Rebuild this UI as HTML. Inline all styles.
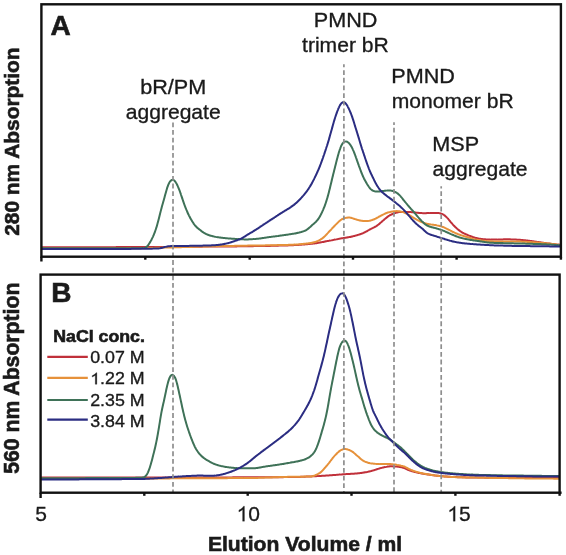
<!DOCTYPE html>
<html><head><meta charset="utf-8"><style>
html,body{margin:0;padding:0;background:#fff;}
body{width:566px;height:555px;overflow:hidden;}
svg{display:block;will-change:transform;}
text{font-family:"Liberation Sans",sans-serif;fill:#1a1a1a;}
.b{font-weight:bold;stroke:#1a1a1a;stroke-width:0.6;}
.r{stroke:#1a1a1a;stroke-width:0.32;}
</style></head><body>
<svg width="566" height="555" viewBox="0 0 566 555">
<rect width="566" height="555" fill="#fff"/>
<g fill="none" stroke-width="2.0" stroke-linejoin="round" stroke-linecap="round">
<path d="M42.0,247.3 C42.2,247.3 42.7,247.3 43.0,247.3 C43.3,247.3 43.7,247.3 44.0,247.3 C44.3,247.3 44.7,247.3 45.0,247.3 C45.3,247.3 45.7,247.3 46.0,247.3 C46.3,247.3 46.7,247.3 47.0,247.3 C47.3,247.3 47.7,247.3 48.0,247.3 C48.3,247.3 48.7,247.3 49.0,247.3 C49.3,247.3 49.7,247.3 50.0,247.3 C50.3,247.3 50.7,247.3 51.0,247.3 C51.3,247.3 51.7,247.3 52.0,247.3 C52.3,247.3 52.7,247.3 53.0,247.3 C53.3,247.3 53.7,247.3 54.0,247.3 C54.3,247.3 54.7,247.3 55.0,247.3 C55.3,247.3 55.7,247.3 56.0,247.3 C56.3,247.3 56.7,247.3 57.0,247.3 C57.3,247.3 57.7,247.3 58.0,247.3 C58.3,247.3 58.7,247.3 59.0,247.3 C59.3,247.3 59.7,247.3 60.0,247.3 C60.3,247.3 60.7,247.3 61.0,247.3 C61.3,247.3 61.7,247.3 62.0,247.3 C62.3,247.3 62.7,247.3 63.0,247.3 C63.3,247.3 63.7,247.3 64.0,247.3 C64.3,247.3 64.7,247.3 65.0,247.3 C65.3,247.3 65.7,247.3 66.0,247.3 C66.3,247.3 66.7,247.3 67.0,247.3 C67.3,247.3 67.7,247.3 68.0,247.3 C68.3,247.3 68.7,247.3 69.0,247.3 C69.3,247.3 69.7,247.3 70.0,247.3 C70.3,247.3 70.7,247.3 71.0,247.3 C71.3,247.3 71.7,247.3 72.0,247.3 C72.3,247.3 72.7,247.3 73.0,247.3 C73.3,247.3 73.7,247.3 74.0,247.3 C74.3,247.3 74.7,247.3 75.0,247.3 C75.3,247.3 75.7,247.3 76.0,247.3 C76.3,247.3 76.7,247.3 77.0,247.3 C77.3,247.3 77.7,247.3 78.0,247.3 C78.3,247.3 78.7,247.3 79.0,247.2 C79.3,247.2 79.7,247.2 80.0,247.2 C80.3,247.2 80.7,247.2 81.0,247.2 C81.3,247.2 81.7,247.2 82.0,247.2 C82.3,247.2 82.7,247.2 83.0,247.2 C83.3,247.2 83.7,247.2 84.0,247.2 C84.3,247.2 84.7,247.2 85.0,247.2 C85.3,247.2 85.7,247.2 86.0,247.2 C86.3,247.2 86.7,247.2 87.0,247.2 C87.3,247.2 87.7,247.2 88.0,247.2 C88.3,247.2 88.7,247.2 89.0,247.2 C89.3,247.2 89.7,247.2 90.0,247.2 C90.3,247.2 90.7,247.2 91.0,247.2 C91.3,247.2 91.7,247.2 92.0,247.2 C92.3,247.2 92.7,247.2 93.0,247.2 C93.3,247.2 93.7,247.2 94.0,247.2 C94.3,247.2 94.7,247.2 95.0,247.2 C95.3,247.2 95.7,247.2 96.0,247.2 C96.3,247.2 96.7,247.2 97.0,247.2 C97.3,247.2 97.7,247.2 98.0,247.2 C98.3,247.2 98.7,247.2 99.0,247.2 C99.3,247.2 99.7,247.2 100.0,247.2 C100.3,247.2 100.7,247.2 101.0,247.2 C101.3,247.2 101.7,247.2 102.0,247.2 C102.3,247.2 102.7,247.2 103.0,247.2 C103.3,247.2 103.7,247.2 104.0,247.2 C104.3,247.2 104.7,247.2 105.0,247.2 C105.3,247.2 105.7,247.2 106.0,247.2 C106.3,247.2 106.7,247.2 107.0,247.2 C107.3,247.2 107.7,247.2 108.0,247.2 C108.3,247.2 108.7,247.2 109.0,247.2 C109.3,247.2 109.7,247.2 110.0,247.2 C110.3,247.2 110.7,247.2 111.0,247.2 C111.3,247.2 111.7,247.2 112.0,247.2 C112.3,247.2 112.7,247.2 113.0,247.2 C113.3,247.2 113.7,247.2 114.0,247.2 C114.3,247.2 114.7,247.2 115.0,247.2 C115.3,247.2 115.7,247.2 116.0,247.1 C116.3,247.1 116.7,247.1 117.0,247.1 C117.3,247.1 117.7,247.1 118.0,247.1 C118.3,247.1 118.7,247.1 119.0,247.1 C119.3,247.1 119.7,247.1 120.0,247.1 C120.3,247.1 120.7,247.1 121.0,247.1 C121.3,247.1 121.7,247.1 122.0,247.1 C122.3,247.1 122.7,247.1 123.0,247.1 C123.3,247.1 123.7,247.1 124.0,247.1 C124.3,247.1 124.7,247.1 125.0,247.1 C125.3,247.1 125.7,247.1 126.0,247.1 C126.3,247.1 126.7,247.1 127.0,247.1 C127.3,247.1 127.7,247.1 128.0,247.1 C128.3,247.1 128.7,247.1 129.0,247.1 C129.3,247.1 129.7,247.1 130.0,247.1 C130.3,247.1 130.7,247.1 131.0,247.1 C131.3,247.1 131.7,247.1 132.0,247.1 C132.3,247.1 132.7,247.1 133.0,247.1 C133.3,247.1 133.7,247.1 134.0,247.1 C134.3,247.1 134.7,247.1 135.0,247.1 C135.3,247.1 135.7,247.1 136.0,247.1 C136.3,247.1 136.7,247.1 137.0,247.1 C137.3,247.1 137.7,247.1 138.0,247.0 C138.3,247.0 138.7,247.0 139.0,247.0 C139.3,247.0 139.7,247.0 140.0,247.0 C140.3,247.0 140.7,247.0 141.0,247.0 C141.3,247.0 141.7,247.0 142.0,247.0 C142.3,247.0 142.7,247.0 143.0,247.0 C143.3,247.0 143.7,247.0 144.0,247.0 C144.3,247.0 144.7,247.0 145.0,247.0 C145.3,247.0 145.7,247.0 146.0,247.0 C146.3,247.0 146.7,247.0 147.0,247.0 C147.3,247.0 147.7,247.0 148.0,247.0 C148.3,247.0 148.7,247.0 149.0,247.0 C149.3,247.0 149.7,247.0 150.0,247.0 C150.3,247.0 150.7,247.0 151.0,247.0 C151.3,247.0 151.7,247.0 152.0,247.0 C152.3,247.0 152.7,247.0 153.0,247.0 C153.3,247.0 153.7,247.0 154.0,247.0 C154.3,247.0 154.7,247.0 155.0,247.0 C155.3,247.0 155.7,247.0 156.0,246.9 C156.3,246.9 156.7,246.9 157.0,246.9 C157.3,246.9 157.7,246.9 158.0,246.9 C158.3,246.9 158.7,246.9 159.0,246.9 C159.3,246.9 159.7,246.9 160.0,246.9 C160.3,246.9 160.7,246.9 161.0,246.9 C161.3,246.9 161.7,246.9 162.0,246.9 C162.3,246.9 162.7,246.9 163.0,246.9 C163.3,246.9 163.7,246.9 164.0,246.9 C164.3,246.9 164.7,246.9 165.0,246.9 C165.3,246.9 165.7,246.9 166.0,246.9 C166.3,246.9 166.7,246.9 167.0,246.9 C167.3,246.9 167.7,246.9 168.0,246.9 C168.3,246.9 168.7,246.9 169.0,246.9 C169.3,246.9 169.7,246.9 170.0,246.9 C170.3,246.9 170.7,246.9 171.0,246.9 C171.3,246.9 171.7,246.9 172.0,246.9 C172.3,246.8 172.7,246.8 173.0,246.8 C173.3,246.8 173.7,246.8 174.0,246.8 C174.3,246.8 174.7,246.8 175.0,246.8 C175.3,246.8 175.7,246.8 176.0,246.8 C176.3,246.8 176.7,246.8 177.0,246.8 C177.3,246.8 177.7,246.8 178.0,246.8 C178.3,246.8 178.7,246.8 179.0,246.8 C179.3,246.8 179.7,246.8 180.0,246.8 C180.3,246.8 180.7,246.8 181.0,246.8 C181.3,246.8 181.7,246.8 182.0,246.8 C182.3,246.8 182.7,246.8 183.0,246.8 C183.3,246.8 183.7,246.8 184.0,246.8 C184.3,246.8 184.7,246.8 185.0,246.8 C185.3,246.8 185.7,246.8 186.0,246.8 C186.3,246.8 186.7,246.8 187.0,246.8 C187.3,246.8 187.7,246.8 188.0,246.7 C188.3,246.7 188.7,246.7 189.0,246.7 C189.3,246.7 189.7,246.7 190.0,246.7 C190.3,246.7 190.7,246.7 191.0,246.7 C191.3,246.7 191.7,246.7 192.0,246.7 C192.3,246.7 192.7,246.7 193.0,246.7 C193.3,246.7 193.7,246.7 194.0,246.7 C194.3,246.7 194.7,246.7 195.0,246.7 C195.3,246.7 195.7,246.7 196.0,246.7 C196.3,246.7 196.7,246.7 197.0,246.7 C197.3,246.7 197.7,246.7 198.0,246.7 C198.3,246.7 198.7,246.7 199.0,246.7 C199.3,246.7 199.7,246.7 200.0,246.7 C200.3,246.7 200.7,246.7 201.0,246.7 C201.3,246.7 201.7,246.7 202.0,246.7 C202.3,246.7 202.7,246.7 203.0,246.6 C203.3,246.6 203.7,246.6 204.0,246.6 C204.3,246.6 204.7,246.6 205.0,246.6 C205.3,246.6 205.7,246.6 206.0,246.6 C206.3,246.6 206.7,246.6 207.0,246.6 C207.3,246.6 207.7,246.6 208.0,246.6 C208.3,246.6 208.7,246.6 209.0,246.6 C209.3,246.6 209.7,246.6 210.0,246.6 C210.3,246.6 210.7,246.6 211.0,246.6 C211.3,246.6 211.7,246.6 212.0,246.6 C212.3,246.6 212.7,246.6 213.0,246.6 C213.3,246.6 213.7,246.6 214.0,246.6 C214.3,246.6 214.7,246.6 215.0,246.6 C215.3,246.6 215.7,246.6 216.0,246.5 C216.3,246.5 216.7,246.5 217.0,246.5 C217.3,246.5 217.7,246.5 218.0,246.5 C218.3,246.5 218.7,246.5 219.0,246.5 C219.3,246.5 219.7,246.5 220.0,246.5 C220.3,246.5 220.7,246.5 221.0,246.5 C221.3,246.5 221.7,246.5 222.0,246.5 C222.3,246.5 222.7,246.5 223.0,246.5 C223.3,246.5 223.7,246.5 224.0,246.5 C224.3,246.5 224.7,246.5 225.0,246.5 C225.3,246.5 225.7,246.5 226.0,246.5 C226.3,246.5 226.7,246.5 227.0,246.5 C227.3,246.5 227.7,246.4 228.0,246.4 C228.3,246.4 228.7,246.4 229.0,246.4 C229.3,246.4 229.7,246.4 230.0,246.4 C230.3,246.4 230.7,246.4 231.0,246.4 C231.3,246.4 231.7,246.4 232.0,246.4 C232.3,246.4 232.7,246.4 233.0,246.4 C233.3,246.4 233.7,246.4 234.0,246.4 C234.3,246.4 234.7,246.4 235.0,246.4 C235.3,246.4 235.7,246.4 236.0,246.4 C236.3,246.4 236.7,246.4 237.0,246.4 C237.3,246.3 237.7,246.3 238.0,246.3 C238.3,246.3 238.7,246.3 239.0,246.3 C239.3,246.3 239.7,246.3 240.0,246.3 C240.3,246.3 240.7,246.3 241.0,246.3 C241.3,246.3 241.7,246.3 242.0,246.3 C242.3,246.3 242.7,246.3 243.0,246.3 C243.3,246.3 243.7,246.3 244.0,246.3 C244.3,246.3 244.7,246.3 245.0,246.3 C245.3,246.3 245.7,246.3 246.0,246.3 C246.3,246.2 246.7,246.2 247.0,246.2 C247.3,246.2 247.7,246.2 248.0,246.2 C248.3,246.2 248.7,246.2 249.0,246.2 C249.3,246.2 249.7,246.2 250.0,246.2 C250.3,246.2 250.7,246.2 251.0,246.2 C251.3,246.2 251.7,246.2 252.0,246.2 C252.3,246.2 252.7,246.2 253.0,246.2 C253.3,246.2 253.7,246.2 254.0,246.1 C254.3,246.1 254.7,246.1 255.0,246.1 C255.3,246.1 255.7,246.1 256.0,246.1 C256.3,246.1 256.7,246.1 257.0,246.1 C257.3,246.1 257.7,246.1 258.0,246.1 C258.3,246.1 258.7,246.1 259.0,246.1 C259.3,246.1 259.7,246.1 260.0,246.1 C260.3,246.0 260.7,246.0 261.0,246.0 C261.3,246.0 261.7,246.0 262.0,246.0 C262.3,246.0 262.7,246.0 263.0,246.0 C263.3,246.0 263.7,246.0 264.0,246.0 C264.3,246.0 264.7,246.0 265.0,246.0 C265.3,246.0 265.7,246.0 266.0,245.9 C266.3,245.9 266.7,245.9 267.0,245.9 C267.3,245.9 267.7,245.9 268.0,245.9 C268.3,245.9 268.7,245.9 269.0,245.9 C269.3,245.9 269.7,245.9 270.0,245.9 C270.3,245.9 270.7,245.9 271.0,245.8 C271.3,245.8 271.7,245.8 272.0,245.8 C272.3,245.8 272.7,245.8 273.0,245.8 C273.3,245.8 273.7,245.8 274.0,245.8 C274.3,245.8 274.7,245.8 275.0,245.8 C275.3,245.7 275.7,245.7 276.0,245.7 C276.3,245.7 276.7,245.7 277.0,245.7 C277.3,245.7 277.7,245.7 278.0,245.7 C278.3,245.7 278.7,245.7 279.0,245.6 C279.3,245.6 279.7,245.6 280.0,245.6 C280.3,245.6 280.7,245.6 281.0,245.6 C281.3,245.6 281.7,245.6 282.0,245.6 C282.3,245.6 282.7,245.5 283.0,245.5 C283.3,245.5 283.7,245.5 284.0,245.5 C284.3,245.5 284.7,245.5 285.0,245.5 C285.3,245.5 285.7,245.4 286.0,245.4 C286.3,245.4 286.7,245.4 287.0,245.4 C287.3,245.4 287.7,245.4 288.0,245.4 C288.3,245.4 288.7,245.3 289.0,245.3 C289.3,245.3 289.7,245.3 290.0,245.3 C290.3,245.3 290.7,245.3 291.0,245.3 C291.3,245.2 291.7,245.2 292.0,245.2 C292.3,245.2 292.7,245.2 293.0,245.2 C293.3,245.2 293.7,245.1 294.0,245.1 C294.3,245.1 294.7,245.1 295.0,245.1 C295.3,245.1 295.7,245.0 296.0,245.0 C296.3,245.0 296.7,245.0 297.0,245.0 C297.3,244.9 297.7,244.9 298.0,244.9 C298.3,244.9 298.7,244.9 299.0,244.8 C299.3,244.8 299.7,244.8 300.0,244.8 C300.3,244.7 300.7,244.7 301.0,244.7 C301.3,244.7 301.7,244.6 302.0,244.6 C302.3,244.6 302.7,244.6 303.0,244.5 C303.3,244.5 303.7,244.5 304.0,244.5 C304.3,244.4 304.7,244.4 305.0,244.4 C305.3,244.3 305.7,244.3 306.0,244.3 C306.3,244.3 306.7,244.2 307.0,244.2 C307.3,244.2 307.7,244.1 308.0,244.1 C308.3,244.1 308.7,244.0 309.0,244.0 C309.3,244.0 309.7,243.9 310.0,243.9 C310.3,243.9 310.7,243.8 311.0,243.8 C311.3,243.8 311.7,243.7 312.0,243.7 C312.3,243.7 312.7,243.6 313.0,243.6 C313.3,243.6 313.7,243.5 314.0,243.5 C314.3,243.4 314.7,243.4 315.0,243.3 C315.3,243.3 315.7,243.3 316.0,243.2 C316.3,243.2 316.7,243.1 317.0,243.0 C317.3,243.0 317.7,242.9 318.0,242.9 C318.3,242.8 318.7,242.8 319.0,242.7 C319.3,242.6 319.7,242.6 320.0,242.5 C320.3,242.5 320.7,242.4 321.0,242.3 C321.3,242.3 321.7,242.2 322.0,242.1 C322.3,242.1 322.7,242.0 323.0,241.9 C323.3,241.9 323.7,241.8 324.0,241.7 C324.3,241.7 324.7,241.6 325.0,241.5 C325.3,241.5 325.7,241.4 326.0,241.3 C326.3,241.3 326.7,241.2 327.0,241.1 C327.3,241.1 327.7,241.0 328.0,241.0 C328.3,240.9 328.7,240.8 329.0,240.8 C329.3,240.7 329.7,240.6 330.0,240.6 C330.3,240.5 330.7,240.4 331.0,240.4 C331.3,240.3 331.7,240.2 332.0,240.2 C332.3,240.1 332.7,240.0 333.0,240.0 C333.3,239.9 333.7,239.8 334.0,239.8 C334.3,239.7 334.7,239.6 335.0,239.6 C335.3,239.5 335.7,239.4 336.0,239.4 C336.3,239.3 336.7,239.2 337.0,239.2 C337.3,239.1 337.7,239.0 338.0,239.0 C338.3,238.9 338.7,238.8 339.0,238.8 C339.3,238.7 339.7,238.7 340.0,238.6 C340.3,238.6 340.7,238.5 341.0,238.4 C341.3,238.4 341.7,238.3 342.0,238.3 C342.3,238.2 342.7,238.2 343.0,238.1 C343.3,238.1 343.7,238.0 344.0,238.0 C344.3,237.9 344.7,237.9 345.0,237.8 C345.3,237.8 345.7,237.7 346.0,237.7 C346.3,237.6 346.7,237.6 347.0,237.5 C347.3,237.5 347.7,237.4 348.0,237.3 C348.3,237.3 348.7,237.2 349.0,237.1 C349.3,237.1 349.7,237.0 350.0,236.9 C350.3,236.9 350.7,236.8 351.0,236.7 C351.3,236.7 351.7,236.6 352.0,236.5 C352.3,236.4 352.7,236.4 353.0,236.3 C353.3,236.2 353.7,236.1 354.0,236.0 C354.3,235.9 354.7,235.9 355.0,235.8 C355.3,235.7 355.7,235.6 356.0,235.5 C356.3,235.4 356.7,235.3 357.0,235.2 C357.3,235.1 357.7,235.0 358.0,234.9 C358.3,234.8 358.7,234.7 359.0,234.6 C359.3,234.5 359.7,234.4 360.0,234.3 C360.3,234.2 360.7,234.1 361.0,233.9 C361.3,233.8 361.7,233.7 362.0,233.6 C362.3,233.4 362.7,233.3 363.0,233.2 C363.3,233.0 363.7,232.9 364.0,232.7 C364.3,232.6 364.7,232.4 365.0,232.2 C365.3,232.1 365.7,231.9 366.0,231.7 C366.3,231.5 366.7,231.3 367.0,231.1 C367.3,230.9 367.7,230.7 368.0,230.5 C368.3,230.4 368.7,230.2 369.0,230.0 C369.3,229.8 369.7,229.6 370.0,229.4 C370.3,229.2 370.7,229.0 371.0,228.9 C371.3,228.7 371.7,228.5 372.0,228.4 C372.3,228.2 372.7,228.0 373.0,227.9 C373.3,227.7 373.7,227.5 374.0,227.4 C374.3,227.2 374.7,227.0 375.0,226.8 C375.3,226.7 375.7,226.5 376.0,226.3 C376.3,226.1 376.7,225.9 377.0,225.7 C377.3,225.4 377.7,225.2 378.0,224.9 C378.3,224.7 378.7,224.4 379.0,224.2 C379.3,223.9 379.7,223.6 380.0,223.3 C380.3,223.0 380.7,222.7 381.0,222.4 C381.3,222.1 381.7,221.8 382.0,221.5 C382.3,221.2 382.7,220.9 383.0,220.6 C383.3,220.3 383.7,220.0 384.0,219.8 C384.3,219.5 384.7,219.2 385.0,218.9 C385.3,218.6 385.7,218.3 386.0,218.1 C386.3,217.8 386.7,217.5 387.0,217.2 C387.3,217.0 387.7,216.7 388.0,216.5 C388.3,216.2 388.7,216.0 389.0,215.8 C389.3,215.6 389.7,215.4 390.0,215.2 C390.3,215.0 390.7,214.8 391.0,214.7 C391.3,214.5 391.7,214.3 392.0,214.2 C392.3,214.1 392.7,213.9 393.0,213.8 C393.3,213.7 393.7,213.6 394.0,213.4 C394.3,213.3 394.7,213.2 395.0,213.1 C395.3,213.0 395.7,212.9 396.0,212.8 C396.3,212.7 396.7,212.6 397.0,212.5 C397.3,212.4 397.7,212.4 398.0,212.3 C398.3,212.2 398.7,212.1 399.0,212.1 C399.3,212.0 399.7,212.0 400.0,212.0 C400.3,211.9 400.7,211.9 401.0,211.9 C401.3,211.9 401.7,211.9 402.0,211.9 C402.3,211.9 402.7,211.9 403.0,211.9 C403.3,211.9 403.7,211.9 404.0,211.9 C404.3,211.9 404.7,211.9 405.0,211.9 C405.3,211.9 405.7,211.9 406.0,211.9 C406.3,211.9 406.7,211.9 407.0,211.9 C407.3,211.9 407.7,211.9 408.0,211.9 C408.3,211.9 408.7,211.9 409.0,211.9 C409.3,212.0 409.7,212.0 410.0,212.0 C410.3,212.0 410.7,212.1 411.0,212.1 C411.3,212.1 411.7,212.2 412.0,212.2 C412.3,212.2 412.7,212.3 413.0,212.3 C413.3,212.3 413.7,212.4 414.0,212.4 C414.3,212.5 414.7,212.5 415.0,212.5 C415.3,212.6 415.7,212.6 416.0,212.6 C416.3,212.7 416.7,212.7 417.0,212.7 C417.3,212.8 417.7,212.8 418.0,212.8 C418.3,212.9 418.7,212.9 419.0,212.9 C419.3,213.0 419.7,213.0 420.0,213.0 C420.3,213.0 420.7,213.1 421.0,213.1 C421.3,213.1 421.7,213.1 422.0,213.1 C422.3,213.2 422.7,213.2 423.0,213.2 C423.3,213.2 423.7,213.2 424.0,213.2 C424.3,213.2 424.7,213.2 425.0,213.2 C425.3,213.2 425.7,213.2 426.0,213.2 C426.3,213.1 426.7,213.1 427.0,213.1 C427.3,213.1 427.7,213.1 428.0,213.1 C428.3,213.1 428.7,213.1 429.0,213.1 C429.3,213.0 429.7,213.0 430.0,213.0 C430.3,213.0 430.7,213.0 431.0,213.0 C431.3,213.0 431.7,213.0 432.0,213.0 C432.3,213.0 432.7,213.0 433.0,213.0 C433.3,213.0 433.7,212.9 434.0,212.9 C434.3,212.9 434.7,212.9 435.0,212.9 C435.3,212.9 435.7,212.9 436.0,212.9 C436.3,212.9 436.7,212.9 437.0,212.9 C437.3,212.9 437.7,213.0 438.0,213.0 C438.3,213.0 438.7,213.1 439.0,213.1 C439.3,213.2 439.7,213.2 440.0,213.3 C440.3,213.4 440.7,213.5 441.0,213.6 C441.3,213.7 441.7,213.8 442.0,213.9 C442.3,214.0 442.7,214.2 443.0,214.4 C443.3,214.5 443.7,214.7 444.0,215.0 C444.3,215.2 444.7,215.5 445.0,215.7 C445.3,216.0 445.7,216.3 446.0,216.6 C446.3,216.9 446.7,217.2 447.0,217.6 C447.3,217.9 447.7,218.3 448.0,218.7 C448.3,219.1 448.7,219.5 449.0,219.9 C449.3,220.3 449.7,220.7 450.0,221.2 C450.3,221.6 450.7,222.0 451.0,222.4 C451.3,222.8 451.7,223.1 452.0,223.5 C452.3,223.9 452.7,224.3 453.0,224.7 C453.3,225.0 453.7,225.4 454.0,225.8 C454.3,226.1 454.7,226.5 455.0,226.8 C455.3,227.1 455.7,227.4 456.0,227.7 C456.3,228.1 456.7,228.3 457.0,228.6 C457.3,228.9 457.7,229.2 458.0,229.5 C458.3,229.7 458.7,230.0 459.0,230.2 C459.3,230.5 459.7,230.7 460.0,231.0 C460.3,231.2 460.7,231.4 461.0,231.6 C461.3,231.9 461.7,232.1 462.0,232.3 C462.3,232.5 462.7,232.6 463.0,232.8 C463.3,233.0 463.7,233.2 464.0,233.4 C464.3,233.5 464.7,233.7 465.0,233.8 C465.3,234.0 465.7,234.2 466.0,234.3 C466.3,234.5 466.7,234.6 467.0,234.7 C467.3,234.9 467.7,235.0 468.0,235.2 C468.3,235.3 468.7,235.4 469.0,235.6 C469.3,235.7 469.7,235.8 470.0,236.0 C470.3,236.1 470.7,236.2 471.0,236.4 C471.3,236.5 471.7,236.6 472.0,236.7 C472.3,236.9 472.7,237.0 473.0,237.1 C473.3,237.2 473.7,237.3 474.0,237.4 C474.3,237.5 474.7,237.6 475.0,237.7 C475.3,237.8 475.7,237.9 476.0,238.0 C476.3,238.1 476.7,238.1 477.0,238.2 C477.3,238.3 477.7,238.3 478.0,238.4 C478.3,238.5 478.7,238.5 479.0,238.6 C479.3,238.7 479.7,238.7 480.0,238.8 C480.3,238.8 480.7,238.9 481.0,238.9 C481.3,239.0 481.7,239.0 482.0,239.1 C482.3,239.1 482.7,239.1 483.0,239.2 C483.3,239.2 483.7,239.2 484.0,239.3 C484.3,239.3 484.7,239.3 485.0,239.3 C485.3,239.3 485.7,239.4 486.0,239.4 C486.3,239.4 486.7,239.4 487.0,239.4 C487.3,239.4 487.7,239.4 488.0,239.5 C488.3,239.5 488.7,239.5 489.0,239.5 C489.3,239.5 489.7,239.5 490.0,239.5 C490.3,239.5 490.7,239.5 491.0,239.6 C491.3,239.6 491.7,239.6 492.0,239.6 C492.3,239.6 492.7,239.6 493.0,239.6 C493.3,239.6 493.7,239.6 494.0,239.6 C494.3,239.6 494.7,239.6 495.0,239.6 C495.3,239.6 495.7,239.6 496.0,239.6 C496.3,239.6 496.7,239.6 497.0,239.6 C497.3,239.5 497.7,239.5 498.0,239.5 C498.3,239.5 498.7,239.5 499.0,239.5 C499.3,239.5 499.7,239.5 500.0,239.5 C500.3,239.5 500.7,239.4 501.0,239.4 C501.3,239.4 501.7,239.4 502.0,239.4 C502.3,239.4 502.7,239.4 503.0,239.4 C503.3,239.4 503.7,239.3 504.0,239.3 C504.3,239.3 504.7,239.3 505.0,239.3 C505.3,239.3 505.7,239.3 506.0,239.3 C506.3,239.3 506.7,239.3 507.0,239.3 C507.3,239.3 507.7,239.3 508.0,239.3 C508.3,239.3 508.7,239.3 509.0,239.3 C509.3,239.3 509.7,239.3 510.0,239.3 C510.3,239.4 510.7,239.4 511.0,239.4 C511.3,239.4 511.7,239.4 512.0,239.4 C512.3,239.4 512.7,239.4 513.0,239.5 C513.3,239.5 513.7,239.5 514.0,239.5 C514.3,239.5 514.7,239.5 515.0,239.5 C515.3,239.6 515.7,239.6 516.0,239.6 C516.3,239.6 516.7,239.6 517.0,239.7 C517.3,239.7 517.7,239.7 518.0,239.7 C518.3,239.7 518.7,239.8 519.0,239.8 C519.3,239.8 519.7,239.8 520.0,239.8 C520.3,239.9 520.7,239.9 521.0,239.9 C521.3,239.9 521.7,240.0 522.0,240.0 C522.3,240.0 522.7,240.1 523.0,240.1 C523.3,240.1 523.7,240.2 524.0,240.2 C524.3,240.2 524.7,240.3 525.0,240.3 C525.3,240.3 525.7,240.4 526.0,240.4 C526.3,240.5 526.7,240.5 527.0,240.5 C527.3,240.6 527.7,240.6 528.0,240.7 C528.3,240.7 528.7,240.7 529.0,240.8 C529.3,240.8 529.7,240.9 530.0,240.9 C530.3,241.0 530.7,241.0 531.0,241.0 C531.3,241.1 531.7,241.1 532.0,241.2 C532.3,241.2 532.7,241.3 533.0,241.3 C533.3,241.3 533.7,241.4 534.0,241.4 C534.3,241.5 534.7,241.5 535.0,241.6 C535.3,241.6 535.7,241.7 536.0,241.7 C536.3,241.8 536.7,241.8 537.0,241.9 C537.3,241.9 537.7,242.0 538.0,242.0 C538.3,242.1 538.7,242.1 539.0,242.1 C539.3,242.2 539.7,242.2 540.0,242.3 C540.3,242.3 540.7,242.4 541.0,242.4 C541.3,242.5 541.7,242.5 542.0,242.6 C542.3,242.6 542.7,242.7 543.0,242.7 C543.3,242.8 543.7,242.8 544.0,242.9 C544.3,242.9 544.7,243.0 545.0,243.0 C545.3,243.0 545.7,243.1 546.0,243.1 C546.3,243.2 546.7,243.2 547.0,243.3 C547.3,243.3 547.7,243.3 548.0,243.4 C548.3,243.4 548.7,243.5 549.0,243.5 C549.3,243.6 549.7,243.6 550.0,243.6 C550.3,243.7 550.7,243.7 551.0,243.8 C551.3,243.8 551.7,243.8 552.0,243.9 C552.3,243.9 552.7,244.0 553.0,244.0 C553.3,244.0 553.7,244.1 554.0,244.1 C554.3,244.2 554.7,244.2 555.0,244.2 C555.3,244.3 555.7,244.3 556.0,244.4 C556.3,244.4 556.7,244.4 557.0,244.5 C557.3,244.5 557.7,244.5 558.0,244.6 C558.3,244.6 558.7,244.6 559.0,244.7 C559.3,244.7 559.8,244.7 560.0,244.7" stroke="#c0303a"/>
<path d="M42.0,248.6 C42.2,248.6 42.7,248.6 43.0,248.6 C43.3,248.6 43.7,248.6 44.0,248.6 C44.3,248.6 44.7,248.6 45.0,248.6 C45.3,248.6 45.7,248.6 46.0,248.6 C46.3,248.6 46.7,248.6 47.0,248.6 C47.3,248.6 47.7,248.6 48.0,248.6 C48.3,248.6 48.7,248.6 49.0,248.6 C49.3,248.6 49.7,248.6 50.0,248.6 C50.3,248.6 50.7,248.6 51.0,248.6 C51.3,248.6 51.7,248.6 52.0,248.6 C52.3,248.6 52.7,248.6 53.0,248.6 C53.3,248.6 53.7,248.6 54.0,248.6 C54.3,248.6 54.7,248.6 55.0,248.6 C55.3,248.6 55.7,248.6 56.0,248.6 C56.3,248.6 56.7,248.6 57.0,248.6 C57.3,248.6 57.7,248.6 58.0,248.6 C58.3,248.6 58.7,248.6 59.0,248.6 C59.3,248.6 59.7,248.6 60.0,248.6 C60.3,248.6 60.7,248.6 61.0,248.6 C61.3,248.6 61.7,248.6 62.0,248.6 C62.3,248.6 62.7,248.6 63.0,248.6 C63.3,248.6 63.7,248.6 64.0,248.6 C64.3,248.6 64.7,248.6 65.0,248.6 C65.3,248.6 65.7,248.6 66.0,248.6 C66.3,248.6 66.7,248.6 67.0,248.6 C67.3,248.6 67.7,248.6 68.0,248.6 C68.3,248.6 68.7,248.6 69.0,248.6 C69.3,248.6 69.7,248.6 70.0,248.6 C70.3,248.6 70.7,248.6 71.0,248.6 C71.3,248.6 71.7,248.6 72.0,248.6 C72.3,248.6 72.7,248.6 73.0,248.6 C73.3,248.6 73.7,248.6 74.0,248.6 C74.3,248.6 74.7,248.6 75.0,248.6 C75.3,248.6 75.7,248.6 76.0,248.6 C76.3,248.6 76.7,248.6 77.0,248.6 C77.3,248.6 77.7,248.6 78.0,248.6 C78.3,248.6 78.7,248.6 79.0,248.6 C79.3,248.6 79.7,248.5 80.0,248.5 C80.3,248.5 80.7,248.5 81.0,248.5 C81.3,248.5 81.7,248.5 82.0,248.5 C82.3,248.5 82.7,248.5 83.0,248.5 C83.3,248.5 83.7,248.5 84.0,248.5 C84.3,248.5 84.7,248.5 85.0,248.5 C85.3,248.5 85.7,248.5 86.0,248.5 C86.3,248.5 86.7,248.5 87.0,248.5 C87.3,248.5 87.7,248.5 88.0,248.5 C88.3,248.5 88.7,248.5 89.0,248.5 C89.3,248.5 89.7,248.5 90.0,248.5 C90.3,248.5 90.7,248.5 91.0,248.5 C91.3,248.5 91.7,248.5 92.0,248.5 C92.3,248.5 92.7,248.5 93.0,248.5 C93.3,248.5 93.7,248.5 94.0,248.5 C94.3,248.5 94.7,248.5 95.0,248.5 C95.3,248.5 95.7,248.5 96.0,248.5 C96.3,248.5 96.7,248.5 97.0,248.5 C97.3,248.5 97.7,248.5 98.0,248.5 C98.3,248.5 98.7,248.5 99.0,248.5 C99.3,248.5 99.7,248.5 100.0,248.5 C100.3,248.5 100.7,248.5 101.0,248.5 C101.3,248.5 101.7,248.5 102.0,248.5 C102.3,248.5 102.7,248.5 103.0,248.5 C103.3,248.5 103.7,248.5 104.0,248.5 C104.3,248.5 104.7,248.5 105.0,248.5 C105.3,248.5 105.7,248.5 106.0,248.5 C106.3,248.5 106.7,248.5 107.0,248.5 C107.3,248.5 107.7,248.5 108.0,248.5 C108.3,248.5 108.7,248.5 109.0,248.4 C109.3,248.4 109.7,248.4 110.0,248.4 C110.3,248.4 110.7,248.4 111.0,248.4 C111.3,248.4 111.7,248.4 112.0,248.4 C112.3,248.4 112.7,248.4 113.0,248.4 C113.3,248.4 113.7,248.4 114.0,248.4 C114.3,248.4 114.7,248.4 115.0,248.4 C115.3,248.4 115.7,248.4 116.0,248.4 C116.3,248.4 116.7,248.4 117.0,248.4 C117.3,248.4 117.7,248.4 118.0,248.4 C118.3,248.4 118.7,248.4 119.0,248.4 C119.3,248.4 119.7,248.4 120.0,248.4 C120.3,248.4 120.7,248.4 121.0,248.4 C121.3,248.4 121.7,248.4 122.0,248.4 C122.3,248.4 122.7,248.4 123.0,248.4 C123.3,248.4 123.7,248.4 124.0,248.4 C124.3,248.4 124.7,248.4 125.0,248.4 C125.3,248.4 125.7,248.4 126.0,248.4 C126.3,248.4 126.7,248.3 127.0,248.3 C127.3,248.3 127.7,248.3 128.0,248.3 C128.3,248.3 128.7,248.3 129.0,248.3 C129.3,248.3 129.7,248.3 130.0,248.3 C130.3,248.3 130.7,248.3 131.0,248.3 C131.3,248.3 131.7,248.3 132.0,248.3 C132.3,248.3 132.7,248.3 133.0,248.3 C133.3,248.3 133.7,248.3 134.0,248.3 C134.3,248.3 134.7,248.2 135.0,248.2 C135.3,248.2 135.7,248.2 136.0,248.2 C136.3,248.2 136.7,248.2 137.0,248.2 C137.3,248.2 137.7,248.2 138.0,248.2 C138.3,248.2 138.7,248.2 139.0,248.2 C139.3,248.2 139.7,248.2 140.0,248.2 C140.3,248.1 140.7,248.1 141.0,248.1 C141.3,248.1 141.7,248.1 142.0,248.1 C142.3,248.1 142.7,248.1 143.0,248.1 C143.3,248.1 143.7,248.1 144.0,248.1 C144.3,248.1 144.7,248.1 145.0,248.1 C145.3,248.0 145.7,248.0 146.0,248.0 C146.3,248.0 146.7,248.0 147.0,248.0 C147.3,248.0 147.7,248.0 148.0,248.0 C148.3,248.0 148.7,248.0 149.0,248.0 C149.3,248.0 149.7,248.0 150.0,247.9 C150.3,247.9 150.7,247.9 151.0,247.9 C151.3,247.9 151.7,247.9 152.0,247.9 C152.3,247.9 152.7,247.9 153.0,247.9 C153.3,247.9 153.7,247.9 154.0,247.9 C154.3,247.8 154.7,247.8 155.0,247.8 C155.3,247.8 155.7,247.8 156.0,247.8 C156.3,247.8 156.7,247.8 157.0,247.8 C157.3,247.8 157.7,247.8 158.0,247.8 C158.3,247.7 158.7,247.7 159.0,247.7 C159.3,247.7 159.7,247.7 160.0,247.7 C160.3,247.7 160.7,247.7 161.0,247.7 C161.3,247.7 161.7,247.7 162.0,247.7 C162.3,247.6 162.7,247.6 163.0,247.6 C163.3,247.6 163.7,247.6 164.0,247.6 C164.3,247.6 164.7,247.6 165.0,247.6 C165.3,247.6 165.7,247.6 166.0,247.6 C166.3,247.5 166.7,247.5 167.0,247.5 C167.3,247.5 167.7,247.5 168.0,247.5 C168.3,247.5 168.7,247.5 169.0,247.5 C169.3,247.5 169.7,247.5 170.0,247.4 C170.3,247.4 170.7,247.4 171.0,247.4 C171.3,247.4 171.7,247.4 172.0,247.4 C172.3,247.4 172.7,247.4 173.0,247.4 C173.3,247.4 173.7,247.4 174.0,247.3 C174.3,247.3 174.7,247.3 175.0,247.3 C175.3,247.3 175.7,247.3 176.0,247.3 C176.3,247.3 176.7,247.3 177.0,247.3 C177.3,247.3 177.7,247.3 178.0,247.2 C178.3,247.2 178.7,247.2 179.0,247.2 C179.3,247.2 179.7,247.2 180.0,247.2 C180.3,247.2 180.7,247.2 181.0,247.2 C181.3,247.2 181.7,247.2 182.0,247.1 C182.3,247.1 182.7,247.1 183.0,247.1 C183.3,247.1 183.7,247.1 184.0,247.1 C184.3,247.1 184.7,247.1 185.0,247.1 C185.3,247.1 185.7,247.1 186.0,247.0 C186.3,247.0 186.7,247.0 187.0,247.0 C187.3,247.0 187.7,247.0 188.0,247.0 C188.3,247.0 188.7,247.0 189.0,247.0 C189.3,246.9 189.7,246.9 190.0,246.9 C190.3,246.9 190.7,246.9 191.0,246.9 C191.3,246.9 191.7,246.9 192.0,246.9 C192.3,246.9 192.7,246.8 193.0,246.8 C193.3,246.8 193.7,246.8 194.0,246.8 C194.3,246.8 194.7,246.8 195.0,246.8 C195.3,246.8 195.7,246.7 196.0,246.7 C196.3,246.7 196.7,246.7 197.0,246.7 C197.3,246.7 197.7,246.7 198.0,246.7 C198.3,246.7 198.7,246.7 199.0,246.6 C199.3,246.6 199.7,246.6 200.0,246.6 C200.3,246.6 200.7,246.6 201.0,246.6 C201.3,246.6 201.7,246.6 202.0,246.5 C202.3,246.5 202.7,246.5 203.0,246.5 C203.3,246.5 203.7,246.5 204.0,246.5 C204.3,246.5 204.7,246.5 205.0,246.5 C205.3,246.4 205.7,246.4 206.0,246.4 C206.3,246.4 206.7,246.4 207.0,246.4 C207.3,246.4 207.7,246.4 208.0,246.4 C208.3,246.4 208.7,246.4 209.0,246.3 C209.3,246.3 209.7,246.3 210.0,246.3 C210.3,246.3 210.7,246.3 211.0,246.3 C211.3,246.3 211.7,246.3 212.0,246.3 C212.3,246.3 212.7,246.3 213.0,246.2 C213.3,246.2 213.7,246.2 214.0,246.2 C214.3,246.2 214.7,246.2 215.0,246.2 C215.3,246.2 215.7,246.2 216.0,246.2 C216.3,246.2 216.7,246.2 217.0,246.2 C217.3,246.2 217.7,246.1 218.0,246.1 C218.3,246.1 218.7,246.1 219.0,246.1 C219.3,246.1 219.7,246.1 220.0,246.1 C220.3,246.1 220.7,246.1 221.0,246.1 C221.3,246.1 221.7,246.1 222.0,246.1 C222.3,246.1 222.7,246.1 223.0,246.0 C223.3,246.0 223.7,246.0 224.0,246.0 C224.3,246.0 224.7,246.0 225.0,246.0 C225.3,246.0 225.7,246.0 226.0,246.0 C226.3,246.0 226.7,246.0 227.0,246.0 C227.3,246.0 227.7,246.0 228.0,246.0 C228.3,246.0 228.7,245.9 229.0,245.9 C229.3,245.9 229.7,245.9 230.0,245.9 C230.3,245.9 230.7,245.9 231.0,245.9 C231.3,245.9 231.7,245.9 232.0,245.9 C232.3,245.9 232.7,245.9 233.0,245.9 C233.3,245.9 233.7,245.9 234.0,245.9 C234.3,245.9 234.7,245.9 235.0,245.8 C235.3,245.8 235.7,245.8 236.0,245.8 C236.3,245.8 236.7,245.8 237.0,245.8 C237.3,245.8 237.7,245.8 238.0,245.8 C238.3,245.8 238.7,245.8 239.0,245.8 C239.3,245.8 239.7,245.8 240.0,245.8 C240.3,245.8 240.7,245.8 241.0,245.8 C241.3,245.7 241.7,245.7 242.0,245.7 C242.3,245.7 242.7,245.7 243.0,245.7 C243.3,245.7 243.7,245.7 244.0,245.7 C244.3,245.7 244.7,245.7 245.0,245.7 C245.3,245.7 245.7,245.7 246.0,245.7 C246.3,245.7 246.7,245.7 247.0,245.7 C247.3,245.6 247.7,245.6 248.0,245.6 C248.3,245.6 248.7,245.6 249.0,245.6 C249.3,245.6 249.7,245.6 250.0,245.6 C250.3,245.6 250.7,245.6 251.0,245.6 C251.3,245.6 251.7,245.6 252.0,245.6 C252.3,245.6 252.7,245.6 253.0,245.5 C253.3,245.5 253.7,245.5 254.0,245.5 C254.3,245.5 254.7,245.5 255.0,245.5 C255.3,245.5 255.7,245.5 256.0,245.5 C256.3,245.5 256.7,245.5 257.0,245.5 C257.3,245.5 257.7,245.5 258.0,245.5 C258.3,245.5 258.7,245.5 259.0,245.5 C259.3,245.4 259.7,245.4 260.0,245.4 C260.3,245.4 260.7,245.4 261.0,245.4 C261.3,245.4 261.7,245.4 262.0,245.4 C262.3,245.4 262.7,245.4 263.0,245.4 C263.3,245.4 263.7,245.4 264.0,245.4 C264.3,245.4 264.7,245.4 265.0,245.4 C265.3,245.4 265.7,245.3 266.0,245.3 C266.3,245.3 266.7,245.3 267.0,245.3 C267.3,245.3 267.7,245.3 268.0,245.3 C268.3,245.3 268.7,245.3 269.0,245.3 C269.3,245.3 269.7,245.3 270.0,245.3 C270.3,245.3 270.7,245.3 271.0,245.3 C271.3,245.3 271.7,245.2 272.0,245.2 C272.3,245.2 272.7,245.2 273.0,245.2 C273.3,245.2 273.7,245.2 274.0,245.2 C274.3,245.2 274.7,245.2 275.0,245.2 C275.3,245.2 275.7,245.2 276.0,245.2 C276.3,245.2 276.7,245.2 277.0,245.1 C277.3,245.1 277.7,245.1 278.0,245.1 C278.3,245.1 278.7,245.1 279.0,245.1 C279.3,245.1 279.7,245.1 280.0,245.1 C280.3,245.1 280.7,245.1 281.0,245.1 C281.3,245.1 281.7,245.0 282.0,245.0 C282.3,245.0 282.7,245.0 283.0,245.0 C283.3,245.0 283.7,245.0 284.0,245.0 C284.3,245.0 284.7,245.0 285.0,245.0 C285.3,244.9 285.7,244.9 286.0,244.9 C286.3,244.9 286.7,244.9 287.0,244.9 C287.3,244.9 287.7,244.9 288.0,244.9 C288.3,244.9 288.7,244.8 289.0,244.8 C289.3,244.8 289.7,244.8 290.0,244.8 C290.3,244.8 290.7,244.8 291.0,244.8 C291.3,244.7 291.7,244.7 292.0,244.7 C292.3,244.7 292.7,244.7 293.0,244.7 C293.3,244.7 293.7,244.6 294.0,244.6 C294.3,244.6 294.7,244.6 295.0,244.6 C295.3,244.5 295.7,244.5 296.0,244.5 C296.3,244.5 296.7,244.4 297.0,244.4 C297.3,244.4 297.7,244.4 298.0,244.4 C298.3,244.3 298.7,244.3 299.0,244.3 C299.3,244.2 299.7,244.2 300.0,244.2 C300.3,244.2 300.7,244.1 301.0,244.1 C301.3,244.1 301.7,244.0 302.0,244.0 C302.3,244.0 302.7,244.0 303.0,243.9 C303.3,243.9 303.7,243.9 304.0,243.8 C304.3,243.8 304.7,243.8 305.0,243.7 C305.3,243.7 305.7,243.7 306.0,243.6 C306.3,243.6 306.7,243.5 307.0,243.5 C307.3,243.5 307.7,243.4 308.0,243.4 C308.3,243.3 308.7,243.3 309.0,243.2 C309.3,243.2 309.7,243.1 310.0,243.1 C310.3,243.0 310.7,243.0 311.0,242.9 C311.3,242.9 311.7,242.8 312.0,242.7 C312.3,242.7 312.7,242.6 313.0,242.5 C313.3,242.5 313.7,242.4 314.0,242.3 C314.3,242.2 314.7,242.1 315.0,242.0 C315.3,241.9 315.7,241.8 316.0,241.7 C316.3,241.6 316.7,241.5 317.0,241.3 C317.3,241.2 317.7,241.0 318.0,240.9 C318.3,240.7 318.7,240.5 319.0,240.4 C319.3,240.2 319.7,240.0 320.0,239.8 C320.3,239.6 320.7,239.4 321.0,239.2 C321.3,239.0 321.7,238.8 322.0,238.6 C322.3,238.3 322.7,238.1 323.0,237.8 C323.3,237.6 323.7,237.3 324.0,237.0 C324.3,236.7 324.7,236.4 325.0,236.1 C325.3,235.7 325.7,235.4 326.0,235.0 C326.3,234.7 326.7,234.3 327.0,234.0 C327.3,233.6 327.7,233.2 328.0,232.9 C328.3,232.5 328.7,232.1 329.0,231.8 C329.3,231.4 329.7,231.1 330.0,230.7 C330.3,230.4 330.7,230.0 331.0,229.7 C331.3,229.3 331.7,228.9 332.0,228.6 C332.3,228.2 332.7,227.9 333.0,227.5 C333.3,227.2 333.7,226.8 334.0,226.5 C334.3,226.1 334.7,225.8 335.0,225.4 C335.3,225.1 335.7,224.7 336.0,224.4 C336.3,224.0 336.7,223.7 337.0,223.4 C337.3,223.0 337.7,222.7 338.0,222.4 C338.3,222.0 338.7,221.7 339.0,221.4 C339.3,221.1 339.7,220.8 340.0,220.6 C340.3,220.3 340.7,220.1 341.0,219.8 C341.3,219.6 341.7,219.4 342.0,219.2 C342.3,219.0 342.7,218.8 343.0,218.7 C343.3,218.5 343.7,218.4 344.0,218.3 C344.3,218.2 344.7,218.1 345.0,218.0 C345.3,217.9 345.7,217.8 346.0,217.8 C346.3,217.7 346.7,217.7 347.0,217.7 C347.3,217.6 347.7,217.6 348.0,217.6 C348.3,217.6 348.7,217.6 349.0,217.6 C349.3,217.6 349.7,217.6 350.0,217.6 C350.3,217.7 350.7,217.8 351.0,217.8 C351.3,217.9 351.7,218.0 352.0,218.1 C352.3,218.2 352.7,218.3 353.0,218.4 C353.3,218.5 353.7,218.7 354.0,218.8 C354.3,218.9 354.7,219.0 355.0,219.1 C355.3,219.2 355.7,219.3 356.0,219.4 C356.3,219.5 356.7,219.6 357.0,219.7 C357.3,219.8 357.7,219.9 358.0,220.0 C358.3,220.1 358.7,220.2 359.0,220.3 C359.3,220.4 359.7,220.5 360.0,220.5 C360.3,220.6 360.7,220.6 361.0,220.7 C361.3,220.7 361.7,220.8 362.0,220.8 C362.3,220.9 362.7,220.9 363.0,220.9 C363.3,220.9 363.7,221.0 364.0,221.0 C364.3,221.0 364.7,221.0 365.0,221.0 C365.3,221.0 365.7,221.1 366.0,221.1 C366.3,221.1 366.7,221.1 367.0,221.1 C367.3,221.1 367.7,221.0 368.0,221.0 C368.3,221.0 368.7,221.0 369.0,220.9 C369.3,220.8 369.7,220.8 370.0,220.7 C370.3,220.6 370.7,220.5 371.0,220.4 C371.3,220.3 371.7,220.2 372.0,220.1 C372.3,220.0 372.7,219.9 373.0,219.7 C373.3,219.6 373.7,219.5 374.0,219.3 C374.3,219.2 374.7,219.1 375.0,218.9 C375.3,218.7 375.7,218.6 376.0,218.4 C376.3,218.2 376.7,218.0 377.0,217.8 C377.3,217.7 377.7,217.5 378.0,217.3 C378.3,217.1 378.7,216.9 379.0,216.7 C379.3,216.5 379.7,216.3 380.0,216.2 C380.3,216.0 380.7,215.8 381.0,215.6 C381.3,215.4 381.7,215.3 382.0,215.1 C382.3,214.9 382.7,214.7 383.0,214.6 C383.3,214.4 383.7,214.2 384.0,214.1 C384.3,213.9 384.7,213.8 385.0,213.6 C385.3,213.5 385.7,213.4 386.0,213.2 C386.3,213.1 386.7,213.0 387.0,212.9 C387.3,212.7 387.7,212.6 388.0,212.5 C388.3,212.4 388.7,212.3 389.0,212.2 C389.3,212.1 389.7,212.0 390.0,212.0 C390.3,211.9 390.7,211.8 391.0,211.7 C391.3,211.7 391.7,211.6 392.0,211.6 C392.3,211.5 392.7,211.5 393.0,211.4 C393.3,211.4 393.7,211.4 394.0,211.3 C394.3,211.3 394.7,211.3 395.0,211.2 C395.3,211.2 395.7,211.2 396.0,211.2 C396.3,211.1 396.7,211.1 397.0,211.1 C397.3,211.1 397.7,211.2 398.0,211.2 C398.3,211.2 398.7,211.2 399.0,211.3 C399.3,211.3 399.7,211.4 400.0,211.4 C400.3,211.5 400.7,211.5 401.0,211.6 C401.3,211.7 401.7,211.8 402.0,211.9 C402.3,211.9 402.7,212.0 403.0,212.1 C403.3,212.2 403.7,212.3 404.0,212.4 C404.3,212.6 404.7,212.7 405.0,212.8 C405.3,213.0 405.7,213.1 406.0,213.3 C406.3,213.5 406.7,213.6 407.0,213.8 C407.3,214.0 407.7,214.2 408.0,214.4 C408.3,214.5 408.7,214.7 409.0,214.9 C409.3,215.1 409.7,215.3 410.0,215.5 C410.3,215.7 410.7,215.9 411.0,216.1 C411.3,216.3 411.7,216.5 412.0,216.8 C412.3,217.0 412.7,217.2 413.0,217.4 C413.3,217.6 413.7,217.8 414.0,218.1 C414.3,218.3 414.7,218.5 415.0,218.7 C415.3,218.9 415.7,219.1 416.0,219.2 C416.3,219.4 416.7,219.6 417.0,219.8 C417.3,220.0 417.7,220.2 418.0,220.3 C418.3,220.5 418.7,220.7 419.0,220.8 C419.3,221.0 419.7,221.2 420.0,221.3 C420.3,221.5 420.7,221.6 421.0,221.8 C421.3,221.9 421.7,222.0 422.0,222.2 C422.3,222.3 422.7,222.4 423.0,222.5 C423.3,222.7 423.7,222.8 424.0,222.9 C424.3,223.0 424.7,223.1 425.0,223.2 C425.3,223.3 425.7,223.4 426.0,223.5 C426.3,223.6 426.7,223.7 427.0,223.8 C427.3,223.9 427.7,223.9 428.0,224.0 C428.3,224.1 428.7,224.1 429.0,224.2 C429.3,224.2 429.7,224.3 430.0,224.3 C430.3,224.4 430.7,224.4 431.0,224.5 C431.3,224.5 431.7,224.5 432.0,224.6 C432.3,224.6 432.7,224.7 433.0,224.7 C433.3,224.8 433.7,224.8 434.0,224.9 C434.3,224.9 434.7,225.0 435.0,225.0 C435.3,225.1 435.7,225.1 436.0,225.2 C436.3,225.3 436.7,225.3 437.0,225.4 C437.3,225.4 437.7,225.5 438.0,225.6 C438.3,225.7 438.7,225.7 439.0,225.8 C439.3,225.9 439.7,226.0 440.0,226.1 C440.3,226.1 440.7,226.2 441.0,226.3 C441.3,226.4 441.7,226.5 442.0,226.6 C442.3,226.7 442.7,226.9 443.0,227.0 C443.3,227.1 443.7,227.3 444.0,227.4 C444.3,227.5 444.7,227.7 445.0,227.9 C445.3,228.0 445.7,228.2 446.0,228.4 C446.3,228.5 446.7,228.7 447.0,228.9 C447.3,229.0 447.7,229.2 448.0,229.4 C448.3,229.6 448.7,229.7 449.0,229.9 C449.3,230.1 449.7,230.3 450.0,230.4 C450.3,230.6 450.7,230.8 451.0,230.9 C451.3,231.1 451.7,231.3 452.0,231.5 C452.3,231.6 452.7,231.8 453.0,232.0 C453.3,232.1 453.7,232.3 454.0,232.4 C454.3,232.6 454.7,232.8 455.0,232.9 C455.3,233.0 455.7,233.2 456.0,233.3 C456.3,233.5 456.7,233.6 457.0,233.7 C457.3,233.9 457.7,234.0 458.0,234.1 C458.3,234.2 458.7,234.4 459.0,234.5 C459.3,234.6 459.7,234.7 460.0,234.8 C460.3,235.0 460.7,235.1 461.0,235.2 C461.3,235.3 461.7,235.4 462.0,235.5 C462.3,235.6 462.7,235.7 463.0,235.8 C463.3,235.9 463.7,236.0 464.0,236.1 C464.3,236.2 464.7,236.3 465.0,236.4 C465.3,236.5 465.7,236.6 466.0,236.7 C466.3,236.8 466.7,236.9 467.0,237.0 C467.3,237.1 467.7,237.2 468.0,237.3 C468.3,237.4 468.7,237.5 469.0,237.6 C469.3,237.7 469.7,237.8 470.0,237.9 C470.3,238.0 470.7,238.1 471.0,238.2 C471.3,238.3 471.7,238.5 472.0,238.6 C472.3,238.7 472.7,238.8 473.0,238.9 C473.3,238.9 473.7,239.0 474.0,239.1 C474.3,239.2 474.7,239.3 475.0,239.4 C475.3,239.4 475.7,239.5 476.0,239.6 C476.3,239.6 476.7,239.7 477.0,239.8 C477.3,239.8 477.7,239.9 478.0,239.9 C478.3,240.0 478.7,240.1 479.0,240.1 C479.3,240.2 479.7,240.2 480.0,240.3 C480.3,240.3 480.7,240.4 481.0,240.4 C481.3,240.5 481.7,240.5 482.0,240.6 C482.3,240.6 482.7,240.7 483.0,240.7 C483.3,240.8 483.7,240.8 484.0,240.8 C484.3,240.9 484.7,240.9 485.0,241.0 C485.3,241.0 485.7,241.0 486.0,241.1 C486.3,241.1 486.7,241.1 487.0,241.1 C487.3,241.2 487.7,241.2 488.0,241.2 C488.3,241.2 488.7,241.2 489.0,241.3 C489.3,241.3 489.7,241.3 490.0,241.3 C490.3,241.3 490.7,241.3 491.0,241.3 C491.3,241.3 491.7,241.3 492.0,241.3 C492.3,241.3 492.7,241.3 493.0,241.4 C493.3,241.4 493.7,241.4 494.0,241.4 C494.3,241.4 494.7,241.4 495.0,241.4 C495.3,241.4 495.7,241.4 496.0,241.4 C496.3,241.4 496.7,241.4 497.0,241.4 C497.3,241.4 497.7,241.4 498.0,241.4 C498.3,241.4 498.7,241.4 499.0,241.4 C499.3,241.4 499.7,241.4 500.0,241.4 C500.3,241.4 500.7,241.4 501.0,241.4 C501.3,241.4 501.7,241.4 502.0,241.4 C502.3,241.4 502.7,241.4 503.0,241.4 C503.3,241.5 503.7,241.5 504.0,241.5 C504.3,241.5 504.7,241.5 505.0,241.5 C505.3,241.5 505.7,241.5 506.0,241.5 C506.3,241.5 506.7,241.5 507.0,241.5 C507.3,241.5 507.7,241.5 508.0,241.5 C508.3,241.5 508.7,241.5 509.0,241.5 C509.3,241.5 509.7,241.5 510.0,241.5 C510.3,241.5 510.7,241.5 511.0,241.5 C511.3,241.5 511.7,241.5 512.0,241.5 C512.3,241.5 512.7,241.5 513.0,241.5 C513.3,241.5 513.7,241.5 514.0,241.5 C514.3,241.5 514.7,241.5 515.0,241.5 C515.3,241.5 515.7,241.5 516.0,241.5 C516.3,241.5 516.7,241.6 517.0,241.6 C517.3,241.6 517.7,241.6 518.0,241.6 C518.3,241.6 518.7,241.6 519.0,241.6 C519.3,241.6 519.7,241.6 520.0,241.6 C520.3,241.6 520.7,241.6 521.0,241.6 C521.3,241.6 521.7,241.6 522.0,241.7 C522.3,241.7 522.7,241.7 523.0,241.7 C523.3,241.7 523.7,241.7 524.0,241.7 C524.3,241.7 524.7,241.7 525.0,241.8 C525.3,241.8 525.7,241.8 526.0,241.8 C526.3,241.8 526.7,241.8 527.0,241.9 C527.3,241.9 527.7,241.9 528.0,241.9 C528.3,241.9 528.7,241.9 529.0,242.0 C529.3,242.0 529.7,242.0 530.0,242.0 C530.3,242.0 530.7,242.1 531.0,242.1 C531.3,242.1 531.7,242.1 532.0,242.2 C532.3,242.2 532.7,242.2 533.0,242.2 C533.3,242.2 533.7,242.3 534.0,242.3 C534.3,242.3 534.7,242.3 535.0,242.4 C535.3,242.4 535.7,242.4 536.0,242.4 C536.3,242.5 536.7,242.5 537.0,242.5 C537.3,242.6 537.7,242.6 538.0,242.6 C538.3,242.6 538.7,242.7 539.0,242.7 C539.3,242.7 539.7,242.7 540.0,242.8 C540.3,242.8 540.7,242.8 541.0,242.9 C541.3,242.9 541.7,242.9 542.0,242.9 C542.3,243.0 542.7,243.0 543.0,243.0 C543.3,243.1 543.7,243.1 544.0,243.1 C544.3,243.1 544.7,243.2 545.0,243.2 C545.3,243.2 545.7,243.3 546.0,243.3 C546.3,243.3 546.7,243.4 547.0,243.4 C547.3,243.4 547.7,243.5 548.0,243.5 C548.3,243.5 548.7,243.6 549.0,243.6 C549.3,243.6 549.7,243.7 550.0,243.7 C550.3,243.7 550.7,243.8 551.0,243.8 C551.3,243.9 551.7,243.9 552.0,243.9 C552.3,244.0 552.7,244.0 553.0,244.1 C553.3,244.1 553.7,244.1 554.0,244.2 C554.3,244.2 554.7,244.3 555.0,244.3 C555.3,244.4 555.7,244.4 556.0,244.4 C556.3,244.5 556.7,244.5 557.0,244.6 C557.3,244.6 557.7,244.7 558.0,244.7 C558.3,244.8 558.7,244.8 559.0,244.8 C559.3,244.9 559.8,244.9 560.0,244.9" stroke="#e6913a"/>
<path d="M42.0,248.3 C42.2,248.3 42.7,248.3 43.0,248.3 C43.3,248.3 43.7,248.3 44.0,248.3 C44.3,248.3 44.7,248.3 45.0,248.3 C45.3,248.3 45.7,248.3 46.0,248.3 C46.3,248.3 46.7,248.3 47.0,248.3 C47.3,248.3 47.7,248.3 48.0,248.3 C48.3,248.3 48.7,248.3 49.0,248.3 C49.3,248.3 49.7,248.3 50.0,248.3 C50.3,248.3 50.7,248.3 51.0,248.3 C51.3,248.3 51.7,248.3 52.0,248.3 C52.3,248.3 52.7,248.3 53.0,248.3 C53.3,248.3 53.7,248.3 54.0,248.3 C54.3,248.3 54.7,248.3 55.0,248.3 C55.3,248.3 55.7,248.3 56.0,248.3 C56.3,248.3 56.7,248.3 57.0,248.3 C57.3,248.3 57.7,248.3 58.0,248.3 C58.3,248.3 58.7,248.3 59.0,248.3 C59.3,248.3 59.7,248.3 60.0,248.3 C60.3,248.3 60.7,248.3 61.0,248.3 C61.3,248.3 61.7,248.3 62.0,248.3 C62.3,248.3 62.7,248.3 63.0,248.3 C63.3,248.3 63.7,248.3 64.0,248.3 C64.3,248.3 64.7,248.3 65.0,248.3 C65.3,248.3 65.7,248.3 66.0,248.3 C66.3,248.3 66.7,248.3 67.0,248.3 C67.3,248.3 67.7,248.3 68.0,248.3 C68.3,248.3 68.7,248.3 69.0,248.3 C69.3,248.3 69.7,248.3 70.0,248.3 C70.3,248.3 70.7,248.3 71.0,248.3 C71.3,248.3 71.7,248.3 72.0,248.3 C72.3,248.3 72.7,248.3 73.0,248.3 C73.3,248.3 73.7,248.3 74.0,248.3 C74.3,248.3 74.7,248.3 75.0,248.3 C75.3,248.3 75.7,248.3 76.0,248.3 C76.3,248.3 76.7,248.3 77.0,248.3 C77.3,248.3 77.7,248.3 78.0,248.3 C78.3,248.3 78.7,248.3 79.0,248.3 C79.3,248.3 79.7,248.3 80.0,248.3 C80.3,248.3 80.7,248.3 81.0,248.3 C81.3,248.3 81.7,248.3 82.0,248.3 C82.3,248.3 82.7,248.3 83.0,248.3 C83.3,248.3 83.7,248.3 84.0,248.3 C84.3,248.3 84.7,248.3 85.0,248.3 C85.3,248.3 85.7,248.3 86.0,248.3 C86.3,248.3 86.7,248.3 87.0,248.3 C87.3,248.3 87.7,248.3 88.0,248.3 C88.3,248.3 88.7,248.3 89.0,248.3 C89.3,248.3 89.7,248.3 90.0,248.3 C90.3,248.3 90.7,248.3 91.0,248.3 C91.3,248.3 91.7,248.3 92.0,248.3 C92.3,248.3 92.7,248.3 93.0,248.3 C93.3,248.3 93.7,248.3 94.0,248.3 C94.3,248.3 94.7,248.3 95.0,248.3 C95.3,248.3 95.7,248.3 96.0,248.3 C96.3,248.3 96.7,248.3 97.0,248.3 C97.3,248.3 97.7,248.3 98.0,248.3 C98.3,248.3 98.7,248.3 99.0,248.3 C99.3,248.3 99.7,248.3 100.0,248.3 C100.3,248.3 100.7,248.3 101.0,248.3 C101.3,248.3 101.7,248.3 102.0,248.3 C102.3,248.3 102.7,248.3 103.0,248.3 C103.3,248.3 103.7,248.3 104.0,248.3 C104.3,248.3 104.7,248.3 105.0,248.3 C105.3,248.3 105.7,248.3 106.0,248.3 C106.3,248.3 106.7,248.3 107.0,248.3 C107.3,248.3 107.7,248.3 108.0,248.3 C108.3,248.3 108.7,248.3 109.0,248.3 C109.3,248.3 109.7,248.3 110.0,248.3 C110.3,248.3 110.7,248.3 111.0,248.3 C111.3,248.3 111.7,248.3 112.0,248.3 C112.3,248.3 112.7,248.3 113.0,248.3 C113.3,248.3 113.7,248.3 114.0,248.3 C114.3,248.3 114.7,248.3 115.0,248.3 C115.3,248.3 115.7,248.3 116.0,248.3 C116.3,248.3 116.7,248.3 117.0,248.3 C117.3,248.3 117.7,248.3 118.0,248.3 C118.3,248.2 118.7,248.2 119.0,248.2 C119.3,248.2 119.7,248.2 120.0,248.2 C120.3,248.2 120.7,248.2 121.0,248.2 C121.3,248.2 121.7,248.2 122.0,248.2 C122.3,248.2 122.7,248.2 123.0,248.2 C123.3,248.2 123.7,248.2 124.0,248.2 C124.3,248.2 124.7,248.2 125.0,248.2 C125.3,248.2 125.7,248.2 126.0,248.2 C126.3,248.2 126.7,248.2 127.0,248.2 C127.3,248.2 127.7,248.2 128.0,248.2 C128.3,248.2 128.7,248.2 129.0,248.2 C129.3,248.2 129.7,248.2 130.0,248.2 C130.3,248.2 130.7,248.2 131.0,248.2 C131.3,248.2 131.7,248.2 132.0,248.2 C132.3,248.2 132.7,248.2 133.0,248.2 C133.3,248.2 133.7,248.2 134.0,248.2 C134.3,248.2 134.7,248.2 135.0,248.2 C135.3,248.2 135.7,248.2 136.0,248.2 C136.3,248.2 136.7,248.2 137.0,248.2 C137.3,248.2 137.7,248.2 138.0,248.2 C138.3,248.2 138.7,248.2 139.0,248.2 C139.3,248.2 139.7,248.2 140.0,248.2 C140.3,248.2 140.7,248.2 141.0,248.2 C141.3,248.2 141.7,248.2 142.0,248.1 C142.3,248.1 142.7,248.1 143.0,248.1 C143.3,248.0 143.7,248.0 144.0,248.0 C144.3,247.9 144.7,247.8 145.0,247.7 C145.3,247.6 145.7,247.5 146.0,247.3 C146.3,247.1 146.7,246.8 147.0,246.5 C147.3,246.2 147.7,245.8 148.0,245.4 C148.3,244.9 148.7,244.5 149.0,243.9 C149.3,243.4 149.7,242.9 150.0,242.3 C150.3,241.8 150.7,241.2 151.0,240.6 C151.3,240.0 151.7,239.4 152.0,238.7 C152.3,238.0 152.7,237.3 153.0,236.6 C153.3,235.8 153.7,235.1 154.0,234.2 C154.3,233.4 154.7,232.6 155.0,231.6 C155.3,230.7 155.7,229.7 156.0,228.7 C156.3,227.7 156.7,226.6 157.0,225.4 C157.3,224.3 157.7,223.1 158.0,221.8 C158.3,220.6 158.7,219.3 159.0,218.0 C159.3,216.7 159.7,215.3 160.0,214.0 C160.3,212.7 160.7,211.4 161.0,210.1 C161.3,208.8 161.7,207.6 162.0,206.3 C162.3,205.1 162.7,204.0 163.0,202.8 C163.3,201.6 163.7,200.5 164.0,199.3 C164.3,198.1 164.7,196.8 165.0,195.6 C165.3,194.4 165.7,193.1 166.0,191.9 C166.3,190.8 166.7,189.6 167.0,188.5 C167.3,187.5 167.7,186.5 168.0,185.6 C168.3,184.7 168.7,184.0 169.0,183.3 C169.3,182.6 169.7,182.1 170.0,181.6 C170.3,181.2 170.7,180.8 171.0,180.6 C171.3,180.3 171.7,180.1 172.0,180.0 C172.3,179.9 172.7,179.9 173.0,179.9 C173.3,180.0 173.7,180.1 174.0,180.4 C174.3,180.6 174.7,180.9 175.0,181.3 C175.3,181.7 175.7,182.1 176.0,182.7 C176.3,183.2 176.7,183.8 177.0,184.5 C177.3,185.2 177.7,185.9 178.0,186.7 C178.3,187.4 178.7,188.3 179.0,189.1 C179.3,190.0 179.7,190.9 180.0,191.8 C180.3,192.7 180.7,193.7 181.0,194.7 C181.3,195.6 181.7,196.6 182.0,197.6 C182.3,198.6 182.7,199.6 183.0,200.6 C183.3,201.6 183.7,202.6 184.0,203.5 C184.3,204.5 184.7,205.4 185.0,206.3 C185.3,207.2 185.7,208.0 186.0,208.8 C186.3,209.7 186.7,210.5 187.0,211.2 C187.3,212.0 187.7,212.8 188.0,213.5 C188.3,214.2 188.7,214.9 189.0,215.6 C189.3,216.2 189.7,216.9 190.0,217.5 C190.3,218.1 190.7,218.7 191.0,219.3 C191.3,219.9 191.7,220.5 192.0,221.0 C192.3,221.6 192.7,222.1 193.0,222.6 C193.3,223.1 193.7,223.6 194.0,224.1 C194.3,224.5 194.7,225.0 195.0,225.4 C195.3,225.8 195.7,226.1 196.0,226.5 C196.3,226.8 196.7,227.2 197.0,227.5 C197.3,227.8 197.7,228.1 198.0,228.4 C198.3,228.6 198.7,228.9 199.0,229.2 C199.3,229.4 199.7,229.7 200.0,229.9 C200.3,230.2 200.7,230.5 201.0,230.7 C201.3,231.0 201.7,231.2 202.0,231.5 C202.3,231.7 202.7,232.0 203.0,232.2 C203.3,232.4 203.7,232.7 204.0,232.9 C204.3,233.1 204.7,233.3 205.0,233.4 C205.3,233.6 205.7,233.8 206.0,234.0 C206.3,234.1 206.7,234.3 207.0,234.4 C207.3,234.6 207.7,234.7 208.0,234.8 C208.3,234.9 208.7,235.0 209.0,235.1 C209.3,235.3 209.7,235.4 210.0,235.5 C210.3,235.6 210.7,235.7 211.0,235.7 C211.3,235.8 211.7,235.9 212.0,236.0 C212.3,236.1 212.7,236.2 213.0,236.2 C213.3,236.3 213.7,236.4 214.0,236.5 C214.3,236.5 214.7,236.6 215.0,236.7 C215.3,236.7 215.7,236.8 216.0,236.9 C216.3,236.9 216.7,237.0 217.0,237.1 C217.3,237.1 217.7,237.2 218.0,237.2 C218.3,237.3 218.7,237.3 219.0,237.4 C219.3,237.4 219.7,237.5 220.0,237.5 C220.3,237.6 220.7,237.6 221.0,237.7 C221.3,237.7 221.7,237.8 222.0,237.8 C222.3,237.8 222.7,237.9 223.0,237.9 C223.3,237.9 223.7,238.0 224.0,238.0 C224.3,238.0 224.7,238.1 225.0,238.1 C225.3,238.1 225.7,238.2 226.0,238.2 C226.3,238.2 226.7,238.3 227.0,238.3 C227.3,238.3 227.7,238.3 228.0,238.4 C228.3,238.4 228.7,238.4 229.0,238.5 C229.3,238.5 229.7,238.5 230.0,238.5 C230.3,238.6 230.7,238.6 231.0,238.6 C231.3,238.6 231.7,238.7 232.0,238.7 C232.3,238.7 232.7,238.7 233.0,238.8 C233.3,238.8 233.7,238.8 234.0,238.8 C234.3,238.8 234.7,238.9 235.0,238.9 C235.3,238.9 235.7,238.9 236.0,238.9 C236.3,239.0 236.7,239.0 237.0,239.0 C237.3,239.0 237.7,239.0 238.0,239.1 C238.3,239.1 238.7,239.1 239.0,239.1 C239.3,239.1 239.7,239.2 240.0,239.2 C240.3,239.2 240.7,239.2 241.0,239.2 C241.3,239.2 241.7,239.3 242.0,239.3 C242.3,239.3 242.7,239.3 243.0,239.3 C243.3,239.3 243.7,239.3 244.0,239.4 C244.3,239.4 244.7,239.4 245.0,239.4 C245.3,239.4 245.7,239.4 246.0,239.4 C246.3,239.4 246.7,239.4 247.0,239.4 C247.3,239.4 247.7,239.4 248.0,239.4 C248.3,239.4 248.7,239.4 249.0,239.3 C249.3,239.3 249.7,239.3 250.0,239.3 C250.3,239.3 250.7,239.3 251.0,239.3 C251.3,239.2 251.7,239.2 252.0,239.2 C252.3,239.2 252.7,239.2 253.0,239.1 C253.3,239.1 253.7,239.1 254.0,239.1 C254.3,239.0 254.7,239.0 255.0,239.0 C255.3,239.0 255.7,238.9 256.0,238.9 C256.3,238.9 256.7,238.8 257.0,238.8 C257.3,238.8 257.7,238.7 258.0,238.7 C258.3,238.7 258.7,238.6 259.0,238.6 C259.3,238.6 259.7,238.5 260.0,238.5 C260.3,238.4 260.7,238.4 261.0,238.3 C261.3,238.3 261.7,238.2 262.0,238.2 C262.3,238.1 262.7,238.1 263.0,238.0 C263.3,238.0 263.7,237.9 264.0,237.9 C264.3,237.8 264.7,237.8 265.0,237.7 C265.3,237.7 265.7,237.6 266.0,237.6 C266.3,237.5 266.7,237.5 267.0,237.4 C267.3,237.4 267.7,237.3 268.0,237.3 C268.3,237.2 268.7,237.2 269.0,237.1 C269.3,237.1 269.7,237.1 270.0,237.0 C270.3,237.0 270.7,236.9 271.0,236.9 C271.3,236.8 271.7,236.8 272.0,236.7 C272.3,236.7 272.7,236.7 273.0,236.6 C273.3,236.6 273.7,236.5 274.0,236.5 C274.3,236.4 274.7,236.4 275.0,236.4 C275.3,236.3 275.7,236.3 276.0,236.2 C276.3,236.2 276.7,236.1 277.0,236.1 C277.3,236.0 277.7,236.0 278.0,236.0 C278.3,235.9 278.7,235.9 279.0,235.8 C279.3,235.8 279.7,235.7 280.0,235.7 C280.3,235.6 280.7,235.6 281.0,235.5 C281.3,235.5 281.7,235.5 282.0,235.4 C282.3,235.4 282.7,235.3 283.0,235.3 C283.3,235.2 283.7,235.2 284.0,235.1 C284.3,235.1 284.7,235.0 285.0,235.0 C285.3,234.9 285.7,234.9 286.0,234.8 C286.3,234.8 286.7,234.8 287.0,234.7 C287.3,234.7 287.7,234.6 288.0,234.6 C288.3,234.5 288.7,234.5 289.0,234.4 C289.3,234.3 289.7,234.3 290.0,234.2 C290.3,234.2 290.7,234.1 291.0,234.1 C291.3,234.0 291.7,234.0 292.0,233.9 C292.3,233.9 292.7,233.8 293.0,233.8 C293.3,233.7 293.7,233.7 294.0,233.6 C294.3,233.5 294.7,233.5 295.0,233.4 C295.3,233.4 295.7,233.3 296.0,233.2 C296.3,233.2 296.7,233.1 297.0,233.0 C297.3,233.0 297.7,232.9 298.0,232.8 C298.3,232.7 298.7,232.7 299.0,232.6 C299.3,232.5 299.7,232.4 300.0,232.3 C300.3,232.3 300.7,232.2 301.0,232.1 C301.3,232.0 301.7,231.9 302.0,231.8 C302.3,231.7 302.7,231.6 303.0,231.5 C303.3,231.3 303.7,231.2 304.0,231.1 C304.3,231.0 304.7,230.8 305.0,230.7 C305.3,230.5 305.7,230.3 306.0,230.2 C306.3,230.0 306.7,229.8 307.0,229.5 C307.3,229.3 307.7,229.1 308.0,228.8 C308.3,228.6 308.7,228.3 309.0,228.0 C309.3,227.7 309.7,227.4 310.0,227.1 C310.3,226.8 310.7,226.5 311.0,226.2 C311.3,225.9 311.7,225.6 312.0,225.3 C312.3,225.0 312.7,224.7 313.0,224.4 C313.3,224.1 313.7,223.8 314.0,223.5 C314.3,223.2 314.7,223.0 315.0,222.6 C315.3,222.3 315.7,222.0 316.0,221.7 C316.3,221.3 316.7,221.0 317.0,220.6 C317.3,220.2 317.7,219.8 318.0,219.4 C318.3,218.9 318.7,218.4 319.0,217.9 C319.3,217.4 319.7,216.8 320.0,216.2 C320.3,215.6 320.7,215.0 321.0,214.3 C321.3,213.7 321.7,213.0 322.0,212.3 C322.3,211.6 322.7,210.8 323.0,210.1 C323.3,209.3 323.7,208.5 324.0,207.7 C324.3,206.9 324.7,206.0 325.0,205.1 C325.3,204.2 325.7,203.3 326.0,202.2 C326.3,201.2 326.7,200.2 327.0,199.1 C327.3,198.0 327.7,196.8 328.0,195.6 C328.3,194.4 328.7,193.1 329.0,191.8 C329.3,190.5 329.7,189.1 330.0,187.7 C330.3,186.4 330.7,184.9 331.0,183.5 C331.3,182.1 331.7,180.7 332.0,179.3 C332.3,177.9 332.7,176.6 333.0,175.2 C333.3,173.8 333.7,172.5 334.0,171.2 C334.3,169.8 334.7,168.5 335.0,167.2 C335.3,165.8 335.7,164.5 336.0,163.2 C336.3,161.9 336.7,160.6 337.0,159.3 C337.3,158.1 337.7,156.8 338.0,155.6 C338.3,154.4 338.7,153.2 339.0,152.1 C339.3,151.0 339.7,150.0 340.0,149.1 C340.3,148.1 340.7,147.3 341.0,146.5 C341.3,145.7 341.7,145.1 342.0,144.5 C342.3,143.9 342.7,143.4 343.0,143.0 C343.3,142.6 343.7,142.3 344.0,142.0 C344.3,141.8 344.7,141.7 345.0,141.6 C345.3,141.5 345.7,141.5 346.0,141.5 C346.3,141.5 346.7,141.6 347.0,141.7 C347.3,141.9 347.7,142.1 348.0,142.3 C348.3,142.5 348.7,142.8 349.0,143.2 C349.3,143.5 349.7,143.9 350.0,144.4 C350.3,144.9 350.7,145.4 351.0,145.9 C351.3,146.5 351.7,147.1 352.0,147.7 C352.3,148.3 352.7,149.0 353.0,149.8 C353.3,150.5 353.7,151.3 354.0,152.1 C354.3,152.9 354.7,153.8 355.0,154.7 C355.3,155.6 355.7,156.5 356.0,157.5 C356.3,158.4 356.7,159.4 357.0,160.4 C357.3,161.3 357.7,162.3 358.0,163.2 C358.3,164.2 358.7,165.1 359.0,166.1 C359.3,167.0 359.7,167.9 360.0,168.8 C360.3,169.7 360.7,170.6 361.0,171.5 C361.3,172.4 361.7,173.2 362.0,174.0 C362.3,174.8 362.7,175.6 363.0,176.3 C363.3,177.1 363.7,177.8 364.0,178.5 C364.3,179.1 364.7,179.8 365.0,180.4 C365.3,181.0 365.7,181.6 366.0,182.2 C366.3,182.8 366.7,183.3 367.0,183.9 C367.3,184.4 367.7,185.0 368.0,185.5 C368.3,186.0 368.7,186.5 369.0,187.0 C369.3,187.4 369.7,187.9 370.0,188.3 C370.3,188.7 370.7,189.0 371.0,189.4 C371.3,189.7 371.7,189.9 372.0,190.1 C372.3,190.3 372.7,190.5 373.0,190.7 C373.3,190.8 373.7,191.0 374.0,191.1 C374.3,191.2 374.7,191.3 375.0,191.4 C375.3,191.5 375.7,191.5 376.0,191.6 C376.3,191.6 376.7,191.6 377.0,191.6 C377.3,191.6 377.7,191.6 378.0,191.6 C378.3,191.6 378.7,191.6 379.0,191.5 C379.3,191.5 379.7,191.4 380.0,191.4 C380.3,191.4 380.7,191.3 381.0,191.3 C381.3,191.2 381.7,191.2 382.0,191.1 C382.3,191.1 382.7,191.0 383.0,191.0 C383.3,190.9 383.7,190.9 384.0,190.9 C384.3,190.8 384.7,190.8 385.0,190.7 C385.3,190.7 385.7,190.6 386.0,190.6 C386.3,190.5 386.7,190.5 387.0,190.5 C387.3,190.4 387.7,190.4 388.0,190.4 C388.3,190.4 388.7,190.4 389.0,190.4 C389.3,190.4 389.7,190.4 390.0,190.4 C390.3,190.5 390.7,190.5 391.0,190.6 C391.3,190.7 391.7,190.7 392.0,190.8 C392.3,190.9 392.7,191.0 393.0,191.1 C393.3,191.2 393.7,191.4 394.0,191.5 C394.3,191.6 394.7,191.8 395.0,191.9 C395.3,192.1 395.7,192.2 396.0,192.4 C396.3,192.6 396.7,192.8 397.0,193.0 C397.3,193.2 397.7,193.5 398.0,193.7 C398.3,194.0 398.7,194.3 399.0,194.6 C399.3,194.9 399.7,195.2 400.0,195.6 C400.3,195.9 400.7,196.3 401.0,196.8 C401.3,197.2 401.7,197.6 402.0,198.0 C402.3,198.5 402.7,198.9 403.0,199.4 C403.3,199.8 403.7,200.2 404.0,200.6 C404.3,201.0 404.7,201.4 405.0,201.8 C405.3,202.2 405.7,202.6 406.0,203.0 C406.3,203.4 406.7,203.8 407.0,204.2 C407.3,204.6 407.7,205.0 408.0,205.4 C408.3,205.8 408.7,206.2 409.0,206.6 C409.3,207.0 409.7,207.4 410.0,207.7 C410.3,208.1 410.7,208.5 411.0,208.9 C411.3,209.3 411.7,209.6 412.0,210.0 C412.3,210.4 412.7,210.7 413.0,211.1 C413.3,211.5 413.7,211.8 414.0,212.2 C414.3,212.6 414.7,213.0 415.0,213.4 C415.3,213.7 415.7,214.2 416.0,214.6 C416.3,215.0 416.7,215.4 417.0,215.8 C417.3,216.2 417.7,216.6 418.0,217.0 C418.3,217.4 418.7,217.8 419.0,218.1 C419.3,218.5 419.7,218.9 420.0,219.3 C420.3,219.6 420.7,220.0 421.0,220.3 C421.3,220.7 421.7,221.0 422.0,221.4 C422.3,221.7 422.7,222.0 423.0,222.3 C423.3,222.6 423.7,222.9 424.0,223.2 C424.3,223.5 424.7,223.8 425.0,224.1 C425.3,224.3 425.7,224.6 426.0,224.8 C426.3,225.0 426.7,225.3 427.0,225.4 C427.3,225.6 427.7,225.8 428.0,226.0 C428.3,226.1 428.7,226.2 429.0,226.4 C429.3,226.5 429.7,226.6 430.0,226.7 C430.3,226.8 430.7,226.9 431.0,227.0 C431.3,227.1 431.7,227.2 432.0,227.2 C432.3,227.3 432.7,227.4 433.0,227.5 C433.3,227.6 433.7,227.7 434.0,227.7 C434.3,227.8 434.7,227.9 435.0,228.0 C435.3,228.1 435.7,228.2 436.0,228.3 C436.3,228.4 436.7,228.5 437.0,228.6 C437.3,228.7 437.7,228.8 438.0,228.9 C438.3,229.0 438.7,229.1 439.0,229.2 C439.3,229.3 439.7,229.4 440.0,229.5 C440.3,229.6 440.7,229.7 441.0,229.9 C441.3,230.0 441.7,230.1 442.0,230.2 C442.3,230.3 442.7,230.5 443.0,230.6 C443.3,230.7 443.7,230.8 444.0,231.0 C444.3,231.1 444.7,231.3 445.0,231.4 C445.3,231.5 445.7,231.7 446.0,231.8 C446.3,232.0 446.7,232.1 447.0,232.3 C447.3,232.4 447.7,232.6 448.0,232.7 C448.3,232.9 448.7,233.0 449.0,233.2 C449.3,233.3 449.7,233.5 450.0,233.6 C450.3,233.8 450.7,233.9 451.0,234.1 C451.3,234.2 451.7,234.4 452.0,234.5 C452.3,234.7 452.7,234.8 453.0,235.0 C453.3,235.1 453.7,235.2 454.0,235.4 C454.3,235.5 454.7,235.7 455.0,235.8 C455.3,235.9 455.7,236.1 456.0,236.2 C456.3,236.3 456.7,236.4 457.0,236.6 C457.3,236.7 457.7,236.8 458.0,236.9 C458.3,237.0 458.7,237.2 459.0,237.3 C459.3,237.4 459.7,237.5 460.0,237.6 C460.3,237.7 460.7,237.8 461.0,237.9 C461.3,238.0 461.7,238.0 462.0,238.1 C462.3,238.2 462.7,238.3 463.0,238.4 C463.3,238.5 463.7,238.5 464.0,238.6 C464.3,238.7 464.7,238.8 465.0,238.8 C465.3,238.9 465.7,239.0 466.0,239.1 C466.3,239.1 466.7,239.2 467.0,239.3 C467.3,239.3 467.7,239.4 468.0,239.4 C468.3,239.5 468.7,239.6 469.0,239.6 C469.3,239.7 469.7,239.8 470.0,239.8 C470.3,239.9 470.7,239.9 471.0,240.0 C471.3,240.0 471.7,240.1 472.0,240.1 C472.3,240.2 472.7,240.3 473.0,240.3 C473.3,240.4 473.7,240.4 474.0,240.5 C474.3,240.5 474.7,240.5 475.0,240.6 C475.3,240.6 475.7,240.7 476.0,240.7 C476.3,240.8 476.7,240.8 477.0,240.9 C477.3,240.9 477.7,241.0 478.0,241.0 C478.3,241.1 478.7,241.1 479.0,241.2 C479.3,241.2 479.7,241.3 480.0,241.3 C480.3,241.4 480.7,241.4 481.0,241.5 C481.3,241.5 481.7,241.6 482.0,241.6 C482.3,241.7 482.7,241.7 483.0,241.8 C483.3,241.8 483.7,241.9 484.0,241.9 C484.3,242.0 484.7,242.1 485.0,242.1 C485.3,242.2 485.7,242.2 486.0,242.3 C486.3,242.3 486.7,242.4 487.0,242.4 C487.3,242.4 487.7,242.5 488.0,242.5 C488.3,242.6 488.7,242.6 489.0,242.6 C489.3,242.6 489.7,242.7 490.0,242.7 C490.3,242.7 490.7,242.7 491.0,242.7 C491.3,242.8 491.7,242.8 492.0,242.8 C492.3,242.8 492.7,242.8 493.0,242.8 C493.3,242.8 493.7,242.9 494.0,242.9 C494.3,242.9 494.7,242.9 495.0,242.9 C495.3,242.9 495.7,242.9 496.0,242.9 C496.3,243.0 496.7,243.0 497.0,243.0 C497.3,243.0 497.7,243.0 498.0,243.0 C498.3,243.0 498.7,243.0 499.0,243.0 C499.3,243.0 499.7,243.1 500.0,243.1 C500.3,243.1 500.7,243.1 501.0,243.1 C501.3,243.1 501.7,243.1 502.0,243.1 C502.3,243.1 502.7,243.1 503.0,243.1 C503.3,243.1 503.7,243.2 504.0,243.2 C504.3,243.2 504.7,243.2 505.0,243.2 C505.3,243.2 505.7,243.2 506.0,243.2 C506.3,243.2 506.7,243.2 507.0,243.2 C507.3,243.2 507.7,243.2 508.0,243.2 C508.3,243.2 508.7,243.3 509.0,243.3 C509.3,243.3 509.7,243.3 510.0,243.3 C510.3,243.3 510.7,243.3 511.0,243.3 C511.3,243.3 511.7,243.3 512.0,243.3 C512.3,243.3 512.7,243.3 513.0,243.3 C513.3,243.3 513.7,243.3 514.0,243.4 C514.3,243.4 514.7,243.4 515.0,243.4 C515.3,243.4 515.7,243.4 516.0,243.4 C516.3,243.4 516.7,243.4 517.0,243.4 C517.3,243.4 517.7,243.4 518.0,243.4 C518.3,243.5 518.7,243.5 519.0,243.5 C519.3,243.5 519.7,243.5 520.0,243.5 C520.3,243.5 520.7,243.5 521.0,243.5 C521.3,243.5 521.7,243.5 522.0,243.6 C522.3,243.6 522.7,243.6 523.0,243.6 C523.3,243.6 523.7,243.6 524.0,243.6 C524.3,243.6 524.7,243.6 525.0,243.6 C525.3,243.7 525.7,243.7 526.0,243.7 C526.3,243.7 526.7,243.7 527.0,243.7 C527.3,243.7 527.7,243.7 528.0,243.7 C528.3,243.7 528.7,243.7 529.0,243.8 C529.3,243.8 529.7,243.8 530.0,243.8 C530.3,243.8 530.7,243.8 531.0,243.8 C531.3,243.8 531.7,243.8 532.0,243.8 C532.3,243.8 532.7,243.9 533.0,243.9 C533.3,243.9 533.7,243.9 534.0,243.9 C534.3,243.9 534.7,243.9 535.0,243.9 C535.3,243.9 535.7,243.9 536.0,244.0 C536.3,244.0 536.7,244.0 537.0,244.0 C537.3,244.0 537.7,244.0 538.0,244.0 C538.3,244.0 538.7,244.1 539.0,244.1 C539.3,244.1 539.7,244.1 540.0,244.1 C540.3,244.1 540.7,244.1 541.0,244.1 C541.3,244.1 541.7,244.2 542.0,244.2 C542.3,244.2 542.7,244.2 543.0,244.2 C543.3,244.2 543.7,244.2 544.0,244.3 C544.3,244.3 544.7,244.3 545.0,244.3 C545.3,244.3 545.7,244.3 546.0,244.3 C546.3,244.4 546.7,244.4 547.0,244.4 C547.3,244.4 547.7,244.4 548.0,244.5 C548.3,244.5 548.7,244.5 549.0,244.5 C549.3,244.5 549.7,244.6 550.0,244.6 C550.3,244.6 550.7,244.6 551.0,244.6 C551.3,244.7 551.7,244.7 552.0,244.7 C552.3,244.7 552.7,244.7 553.0,244.8 C553.3,244.8 553.7,244.8 554.0,244.8 C554.3,244.9 554.7,244.9 555.0,244.9 C555.3,244.9 555.7,245.0 556.0,245.0 C556.3,245.0 556.7,245.0 557.0,245.1 C557.3,245.1 557.7,245.1 558.0,245.1 C558.3,245.2 558.7,245.2 559.0,245.2 C559.3,245.2 559.8,245.3 560.0,245.3" stroke="#3f7258"/>
<path d="M42.0,249.1 C42.2,249.1 42.7,249.1 43.0,249.1 C43.3,249.1 43.7,249.1 44.0,249.1 C44.3,249.1 44.7,249.1 45.0,249.1 C45.3,249.1 45.7,249.1 46.0,249.1 C46.3,249.1 46.7,249.1 47.0,249.1 C47.3,249.1 47.7,249.1 48.0,249.1 C48.3,249.1 48.7,249.1 49.0,249.1 C49.3,249.1 49.7,249.1 50.0,249.1 C50.3,249.1 50.7,249.1 51.0,249.1 C51.3,249.1 51.7,249.1 52.0,249.1 C52.3,249.1 52.7,249.1 53.0,249.1 C53.3,249.1 53.7,249.1 54.0,249.1 C54.3,249.1 54.7,249.1 55.0,249.1 C55.3,249.1 55.7,249.1 56.0,249.1 C56.3,249.1 56.7,249.1 57.0,249.1 C57.3,249.1 57.7,249.1 58.0,249.1 C58.3,249.1 58.7,249.1 59.0,249.1 C59.3,249.1 59.7,249.1 60.0,249.1 C60.3,249.1 60.7,249.1 61.0,249.1 C61.3,249.1 61.7,249.1 62.0,249.1 C62.3,249.1 62.7,249.1 63.0,249.1 C63.3,249.1 63.7,249.1 64.0,249.1 C64.3,249.1 64.7,249.1 65.0,249.1 C65.3,249.1 65.7,249.1 66.0,249.1 C66.3,249.1 66.7,249.1 67.0,249.1 C67.3,249.1 67.7,249.1 68.0,249.1 C68.3,249.1 68.7,249.1 69.0,249.1 C69.3,249.1 69.7,249.1 70.0,249.1 C70.3,249.1 70.7,249.1 71.0,249.1 C71.3,249.1 71.7,249.1 72.0,249.1 C72.3,249.1 72.7,249.1 73.0,249.1 C73.3,249.1 73.7,249.1 74.0,249.1 C74.3,249.1 74.7,249.1 75.0,249.1 C75.3,249.1 75.7,249.1 76.0,249.1 C76.3,249.1 76.7,249.1 77.0,249.1 C77.3,249.1 77.7,249.1 78.0,249.1 C78.3,249.1 78.7,249.1 79.0,249.1 C79.3,249.1 79.7,249.1 80.0,249.1 C80.3,249.1 80.7,249.1 81.0,249.1 C81.3,249.1 81.7,249.1 82.0,249.1 C82.3,249.0 82.7,249.0 83.0,249.0 C83.3,249.0 83.7,249.0 84.0,249.0 C84.3,249.0 84.7,249.0 85.0,249.0 C85.3,249.0 85.7,249.0 86.0,249.0 C86.3,249.0 86.7,249.0 87.0,249.0 C87.3,249.0 87.7,249.0 88.0,249.0 C88.3,249.0 88.7,249.0 89.0,249.0 C89.3,249.0 89.7,249.0 90.0,249.0 C90.3,249.0 90.7,249.0 91.0,249.0 C91.3,249.0 91.7,249.0 92.0,249.0 C92.3,249.0 92.7,249.0 93.0,249.0 C93.3,249.0 93.7,249.0 94.0,249.0 C94.3,249.0 94.7,249.0 95.0,249.0 C95.3,249.0 95.7,249.0 96.0,249.0 C96.3,249.0 96.7,249.0 97.0,249.0 C97.3,249.0 97.7,249.0 98.0,249.0 C98.3,249.0 98.7,249.0 99.0,249.0 C99.3,249.0 99.7,249.0 100.0,249.0 C100.3,249.0 100.7,249.0 101.0,249.0 C101.3,249.0 101.7,249.0 102.0,249.0 C102.3,249.0 102.7,249.0 103.0,249.0 C103.3,249.0 103.7,249.0 104.0,249.0 C104.3,249.0 104.7,249.0 105.0,249.0 C105.3,249.0 105.7,249.0 106.0,249.0 C106.3,249.0 106.7,249.0 107.0,249.0 C107.3,249.0 107.7,249.0 108.0,249.0 C108.3,249.0 108.7,249.0 109.0,249.0 C109.3,249.0 109.7,249.0 110.0,249.0 C110.3,249.0 110.7,249.0 111.0,249.0 C111.3,249.0 111.7,248.9 112.0,248.9 C112.3,248.9 112.7,248.9 113.0,248.9 C113.3,248.9 113.7,248.9 114.0,248.9 C114.3,248.9 114.7,248.9 115.0,248.9 C115.3,248.9 115.7,248.9 116.0,248.9 C116.3,248.9 116.7,248.9 117.0,248.9 C117.3,248.9 117.7,248.9 118.0,248.9 C118.3,248.9 118.7,248.9 119.0,248.9 C119.3,248.9 119.7,248.9 120.0,248.9 C120.3,248.9 120.7,248.9 121.0,248.9 C121.3,248.9 121.7,248.9 122.0,248.9 C122.3,248.9 122.7,248.9 123.0,248.9 C123.3,248.9 123.7,248.9 124.0,248.9 C124.3,248.9 124.7,248.9 125.0,248.9 C125.3,248.9 125.7,248.9 126.0,248.9 C126.3,248.9 126.7,248.9 127.0,248.9 C127.3,248.9 127.7,248.9 128.0,248.9 C128.3,248.9 128.7,248.9 129.0,248.9 C129.3,248.9 129.7,248.9 130.0,248.9 C130.3,248.9 130.7,248.9 131.0,248.9 C131.3,248.9 131.7,248.8 132.0,248.8 C132.3,248.8 132.7,248.8 133.0,248.8 C133.3,248.8 133.7,248.8 134.0,248.8 C134.3,248.8 134.7,248.8 135.0,248.8 C135.3,248.8 135.7,248.8 136.0,248.8 C136.3,248.8 136.7,248.8 137.0,248.8 C137.3,248.8 137.7,248.8 138.0,248.8 C138.3,248.8 138.7,248.8 139.0,248.8 C139.3,248.8 139.7,248.8 140.0,248.8 C140.3,248.8 140.7,248.8 141.0,248.8 C141.3,248.8 141.7,248.8 142.0,248.8 C142.3,248.8 142.7,248.8 143.0,248.8 C143.3,248.8 143.7,248.8 144.0,248.8 C144.3,248.8 144.7,248.8 145.0,248.8 C145.3,248.8 145.7,248.8 146.0,248.8 C146.3,248.7 146.7,248.7 147.0,248.7 C147.3,248.7 147.7,248.7 148.0,248.7 C148.3,248.7 148.7,248.7 149.0,248.7 C149.3,248.7 149.7,248.7 150.0,248.7 C150.3,248.7 150.7,248.7 151.0,248.7 C151.3,248.7 151.7,248.7 152.0,248.7 C152.3,248.7 152.7,248.7 153.0,248.6 C153.3,248.6 153.7,248.6 154.0,248.6 C154.3,248.6 154.7,248.6 155.0,248.6 C155.3,248.6 155.7,248.6 156.0,248.6 C156.3,248.6 156.7,248.5 157.0,248.5 C157.3,248.5 157.7,248.5 158.0,248.5 C158.3,248.4 158.7,248.4 159.0,248.4 C159.3,248.3 159.7,248.3 160.0,248.3 C160.3,248.2 160.7,248.1 161.0,248.1 C161.3,248.0 161.7,247.9 162.0,247.8 C162.3,247.8 162.7,247.7 163.0,247.6 C163.3,247.5 163.7,247.3 164.0,247.2 C164.3,247.1 164.7,247.0 165.0,246.9 C165.3,246.8 165.7,246.7 166.0,246.7 C166.3,246.6 166.7,246.5 167.0,246.5 C167.3,246.4 167.7,246.4 168.0,246.3 C168.3,246.3 168.7,246.3 169.0,246.2 C169.3,246.2 169.7,246.2 170.0,246.2 C170.3,246.1 170.7,246.1 171.0,246.1 C171.3,246.1 171.7,246.1 172.0,246.1 C172.3,246.1 172.7,246.1 173.0,246.1 C173.3,246.0 173.7,246.0 174.0,246.0 C174.3,246.0 174.7,246.0 175.0,246.0 C175.3,246.0 175.7,246.0 176.0,246.0 C176.3,246.0 176.7,246.0 177.0,246.0 C177.3,246.0 177.7,246.0 178.0,246.0 C178.3,246.0 178.7,246.0 179.0,246.0 C179.3,246.0 179.7,246.0 180.0,246.0 C180.3,246.0 180.7,245.9 181.0,245.9 C181.3,245.9 181.7,245.9 182.0,245.9 C182.3,245.9 182.7,245.9 183.0,245.9 C183.3,245.9 183.7,245.9 184.0,245.9 C184.3,245.9 184.7,245.9 185.0,245.9 C185.3,245.9 185.7,245.9 186.0,245.9 C186.3,245.9 186.7,245.9 187.0,245.9 C187.3,245.9 187.7,245.9 188.0,245.9 C188.3,245.9 188.7,245.9 189.0,245.9 C189.3,245.8 189.7,245.8 190.0,245.8 C190.3,245.8 190.7,245.8 191.0,245.8 C191.3,245.8 191.7,245.8 192.0,245.8 C192.3,245.8 192.7,245.8 193.0,245.8 C193.3,245.8 193.7,245.8 194.0,245.8 C194.3,245.8 194.7,245.8 195.0,245.8 C195.3,245.8 195.7,245.8 196.0,245.8 C196.3,245.8 196.7,245.8 197.0,245.7 C197.3,245.7 197.7,245.7 198.0,245.7 C198.3,245.7 198.7,245.7 199.0,245.7 C199.3,245.7 199.7,245.7 200.0,245.7 C200.3,245.7 200.7,245.7 201.0,245.7 C201.3,245.7 201.7,245.7 202.0,245.7 C202.3,245.7 202.7,245.6 203.0,245.6 C203.3,245.6 203.7,245.6 204.0,245.6 C204.3,245.6 204.7,245.6 205.0,245.6 C205.3,245.6 205.7,245.6 206.0,245.6 C206.3,245.6 206.7,245.5 207.0,245.5 C207.3,245.5 207.7,245.5 208.0,245.5 C208.3,245.5 208.7,245.5 209.0,245.5 C209.3,245.5 209.7,245.4 210.0,245.4 C210.3,245.4 210.7,245.4 211.0,245.4 C211.3,245.4 211.7,245.4 212.0,245.3 C212.3,245.3 212.7,245.3 213.0,245.3 C213.3,245.3 213.7,245.3 214.0,245.2 C214.3,245.2 214.7,245.2 215.0,245.2 C215.3,245.2 215.7,245.1 216.0,245.1 C216.3,245.1 216.7,245.1 217.0,245.0 C217.3,245.0 217.7,245.0 218.0,244.9 C218.3,244.9 218.7,244.9 219.0,244.8 C219.3,244.8 219.7,244.7 220.0,244.7 C220.3,244.6 220.7,244.6 221.0,244.5 C221.3,244.5 221.7,244.4 222.0,244.4 C222.3,244.3 222.7,244.3 223.0,244.2 C223.3,244.2 223.7,244.1 224.0,244.0 C224.3,244.0 224.7,243.9 225.0,243.8 C225.3,243.8 225.7,243.7 226.0,243.6 C226.3,243.6 226.7,243.5 227.0,243.4 C227.3,243.3 227.7,243.3 228.0,243.2 C228.3,243.1 228.7,243.0 229.0,242.9 C229.3,242.8 229.7,242.7 230.0,242.6 C230.3,242.5 230.7,242.4 231.0,242.3 C231.3,242.2 231.7,242.1 232.0,241.9 C232.3,241.8 232.7,241.7 233.0,241.6 C233.3,241.5 233.7,241.4 234.0,241.3 C234.3,241.2 234.7,241.0 235.0,240.9 C235.3,240.8 235.7,240.7 236.0,240.6 C236.3,240.5 236.7,240.4 237.0,240.3 C237.3,240.2 237.7,240.0 238.0,239.9 C238.3,239.8 238.7,239.7 239.0,239.5 C239.3,239.4 239.7,239.3 240.0,239.1 C240.3,239.0 240.7,238.8 241.0,238.7 C241.3,238.5 241.7,238.4 242.0,238.2 C242.3,238.0 242.7,237.8 243.0,237.6 C243.3,237.4 243.7,237.2 244.0,236.9 C244.3,236.7 244.7,236.5 245.0,236.3 C245.3,236.1 245.7,235.8 246.0,235.6 C246.3,235.4 246.7,235.2 247.0,235.0 C247.3,234.8 247.7,234.6 248.0,234.4 C248.3,234.2 248.7,234.0 249.0,233.8 C249.3,233.6 249.7,233.4 250.0,233.2 C250.3,233.1 250.7,232.9 251.0,232.7 C251.3,232.5 251.7,232.3 252.0,232.1 C252.3,231.9 252.7,231.7 253.0,231.5 C253.3,231.3 253.7,231.1 254.0,230.9 C254.3,230.6 254.7,230.4 255.0,230.2 C255.3,230.0 255.7,229.8 256.0,229.6 C256.3,229.4 256.7,229.1 257.0,228.9 C257.3,228.7 257.7,228.5 258.0,228.3 C258.3,228.1 258.7,227.8 259.0,227.6 C259.3,227.4 259.7,227.2 260.0,227.0 C260.3,226.7 260.7,226.5 261.0,226.3 C261.3,226.1 261.7,225.9 262.0,225.6 C262.3,225.4 262.7,225.2 263.0,225.0 C263.3,224.7 263.7,224.5 264.0,224.3 C264.3,224.1 264.7,223.9 265.0,223.6 C265.3,223.4 265.7,223.2 266.0,223.0 C266.3,222.8 266.7,222.5 267.0,222.3 C267.3,222.1 267.7,221.9 268.0,221.7 C268.3,221.5 268.7,221.2 269.0,221.0 C269.3,220.8 269.7,220.6 270.0,220.4 C270.3,220.1 270.7,219.9 271.0,219.7 C271.3,219.5 271.7,219.3 272.0,219.1 C272.3,218.8 272.7,218.6 273.0,218.4 C273.3,218.2 273.7,218.0 274.0,217.8 C274.3,217.5 274.7,217.3 275.0,217.1 C275.3,216.9 275.7,216.7 276.0,216.5 C276.3,216.2 276.7,216.0 277.0,215.8 C277.3,215.6 277.7,215.4 278.0,215.2 C278.3,214.9 278.7,214.7 279.0,214.5 C279.3,214.3 279.7,214.1 280.0,213.9 C280.3,213.6 280.7,213.4 281.0,213.2 C281.3,213.0 281.7,212.8 282.0,212.6 C282.3,212.4 282.7,212.1 283.0,211.9 C283.3,211.7 283.7,211.5 284.0,211.3 C284.3,211.1 284.7,210.9 285.0,210.7 C285.3,210.5 285.7,210.3 286.0,210.1 C286.3,209.9 286.7,209.7 287.0,209.5 C287.3,209.3 287.7,209.1 288.0,208.9 C288.3,208.7 288.7,208.5 289.0,208.3 C289.3,208.1 289.7,207.8 290.0,207.6 C290.3,207.4 290.7,207.2 291.0,207.0 C291.3,206.7 291.7,206.5 292.0,206.3 C292.3,206.0 292.7,205.8 293.0,205.5 C293.3,205.3 293.7,205.0 294.0,204.8 C294.3,204.5 294.7,204.3 295.0,204.0 C295.3,203.7 295.7,203.4 296.0,203.2 C296.3,202.9 296.7,202.6 297.0,202.3 C297.3,202.0 297.7,201.6 298.0,201.3 C298.3,201.0 298.7,200.6 299.0,200.3 C299.3,200.0 299.7,199.6 300.0,199.3 C300.3,198.9 300.7,198.5 301.0,198.2 C301.3,197.8 301.7,197.5 302.0,197.1 C302.3,196.7 302.7,196.4 303.0,196.0 C303.3,195.6 303.7,195.2 304.0,194.8 C304.3,194.4 304.7,194.0 305.0,193.6 C305.3,193.2 305.7,192.8 306.0,192.3 C306.3,191.9 306.7,191.5 307.0,191.0 C307.3,190.5 307.7,190.1 308.0,189.6 C308.3,189.1 308.7,188.6 309.0,188.1 C309.3,187.6 309.7,187.0 310.0,186.5 C310.3,185.9 310.7,185.4 311.0,184.8 C311.3,184.2 311.7,183.6 312.0,183.0 C312.3,182.4 312.7,181.8 313.0,181.1 C313.3,180.5 313.7,179.8 314.0,179.2 C314.3,178.5 314.7,177.8 315.0,177.1 C315.3,176.5 315.7,175.8 316.0,175.1 C316.3,174.4 316.7,173.7 317.0,172.9 C317.3,172.2 317.7,171.5 318.0,170.7 C318.3,170.0 318.7,169.2 319.0,168.4 C319.3,167.6 319.7,166.8 320.0,165.9 C320.3,165.1 320.7,164.2 321.0,163.3 C321.3,162.4 321.7,161.4 322.0,160.5 C322.3,159.6 322.7,158.6 323.0,157.7 C323.3,156.7 323.7,155.7 324.0,154.8 C324.3,153.8 324.7,152.8 325.0,151.8 C325.3,150.8 325.7,149.8 326.0,148.8 C326.3,147.7 326.7,146.7 327.0,145.7 C327.3,144.6 327.7,143.6 328.0,142.5 C328.3,141.4 328.7,140.3 329.0,139.2 C329.3,138.0 329.7,136.8 330.0,135.6 C330.3,134.4 330.7,133.2 331.0,132.0 C331.3,130.8 331.7,129.6 332.0,128.4 C332.3,127.2 332.7,126.0 333.0,124.8 C333.3,123.6 333.7,122.4 334.0,121.3 C334.3,120.2 334.7,119.1 335.0,118.0 C335.3,117.0 335.7,116.0 336.0,115.0 C336.3,114.0 336.7,113.1 337.0,112.1 C337.3,111.2 337.7,110.4 338.0,109.6 C338.3,108.7 338.7,108.0 339.0,107.3 C339.3,106.5 339.7,105.9 340.0,105.3 C340.3,104.7 340.7,104.3 341.0,103.8 C341.3,103.4 341.7,103.1 342.0,102.8 C342.3,102.6 342.7,102.4 343.0,102.3 C343.3,102.2 343.7,102.2 344.0,102.3 C344.3,102.4 344.7,102.6 345.0,102.9 C345.3,103.1 345.7,103.5 346.0,103.9 C346.3,104.3 346.7,104.8 347.0,105.3 C347.3,105.8 347.7,106.4 348.0,107.1 C348.3,107.7 348.7,108.4 349.0,109.1 C349.3,109.8 349.7,110.6 350.0,111.3 C350.3,112.1 350.7,112.9 351.0,113.7 C351.3,114.6 351.7,115.5 352.0,116.4 C352.3,117.3 352.7,118.4 353.0,119.4 C353.3,120.4 353.7,121.5 354.0,122.6 C354.3,123.7 354.7,124.8 355.0,125.9 C355.3,126.9 355.7,128.0 356.0,129.0 C356.3,130.1 356.7,131.1 357.0,132.2 C357.3,133.3 357.7,134.4 358.0,135.5 C358.3,136.6 358.7,137.7 359.0,138.8 C359.3,139.9 359.7,141.1 360.0,142.2 C360.3,143.3 360.7,144.4 361.0,145.5 C361.3,146.6 361.7,147.6 362.0,148.7 C362.3,149.7 362.7,150.7 363.0,151.7 C363.3,152.7 363.7,153.7 364.0,154.7 C364.3,155.7 364.7,156.7 365.0,157.7 C365.3,158.7 365.7,159.7 366.0,160.6 C366.3,161.6 366.7,162.6 367.0,163.5 C367.3,164.5 367.7,165.4 368.0,166.3 C368.3,167.2 368.7,168.1 369.0,169.0 C369.3,169.8 369.7,170.6 370.0,171.4 C370.3,172.2 370.7,172.9 371.0,173.6 C371.3,174.4 371.7,175.0 372.0,175.7 C372.3,176.4 372.7,177.1 373.0,177.8 C373.3,178.4 373.7,179.1 374.0,179.8 C374.3,180.5 374.7,181.2 375.0,181.8 C375.3,182.5 375.7,183.1 376.0,183.7 C376.3,184.4 376.7,184.9 377.0,185.5 C377.3,186.1 377.7,186.6 378.0,187.1 C378.3,187.6 378.7,188.1 379.0,188.5 C379.3,189.0 379.7,189.4 380.0,189.8 C380.3,190.2 380.7,190.6 381.0,191.0 C381.3,191.3 381.7,191.7 382.0,192.0 C382.3,192.3 382.7,192.6 383.0,192.9 C383.3,193.2 383.7,193.5 384.0,193.7 C384.3,194.0 384.7,194.3 385.0,194.5 C385.3,194.8 385.7,195.0 386.0,195.3 C386.3,195.6 386.7,195.8 387.0,196.1 C387.3,196.3 387.7,196.6 388.0,196.8 C388.3,197.0 388.7,197.3 389.0,197.5 C389.3,197.8 389.7,198.0 390.0,198.3 C390.3,198.5 390.7,198.8 391.0,199.0 C391.3,199.3 391.7,199.5 392.0,199.8 C392.3,200.1 392.7,200.3 393.0,200.6 C393.3,200.8 393.7,201.1 394.0,201.4 C394.3,201.6 394.7,201.9 395.0,202.2 C395.3,202.4 395.7,202.7 396.0,203.0 C396.3,203.2 396.7,203.5 397.0,203.8 C397.3,204.0 397.7,204.3 398.0,204.6 C398.3,204.8 398.7,205.1 399.0,205.4 C399.3,205.7 399.7,205.9 400.0,206.2 C400.3,206.5 400.7,206.8 401.0,207.2 C401.3,207.5 401.7,207.8 402.0,208.1 C402.3,208.4 402.7,208.8 403.0,209.1 C403.3,209.4 403.7,209.8 404.0,210.1 C404.3,210.5 404.7,210.9 405.0,211.2 C405.3,211.6 405.7,212.0 406.0,212.3 C406.3,212.7 406.7,213.1 407.0,213.5 C407.3,213.9 407.7,214.3 408.0,214.7 C408.3,215.1 408.7,215.5 409.0,215.9 C409.3,216.2 409.7,216.6 410.0,217.0 C410.3,217.4 410.7,217.8 411.0,218.2 C411.3,218.6 411.7,219.0 412.0,219.4 C412.3,219.7 412.7,220.1 413.0,220.5 C413.3,220.8 413.7,221.2 414.0,221.5 C414.3,221.9 414.7,222.2 415.0,222.6 C415.3,222.9 415.7,223.2 416.0,223.5 C416.3,223.8 416.7,224.1 417.0,224.4 C417.3,224.7 417.7,225.0 418.0,225.3 C418.3,225.5 418.7,225.8 419.0,226.1 C419.3,226.3 419.7,226.6 420.0,226.8 C420.3,227.1 420.7,227.3 421.0,227.6 C421.3,227.9 421.7,228.2 422.0,228.4 C422.3,228.7 422.7,229.0 423.0,229.3 C423.3,229.6 423.7,230.0 424.0,230.3 C424.3,230.6 424.7,230.9 425.0,231.2 C425.3,231.6 425.7,231.9 426.0,232.1 C426.3,232.4 426.7,232.7 427.0,232.9 C427.3,233.2 427.7,233.4 428.0,233.5 C428.3,233.7 428.7,233.9 429.0,234.0 C429.3,234.2 429.7,234.3 430.0,234.4 C430.3,234.6 430.7,234.7 431.0,234.8 C431.3,234.9 431.7,235.0 432.0,235.1 C432.3,235.2 432.7,235.3 433.0,235.4 C433.3,235.5 433.7,235.6 434.0,235.7 C434.3,235.8 434.7,235.9 435.0,236.0 C435.3,236.1 435.7,236.2 436.0,236.3 C436.3,236.4 436.7,236.5 437.0,236.6 C437.3,236.7 437.7,236.9 438.0,237.0 C438.3,237.1 438.7,237.2 439.0,237.3 C439.3,237.4 439.7,237.5 440.0,237.6 C440.3,237.7 440.7,237.8 441.0,237.9 C441.3,238.0 441.7,238.1 442.0,238.2 C442.3,238.3 442.7,238.4 443.0,238.5 C443.3,238.6 443.7,238.7 444.0,238.8 C444.3,238.9 444.7,239.1 445.0,239.2 C445.3,239.3 445.7,239.4 446.0,239.5 C446.3,239.6 446.7,239.7 447.0,239.8 C447.3,239.9 447.7,240.0 448.0,240.1 C448.3,240.2 448.7,240.3 449.0,240.4 C449.3,240.5 449.7,240.6 450.0,240.7 C450.3,240.7 450.7,240.8 451.0,240.9 C451.3,241.0 451.7,241.1 452.0,241.2 C452.3,241.3 452.7,241.4 453.0,241.4 C453.3,241.5 453.7,241.6 454.0,241.7 C454.3,241.8 454.7,241.8 455.0,241.9 C455.3,242.0 455.7,242.0 456.0,242.1 C456.3,242.2 456.7,242.2 457.0,242.3 C457.3,242.3 457.7,242.4 458.0,242.5 C458.3,242.5 458.7,242.6 459.0,242.6 C459.3,242.7 459.7,242.7 460.0,242.8 C460.3,242.8 460.7,242.9 461.0,242.9 C461.3,243.0 461.7,243.0 462.0,243.1 C462.3,243.1 462.7,243.2 463.0,243.2 C463.3,243.3 463.7,243.3 464.0,243.3 C464.3,243.4 464.7,243.4 465.0,243.4 C465.3,243.5 465.7,243.5 466.0,243.5 C466.3,243.6 466.7,243.6 467.0,243.6 C467.3,243.7 467.7,243.7 468.0,243.7 C468.3,243.8 468.7,243.8 469.0,243.8 C469.3,243.8 469.7,243.9 470.0,243.9 C470.3,243.9 470.7,244.0 471.0,244.0 C471.3,244.0 471.7,244.0 472.0,244.1 C472.3,244.1 472.7,244.1 473.0,244.1 C473.3,244.2 473.7,244.2 474.0,244.2 C474.3,244.2 474.7,244.2 475.0,244.3 C475.3,244.3 475.7,244.3 476.0,244.3 C476.3,244.4 476.7,244.4 477.0,244.4 C477.3,244.4 477.7,244.4 478.0,244.5 C478.3,244.5 478.7,244.5 479.0,244.5 C479.3,244.6 479.7,244.6 480.0,244.6 C480.3,244.6 480.7,244.6 481.0,244.7 C481.3,244.7 481.7,244.7 482.0,244.7 C482.3,244.7 482.7,244.8 483.0,244.8 C483.3,244.8 483.7,244.8 484.0,244.8 C484.3,244.9 484.7,244.9 485.0,244.9 C485.3,244.9 485.7,244.9 486.0,245.0 C486.3,245.0 486.7,245.0 487.0,245.0 C487.3,245.0 487.7,245.1 488.0,245.1 C488.3,245.1 488.7,245.1 489.0,245.1 C489.3,245.2 489.7,245.2 490.0,245.2 C490.3,245.2 490.7,245.2 491.0,245.2 C491.3,245.2 491.7,245.3 492.0,245.3 C492.3,245.3 492.7,245.3 493.0,245.3 C493.3,245.3 493.7,245.3 494.0,245.4 C494.3,245.4 494.7,245.4 495.0,245.4 C495.3,245.4 495.7,245.4 496.0,245.4 C496.3,245.4 496.7,245.5 497.0,245.5 C497.3,245.5 497.7,245.5 498.0,245.5 C498.3,245.5 498.7,245.5 499.0,245.5 C499.3,245.5 499.7,245.5 500.0,245.6 C500.3,245.6 500.7,245.6 501.0,245.6 C501.3,245.6 501.7,245.6 502.0,245.6 C502.3,245.6 502.7,245.6 503.0,245.6 C503.3,245.7 503.7,245.7 504.0,245.7 C504.3,245.7 504.7,245.7 505.0,245.7 C505.3,245.7 505.7,245.7 506.0,245.7 C506.3,245.7 506.7,245.7 507.0,245.7 C507.3,245.8 507.7,245.8 508.0,245.8 C508.3,245.8 508.7,245.8 509.0,245.8 C509.3,245.8 509.7,245.8 510.0,245.8 C510.3,245.8 510.7,245.8 511.0,245.8 C511.3,245.8 511.7,245.9 512.0,245.9 C512.3,245.9 512.7,245.9 513.0,245.9 C513.3,245.9 513.7,245.9 514.0,245.9 C514.3,245.9 514.7,245.9 515.0,245.9 C515.3,245.9 515.7,245.9 516.0,245.9 C516.3,245.9 516.7,245.9 517.0,246.0 C517.3,246.0 517.7,246.0 518.0,246.0 C518.3,246.0 518.7,246.0 519.0,246.0 C519.3,246.0 519.7,246.0 520.0,246.0 C520.3,246.0 520.7,246.0 521.0,246.0 C521.3,246.0 521.7,246.0 522.0,246.0 C522.3,246.0 522.7,246.0 523.0,246.0 C523.3,246.0 523.7,246.1 524.0,246.1 C524.3,246.1 524.7,246.1 525.0,246.1 C525.3,246.1 525.7,246.1 526.0,246.1 C526.3,246.1 526.7,246.1 527.0,246.1 C527.3,246.1 527.7,246.1 528.0,246.1 C528.3,246.1 528.7,246.1 529.0,246.1 C529.3,246.1 529.7,246.1 530.0,246.1 C530.3,246.1 530.7,246.2 531.0,246.2 C531.3,246.2 531.7,246.2 532.0,246.2 C532.3,246.2 532.7,246.2 533.0,246.2 C533.3,246.2 533.7,246.2 534.0,246.2 C534.3,246.2 534.7,246.2 535.0,246.2 C535.3,246.2 535.7,246.2 536.0,246.2 C536.3,246.2 536.7,246.2 537.0,246.2 C537.3,246.2 537.7,246.2 538.0,246.2 C538.3,246.2 538.7,246.3 539.0,246.3 C539.3,246.3 539.7,246.3 540.0,246.3 C540.3,246.3 540.7,246.3 541.0,246.3 C541.3,246.3 541.7,246.3 542.0,246.3 C542.3,246.3 542.7,246.3 543.0,246.3 C543.3,246.3 543.7,246.3 544.0,246.3 C544.3,246.3 544.7,246.3 545.0,246.3 C545.3,246.3 545.7,246.3 546.0,246.3 C546.3,246.3 546.7,246.3 547.0,246.3 C547.3,246.3 547.7,246.3 548.0,246.3 C548.3,246.3 548.7,246.3 549.0,246.3 C549.3,246.4 549.7,246.4 550.0,246.4 C550.3,246.4 550.7,246.4 551.0,246.4 C551.3,246.4 551.7,246.4 552.0,246.4 C552.3,246.4 552.7,246.4 553.0,246.4 C553.3,246.4 553.7,246.4 554.0,246.4 C554.3,246.4 554.7,246.4 555.0,246.4 C555.3,246.4 555.7,246.4 556.0,246.4 C556.3,246.4 556.7,246.4 557.0,246.4 C557.3,246.4 557.7,246.4 558.0,246.4 C558.3,246.4 558.7,246.4 559.0,246.4 C559.3,246.4 559.8,246.4 560.0,246.4" stroke="#2b2d82"/>
<path d="M41.0,477.6 C41.2,477.6 41.7,477.6 42.0,477.6 C42.3,477.6 42.7,477.6 43.0,477.6 C43.3,477.6 43.7,477.6 44.0,477.6 C44.3,477.6 44.7,477.6 45.0,477.6 C45.3,477.6 45.7,477.6 46.0,477.6 C46.3,477.6 46.7,477.6 47.0,477.6 C47.3,477.6 47.7,477.6 48.0,477.6 C48.3,477.6 48.7,477.6 49.0,477.6 C49.3,477.6 49.7,477.6 50.0,477.6 C50.3,477.6 50.7,477.6 51.0,477.6 C51.3,477.6 51.7,477.6 52.0,477.6 C52.3,477.6 52.7,477.6 53.0,477.6 C53.3,477.6 53.7,477.6 54.0,477.6 C54.3,477.6 54.7,477.6 55.0,477.6 C55.3,477.6 55.7,477.6 56.0,477.6 C56.3,477.6 56.7,477.6 57.0,477.6 C57.3,477.6 57.7,477.6 58.0,477.6 C58.3,477.6 58.7,477.6 59.0,477.6 C59.3,477.6 59.7,477.6 60.0,477.6 C60.3,477.6 60.7,477.6 61.0,477.6 C61.3,477.6 61.7,477.6 62.0,477.6 C62.3,477.6 62.7,477.6 63.0,477.6 C63.3,477.6 63.7,477.6 64.0,477.6 C64.3,477.6 64.7,477.6 65.0,477.6 C65.3,477.6 65.7,477.6 66.0,477.6 C66.3,477.6 66.7,477.6 67.0,477.6 C67.3,477.6 67.7,477.6 68.0,477.6 C68.3,477.6 68.7,477.6 69.0,477.6 C69.3,477.6 69.7,477.6 70.0,477.6 C70.3,477.6 70.7,477.6 71.0,477.6 C71.3,477.6 71.7,477.6 72.0,477.6 C72.3,477.6 72.7,477.6 73.0,477.6 C73.3,477.6 73.7,477.6 74.0,477.6 C74.3,477.6 74.7,477.6 75.0,477.6 C75.3,477.6 75.7,477.6 76.0,477.6 C76.3,477.6 76.7,477.6 77.0,477.6 C77.3,477.6 77.7,477.6 78.0,477.6 C78.3,477.6 78.7,477.6 79.0,477.6 C79.3,477.6 79.7,477.6 80.0,477.6 C80.3,477.6 80.7,477.6 81.0,477.6 C81.3,477.6 81.7,477.6 82.0,477.6 C82.3,477.6 82.7,477.6 83.0,477.6 C83.3,477.6 83.7,477.6 84.0,477.6 C84.3,477.6 84.7,477.6 85.0,477.6 C85.3,477.6 85.7,477.6 86.0,477.6 C86.3,477.6 86.7,477.6 87.0,477.6 C87.3,477.6 87.7,477.6 88.0,477.6 C88.3,477.6 88.7,477.6 89.0,477.6 C89.3,477.6 89.7,477.6 90.0,477.6 C90.3,477.6 90.7,477.6 91.0,477.6 C91.3,477.6 91.7,477.6 92.0,477.6 C92.3,477.6 92.7,477.6 93.0,477.6 C93.3,477.6 93.7,477.6 94.0,477.6 C94.3,477.6 94.7,477.6 95.0,477.6 C95.3,477.6 95.7,477.6 96.0,477.6 C96.3,477.6 96.7,477.6 97.0,477.6 C97.3,477.6 97.7,477.6 98.0,477.6 C98.3,477.6 98.7,477.6 99.0,477.6 C99.3,477.6 99.7,477.6 100.0,477.6 C100.3,477.6 100.7,477.6 101.0,477.6 C101.3,477.6 101.7,477.6 102.0,477.6 C102.3,477.6 102.7,477.6 103.0,477.6 C103.3,477.6 103.7,477.6 104.0,477.6 C104.3,477.6 104.7,477.6 105.0,477.6 C105.3,477.6 105.7,477.6 106.0,477.6 C106.3,477.6 106.7,477.6 107.0,477.6 C107.3,477.6 107.7,477.6 108.0,477.5 C108.3,477.5 108.7,477.5 109.0,477.5 C109.3,477.5 109.7,477.5 110.0,477.5 C110.3,477.5 110.7,477.5 111.0,477.5 C111.3,477.5 111.7,477.5 112.0,477.5 C112.3,477.5 112.7,477.5 113.0,477.5 C113.3,477.5 113.7,477.5 114.0,477.5 C114.3,477.5 114.7,477.5 115.0,477.5 C115.3,477.5 115.7,477.5 116.0,477.5 C116.3,477.5 116.7,477.5 117.0,477.5 C117.3,477.5 117.7,477.5 118.0,477.5 C118.3,477.5 118.7,477.5 119.0,477.5 C119.3,477.5 119.7,477.5 120.0,477.5 C120.3,477.5 120.7,477.5 121.0,477.5 C121.3,477.5 121.7,477.5 122.0,477.5 C122.3,477.5 122.7,477.5 123.0,477.5 C123.3,477.5 123.7,477.5 124.0,477.5 C124.3,477.5 124.7,477.5 125.0,477.5 C125.3,477.5 125.7,477.5 126.0,477.5 C126.3,477.5 126.7,477.5 127.0,477.5 C127.3,477.5 127.7,477.5 128.0,477.5 C128.3,477.5 128.7,477.5 129.0,477.5 C129.3,477.5 129.7,477.5 130.0,477.5 C130.3,477.5 130.7,477.5 131.0,477.5 C131.3,477.5 131.7,477.5 132.0,477.5 C132.3,477.5 132.7,477.5 133.0,477.5 C133.3,477.5 133.7,477.5 134.0,477.5 C134.3,477.5 134.7,477.5 135.0,477.5 C135.3,477.5 135.7,477.5 136.0,477.5 C136.3,477.5 136.7,477.5 137.0,477.5 C137.3,477.5 137.7,477.5 138.0,477.5 C138.3,477.5 138.7,477.5 139.0,477.5 C139.3,477.5 139.7,477.5 140.0,477.5 C140.3,477.5 140.7,477.5 141.0,477.5 C141.3,477.5 141.7,477.5 142.0,477.5 C142.3,477.5 142.7,477.5 143.0,477.5 C143.3,477.5 143.7,477.5 144.0,477.5 C144.3,477.5 144.7,477.5 145.0,477.5 C145.3,477.5 145.7,477.5 146.0,477.5 C146.3,477.5 146.7,477.5 147.0,477.5 C147.3,477.5 147.7,477.5 148.0,477.5 C148.3,477.5 148.7,477.5 149.0,477.5 C149.3,477.5 149.7,477.5 150.0,477.5 C150.3,477.5 150.7,477.5 151.0,477.5 C151.3,477.5 151.7,477.5 152.0,477.5 C152.3,477.5 152.7,477.5 153.0,477.5 C153.3,477.5 153.7,477.5 154.0,477.5 C154.3,477.5 154.7,477.5 155.0,477.5 C155.3,477.5 155.7,477.5 156.0,477.5 C156.3,477.5 156.7,477.5 157.0,477.5 C157.3,477.5 157.7,477.5 158.0,477.5 C158.3,477.5 158.7,477.5 159.0,477.5 C159.3,477.5 159.7,477.5 160.0,477.5 C160.3,477.5 160.7,477.5 161.0,477.5 C161.3,477.5 161.7,477.5 162.0,477.5 C162.3,477.5 162.7,477.5 163.0,477.5 C163.3,477.5 163.7,477.5 164.0,477.5 C164.3,477.5 164.7,477.5 165.0,477.5 C165.3,477.5 165.7,477.5 166.0,477.5 C166.3,477.5 166.7,477.5 167.0,477.5 C167.3,477.5 167.7,477.5 168.0,477.5 C168.3,477.5 168.7,477.5 169.0,477.5 C169.3,477.5 169.7,477.5 170.0,477.5 C170.3,477.5 170.7,477.5 171.0,477.5 C171.3,477.5 171.7,477.5 172.0,477.5 C172.3,477.5 172.7,477.5 173.0,477.5 C173.3,477.5 173.7,477.5 174.0,477.5 C174.3,477.5 174.7,477.5 175.0,477.5 C175.3,477.5 175.7,477.5 176.0,477.5 C176.3,477.5 176.7,477.5 177.0,477.5 C177.3,477.5 177.7,477.5 178.0,477.5 C178.3,477.5 178.7,477.5 179.0,477.5 C179.3,477.5 179.7,477.5 180.0,477.5 C180.3,477.5 180.7,477.5 181.0,477.5 C181.3,477.5 181.7,477.5 182.0,477.5 C182.3,477.5 182.7,477.5 183.0,477.5 C183.3,477.5 183.7,477.5 184.0,477.5 C184.3,477.5 184.7,477.4 185.0,477.4 C185.3,477.4 185.7,477.4 186.0,477.4 C186.3,477.4 186.7,477.4 187.0,477.4 C187.3,477.4 187.7,477.4 188.0,477.4 C188.3,477.4 188.7,477.4 189.0,477.4 C189.3,477.4 189.7,477.4 190.0,477.4 C190.3,477.4 190.7,477.4 191.0,477.4 C191.3,477.4 191.7,477.4 192.0,477.4 C192.3,477.4 192.7,477.4 193.0,477.4 C193.3,477.4 193.7,477.4 194.0,477.4 C194.3,477.4 194.7,477.4 195.0,477.4 C195.3,477.4 195.7,477.4 196.0,477.4 C196.3,477.4 196.7,477.4 197.0,477.4 C197.3,477.4 197.7,477.4 198.0,477.4 C198.3,477.4 198.7,477.4 199.0,477.4 C199.3,477.4 199.7,477.4 200.0,477.4 C200.3,477.4 200.7,477.4 201.0,477.4 C201.3,477.4 201.7,477.4 202.0,477.4 C202.3,477.4 202.7,477.4 203.0,477.4 C203.3,477.4 203.7,477.4 204.0,477.4 C204.3,477.4 204.7,477.4 205.0,477.4 C205.3,477.4 205.7,477.4 206.0,477.4 C206.3,477.4 206.7,477.4 207.0,477.4 C207.3,477.4 207.7,477.4 208.0,477.4 C208.3,477.4 208.7,477.4 209.0,477.4 C209.3,477.4 209.7,477.4 210.0,477.4 C210.3,477.4 210.7,477.4 211.0,477.4 C211.3,477.4 211.7,477.4 212.0,477.4 C212.3,477.4 212.7,477.4 213.0,477.4 C213.3,477.4 213.7,477.4 214.0,477.4 C214.3,477.4 214.7,477.4 215.0,477.4 C215.3,477.4 215.7,477.4 216.0,477.4 C216.3,477.4 216.7,477.4 217.0,477.4 C217.3,477.4 217.7,477.4 218.0,477.4 C218.3,477.4 218.7,477.4 219.0,477.4 C219.3,477.4 219.7,477.4 220.0,477.4 C220.3,477.4 220.7,477.4 221.0,477.4 C221.3,477.4 221.7,477.4 222.0,477.4 C222.3,477.4 222.7,477.4 223.0,477.4 C223.3,477.4 223.7,477.4 224.0,477.4 C224.3,477.4 224.7,477.4 225.0,477.4 C225.3,477.4 225.7,477.4 226.0,477.4 C226.3,477.4 226.7,477.4 227.0,477.4 C227.3,477.4 227.7,477.4 228.0,477.4 C228.3,477.4 228.7,477.4 229.0,477.4 C229.3,477.4 229.7,477.4 230.0,477.4 C230.3,477.4 230.7,477.4 231.0,477.4 C231.3,477.4 231.7,477.4 232.0,477.4 C232.3,477.3 232.7,477.3 233.0,477.3 C233.3,477.3 233.7,477.3 234.0,477.3 C234.3,477.3 234.7,477.3 235.0,477.3 C235.3,477.3 235.7,477.3 236.0,477.3 C236.3,477.3 236.7,477.3 237.0,477.3 C237.3,477.3 237.7,477.3 238.0,477.3 C238.3,477.3 238.7,477.3 239.0,477.3 C239.3,477.3 239.7,477.3 240.0,477.3 C240.3,477.3 240.7,477.3 241.0,477.3 C241.3,477.3 241.7,477.3 242.0,477.3 C242.3,477.3 242.7,477.3 243.0,477.3 C243.3,477.3 243.7,477.3 244.0,477.3 C244.3,477.3 244.7,477.3 245.0,477.3 C245.3,477.3 245.7,477.3 246.0,477.3 C246.3,477.3 246.7,477.3 247.0,477.3 C247.3,477.3 247.7,477.3 248.0,477.3 C248.3,477.3 248.7,477.3 249.0,477.3 C249.3,477.3 249.7,477.3 250.0,477.3 C250.3,477.3 250.7,477.3 251.0,477.3 C251.3,477.3 251.7,477.3 252.0,477.3 C252.3,477.3 252.7,477.3 253.0,477.3 C253.3,477.3 253.7,477.3 254.0,477.3 C254.3,477.3 254.7,477.3 255.0,477.3 C255.3,477.3 255.7,477.3 256.0,477.3 C256.3,477.3 256.7,477.3 257.0,477.3 C257.3,477.3 257.7,477.3 258.0,477.3 C258.3,477.3 258.7,477.3 259.0,477.3 C259.3,477.3 259.7,477.3 260.0,477.3 C260.3,477.3 260.7,477.3 261.0,477.3 C261.3,477.3 261.7,477.3 262.0,477.3 C262.3,477.3 262.7,477.3 263.0,477.3 C263.3,477.3 263.7,477.3 264.0,477.3 C264.3,477.3 264.7,477.3 265.0,477.3 C265.3,477.2 265.7,477.2 266.0,477.2 C266.3,477.2 266.7,477.2 267.0,477.2 C267.3,477.2 267.7,477.2 268.0,477.2 C268.3,477.2 268.7,477.2 269.0,477.2 C269.3,477.2 269.7,477.2 270.0,477.2 C270.3,477.2 270.7,477.2 271.0,477.2 C271.3,477.2 271.7,477.2 272.0,477.2 C272.3,477.2 272.7,477.2 273.0,477.2 C273.3,477.2 273.7,477.2 274.0,477.2 C274.3,477.2 274.7,477.2 275.0,477.2 C275.3,477.2 275.7,477.2 276.0,477.2 C276.3,477.2 276.7,477.2 277.0,477.2 C277.3,477.2 277.7,477.2 278.0,477.2 C278.3,477.2 278.7,477.2 279.0,477.2 C279.3,477.2 279.7,477.2 280.0,477.2 C280.3,477.2 280.7,477.2 281.0,477.2 C281.3,477.2 281.7,477.2 282.0,477.2 C282.3,477.2 282.7,477.2 283.0,477.2 C283.3,477.2 283.7,477.2 284.0,477.1 C284.3,477.1 284.7,477.1 285.0,477.1 C285.3,477.1 285.7,477.1 286.0,477.1 C286.3,477.1 286.7,477.1 287.0,477.1 C287.3,477.1 287.7,477.1 288.0,477.1 C288.3,477.1 288.7,477.1 289.0,477.1 C289.3,477.1 289.7,477.1 290.0,477.1 C290.3,477.1 290.7,477.1 291.0,477.1 C291.3,477.1 291.7,477.1 292.0,477.1 C292.3,477.1 292.7,477.1 293.0,477.1 C293.3,477.1 293.7,477.0 294.0,477.0 C294.3,477.0 294.7,477.0 295.0,477.0 C295.3,477.0 295.7,477.0 296.0,477.0 C296.3,477.0 296.7,477.0 297.0,477.0 C297.3,477.0 297.7,476.9 298.0,476.9 C298.3,476.9 298.7,476.9 299.0,476.9 C299.3,476.9 299.7,476.9 300.0,476.9 C300.3,476.9 300.7,476.9 301.0,476.8 C301.3,476.8 301.7,476.8 302.0,476.8 C302.3,476.8 302.7,476.8 303.0,476.8 C303.3,476.7 303.7,476.7 304.0,476.7 C304.3,476.7 304.7,476.7 305.0,476.7 C305.3,476.7 305.7,476.7 306.0,476.6 C306.3,476.6 306.7,476.6 307.0,476.6 C307.3,476.6 307.7,476.6 308.0,476.5 C308.3,476.5 308.7,476.5 309.0,476.5 C309.3,476.5 309.7,476.5 310.0,476.5 C310.3,476.4 310.7,476.4 311.0,476.4 C311.3,476.4 311.7,476.4 312.0,476.4 C312.3,476.3 312.7,476.3 313.0,476.3 C313.3,476.3 313.7,476.3 314.0,476.3 C314.3,476.2 314.7,476.2 315.0,476.2 C315.3,476.2 315.7,476.2 316.0,476.2 C316.3,476.1 316.7,476.1 317.0,476.1 C317.3,476.1 317.7,476.1 318.0,476.1 C318.3,476.0 318.7,476.0 319.0,476.0 C319.3,476.0 319.7,476.0 320.0,476.0 C320.3,475.9 320.7,475.9 321.0,475.9 C321.3,475.9 321.7,475.9 322.0,475.8 C322.3,475.8 322.7,475.8 323.0,475.8 C323.3,475.8 323.7,475.8 324.0,475.7 C324.3,475.7 324.7,475.7 325.0,475.7 C325.3,475.6 325.7,475.6 326.0,475.6 C326.3,475.6 326.7,475.6 327.0,475.5 C327.3,475.5 327.7,475.5 328.0,475.5 C328.3,475.4 328.7,475.4 329.0,475.4 C329.3,475.4 329.7,475.3 330.0,475.3 C330.3,475.3 330.7,475.3 331.0,475.3 C331.3,475.2 331.7,475.2 332.0,475.2 C332.3,475.1 332.7,475.1 333.0,475.1 C333.3,475.1 333.7,475.0 334.0,475.0 C334.3,475.0 334.7,475.0 335.0,474.9 C335.3,474.9 335.7,474.9 336.0,474.9 C336.3,474.8 336.7,474.8 337.0,474.8 C337.3,474.8 337.7,474.7 338.0,474.7 C338.3,474.7 338.7,474.7 339.0,474.6 C339.3,474.6 339.7,474.6 340.0,474.6 C340.3,474.5 340.7,474.5 341.0,474.5 C341.3,474.5 341.7,474.4 342.0,474.4 C342.3,474.4 342.7,474.4 343.0,474.3 C343.3,474.3 343.7,474.3 344.0,474.3 C344.3,474.2 344.7,474.2 345.0,474.2 C345.3,474.2 345.7,474.2 346.0,474.1 C346.3,474.1 346.7,474.1 347.0,474.1 C347.3,474.1 347.7,474.0 348.0,474.0 C348.3,474.0 348.7,474.0 349.0,474.0 C349.3,473.9 349.7,473.9 350.0,473.9 C350.3,473.9 350.7,473.9 351.0,473.8 C351.3,473.8 351.7,473.8 352.0,473.8 C352.3,473.8 352.7,473.8 353.0,473.7 C353.3,473.7 353.7,473.7 354.0,473.7 C354.3,473.6 354.7,473.6 355.0,473.6 C355.3,473.6 355.7,473.5 356.0,473.5 C356.3,473.5 356.7,473.5 357.0,473.4 C357.3,473.4 357.7,473.4 358.0,473.3 C358.3,473.3 358.7,473.3 359.0,473.2 C359.3,473.2 359.7,473.1 360.0,473.1 C360.3,473.1 360.7,473.0 361.0,473.0 C361.3,472.9 361.7,472.9 362.0,472.8 C362.3,472.8 362.7,472.7 363.0,472.7 C363.3,472.6 363.7,472.6 364.0,472.5 C364.3,472.5 364.7,472.4 365.0,472.3 C365.3,472.3 365.7,472.2 366.0,472.2 C366.3,472.1 366.7,472.0 367.0,472.0 C367.3,471.9 367.7,471.8 368.0,471.8 C368.3,471.7 368.7,471.6 369.0,471.6 C369.3,471.5 369.7,471.4 370.0,471.3 C370.3,471.3 370.7,471.2 371.0,471.1 C371.3,471.0 371.7,470.9 372.0,470.8 C372.3,470.7 372.7,470.6 373.0,470.5 C373.3,470.4 373.7,470.3 374.0,470.2 C374.3,470.1 374.7,470.0 375.0,469.9 C375.3,469.8 375.7,469.7 376.0,469.6 C376.3,469.4 376.7,469.3 377.0,469.2 C377.3,469.1 377.7,469.0 378.0,468.9 C378.3,468.8 378.7,468.7 379.0,468.6 C379.3,468.5 379.7,468.4 380.0,468.3 C380.3,468.2 380.7,468.1 381.0,468.0 C381.3,467.9 381.7,467.8 382.0,467.8 C382.3,467.7 382.7,467.6 383.0,467.5 C383.3,467.4 383.7,467.4 384.0,467.3 C384.3,467.2 384.7,467.1 385.0,467.1 C385.3,467.0 385.7,466.9 386.0,466.9 C386.3,466.8 386.7,466.7 387.0,466.7 C387.3,466.6 387.7,466.6 388.0,466.5 C388.3,466.5 388.7,466.4 389.0,466.4 C389.3,466.4 389.7,466.4 390.0,466.3 C390.3,466.3 390.7,466.3 391.0,466.3 C391.3,466.3 391.7,466.3 392.0,466.3 C392.3,466.3 392.7,466.4 393.0,466.4 C393.3,466.4 393.7,466.4 394.0,466.4 C394.3,466.4 394.7,466.5 395.0,466.5 C395.3,466.5 395.7,466.5 396.0,466.6 C396.3,466.6 396.7,466.6 397.0,466.6 C397.3,466.7 397.7,466.7 398.0,466.7 C398.3,466.8 398.7,466.8 399.0,466.8 C399.3,466.9 399.7,466.9 400.0,467.0 C400.3,467.1 400.7,467.1 401.0,467.2 C401.3,467.3 401.7,467.3 402.0,467.4 C402.3,467.5 402.7,467.6 403.0,467.7 C403.3,467.8 403.7,467.9 404.0,468.0 C404.3,468.1 404.7,468.2 405.0,468.4 C405.3,468.5 405.7,468.7 406.0,468.8 C406.3,469.0 406.7,469.2 407.0,469.3 C407.3,469.5 407.7,469.7 408.0,469.8 C408.3,470.0 408.7,470.1 409.0,470.2 C409.3,470.4 409.7,470.5 410.0,470.6 C410.3,470.7 410.7,470.8 411.0,470.9 C411.3,471.0 411.7,471.1 412.0,471.2 C412.3,471.3 412.7,471.4 413.0,471.5 C413.3,471.6 413.7,471.7 414.0,471.8 C414.3,471.9 414.7,472.0 415.0,472.0 C415.3,472.1 415.7,472.2 416.0,472.3 C416.3,472.3 416.7,472.4 417.0,472.5 C417.3,472.6 417.7,472.6 418.0,472.7 C418.3,472.8 418.7,472.9 419.0,472.9 C419.3,473.0 419.7,473.1 420.0,473.1 C420.3,473.2 420.7,473.3 421.0,473.3 C421.3,473.4 421.7,473.4 422.0,473.5 C422.3,473.6 422.7,473.6 423.0,473.7 C423.3,473.7 423.7,473.8 424.0,473.9 C424.3,473.9 424.7,474.0 425.0,474.0 C425.3,474.1 425.7,474.1 426.0,474.2 C426.3,474.2 426.7,474.3 427.0,474.3 C427.3,474.4 427.7,474.4 428.0,474.5 C428.3,474.5 428.7,474.6 429.0,474.6 C429.3,474.7 429.7,474.7 430.0,474.8 C430.3,474.8 430.7,474.9 431.0,474.9 C431.3,475.0 431.7,475.0 432.0,475.1 C432.3,475.1 432.7,475.2 433.0,475.2 C433.3,475.2 433.7,475.3 434.0,475.3 C434.3,475.4 434.7,475.4 435.0,475.5 C435.3,475.5 435.7,475.5 436.0,475.6 C436.3,475.6 436.7,475.7 437.0,475.7 C437.3,475.7 437.7,475.8 438.0,475.8 C438.3,475.8 438.7,475.9 439.0,475.9 C439.3,475.9 439.7,476.0 440.0,476.0 C440.3,476.0 440.7,476.1 441.0,476.1 C441.3,476.1 441.7,476.2 442.0,476.2 C442.3,476.2 442.7,476.3 443.0,476.3 C443.3,476.3 443.7,476.3 444.0,476.4 C444.3,476.4 444.7,476.4 445.0,476.4 C445.3,476.5 445.7,476.5 446.0,476.5 C446.3,476.5 446.7,476.6 447.0,476.6 C447.3,476.6 447.7,476.6 448.0,476.7 C448.3,476.7 448.7,476.7 449.0,476.7 C449.3,476.8 449.7,476.8 450.0,476.8 C450.3,476.8 450.7,476.8 451.0,476.9 C451.3,476.9 451.7,476.9 452.0,476.9 C452.3,476.9 452.7,477.0 453.0,477.0 C453.3,477.0 453.7,477.0 454.0,477.0 C454.3,477.0 454.7,477.0 455.0,477.1 C455.3,477.1 455.7,477.1 456.0,477.1 C456.3,477.1 456.7,477.1 457.0,477.1 C457.3,477.1 457.7,477.2 458.0,477.2 C458.3,477.2 458.7,477.2 459.0,477.2 C459.3,477.2 459.7,477.2 460.0,477.2 C460.3,477.2 460.7,477.2 461.0,477.2 C461.3,477.3 461.7,477.3 462.0,477.3 C462.3,477.3 462.7,477.3 463.0,477.3 C463.3,477.3 463.7,477.3 464.0,477.3 C464.3,477.3 464.7,477.3 465.0,477.3 C465.3,477.4 465.7,477.4 466.0,477.4 C466.3,477.4 466.7,477.4 467.0,477.4 C467.3,477.4 467.7,477.4 468.0,477.4 C468.3,477.4 468.7,477.4 469.0,477.4 C469.3,477.4 469.7,477.4 470.0,477.5 C470.3,477.5 470.7,477.5 471.0,477.5 C471.3,477.5 471.7,477.5 472.0,477.5 C472.3,477.5 472.7,477.5 473.0,477.5 C473.3,477.5 473.7,477.5 474.0,477.5 C474.3,477.5 474.7,477.5 475.0,477.5 C475.3,477.5 475.7,477.5 476.0,477.5 C476.3,477.6 476.7,477.6 477.0,477.6 C477.3,477.6 477.7,477.6 478.0,477.6 C478.3,477.6 478.7,477.6 479.0,477.6 C479.3,477.6 479.7,477.6 480.0,477.6 C480.3,477.6 480.7,477.6 481.0,477.6 C481.3,477.6 481.7,477.6 482.0,477.6 C482.3,477.6 482.7,477.6 483.0,477.6 C483.3,477.6 483.7,477.6 484.0,477.6 C484.3,477.6 484.7,477.7 485.0,477.7 C485.3,477.7 485.7,477.7 486.0,477.7 C486.3,477.7 486.7,477.7 487.0,477.7 C487.3,477.7 487.7,477.7 488.0,477.7 C488.3,477.7 488.7,477.7 489.0,477.7 C489.3,477.7 489.7,477.7 490.0,477.7 C490.3,477.7 490.7,477.7 491.0,477.7 C491.3,477.7 491.7,477.7 492.0,477.7 C492.3,477.7 492.7,477.7 493.0,477.7 C493.3,477.7 493.7,477.7 494.0,477.7 C494.3,477.7 494.7,477.7 495.0,477.7 C495.3,477.8 495.7,477.8 496.0,477.8 C496.3,477.8 496.7,477.8 497.0,477.8 C497.3,477.8 497.7,477.8 498.0,477.8 C498.3,477.8 498.7,477.8 499.0,477.8 C499.3,477.8 499.7,477.8 500.0,477.8 C500.3,477.8 500.7,477.8 501.0,477.8 C501.3,477.8 501.7,477.8 502.0,477.8 C502.3,477.8 502.7,477.8 503.0,477.8 C503.3,477.8 503.7,477.8 504.0,477.8 C504.3,477.8 504.7,477.8 505.0,477.8 C505.3,477.8 505.7,477.8 506.0,477.8 C506.3,477.8 506.7,477.8 507.0,477.8 C507.3,477.8 507.7,477.8 508.0,477.8 C508.3,477.8 508.7,477.8 509.0,477.8 C509.3,477.8 509.7,477.9 510.0,477.9 C510.3,477.9 510.7,477.9 511.0,477.9 C511.3,477.9 511.7,477.9 512.0,477.9 C512.3,477.9 512.7,477.9 513.0,477.9 C513.3,477.9 513.7,477.9 514.0,477.9 C514.3,477.9 514.7,477.9 515.0,477.9 C515.3,477.9 515.7,477.9 516.0,477.9 C516.3,477.9 516.7,477.9 517.0,477.9 C517.3,477.9 517.7,477.9 518.0,477.9 C518.3,477.9 518.7,477.9 519.0,477.9 C519.3,477.9 519.7,477.9 520.0,477.9 C520.3,477.9 520.7,477.9 521.0,477.9 C521.3,477.9 521.7,477.9 522.0,477.9 C522.3,477.9 522.7,477.9 523.0,477.9 C523.3,477.9 523.7,477.9 524.0,477.9 C524.3,477.9 524.7,477.9 525.0,477.9 C525.3,477.9 525.7,477.9 526.0,477.9 C526.3,477.9 526.7,477.9 527.0,477.9 C527.3,477.9 527.7,477.9 528.0,477.9 C528.3,477.9 528.7,477.9 529.0,477.9 C529.3,477.9 529.7,477.9 530.0,477.9 C530.3,477.9 530.7,477.9 531.0,477.9 C531.3,477.9 531.7,477.9 532.0,477.9 C532.3,477.9 532.7,477.9 533.0,477.9 C533.3,477.9 533.7,477.9 534.0,478.0 C534.3,478.0 534.7,478.0 535.0,478.0 C535.3,478.0 535.7,478.0 536.0,478.0 C536.3,478.0 536.7,478.0 537.0,478.0 C537.3,478.0 537.7,478.0 538.0,478.0 C538.3,478.0 538.7,478.0 539.0,478.0 C539.3,478.0 539.7,478.0 540.0,478.0 C540.3,478.0 540.7,478.0 541.0,478.0 C541.3,478.0 541.7,478.0 542.0,478.0 C542.3,478.0 542.7,478.0 543.0,478.0 C543.3,478.0 543.7,478.0 544.0,478.0 C544.3,478.0 544.7,478.0 545.0,478.0 C545.3,478.0 545.7,478.0 546.0,478.0 C546.3,478.0 546.7,478.0 547.0,478.0 C547.3,478.0 547.7,478.0 548.0,478.0 C548.3,478.0 548.7,478.0 549.0,478.0 C549.3,478.0 549.7,478.0 550.0,478.0 C550.3,478.0 550.7,478.0 551.0,478.0 C551.3,478.0 551.7,478.0 552.0,478.0 C552.3,478.0 552.7,478.0 553.0,478.0 C553.3,478.0 553.7,478.0 554.0,478.0 C554.3,478.0 554.7,478.0 555.0,478.0 C555.3,478.0 555.7,478.0 556.0,478.0 C556.3,478.0 556.7,478.0 557.0,478.0 C557.3,478.0 557.7,478.0 558.0,478.0 C558.3,478.0 558.8,478.0 559.0,478.0" stroke="#c0303a"/>
<path d="M41.0,478.6 C41.2,478.6 41.7,478.6 42.0,478.6 C42.3,478.6 42.7,478.6 43.0,478.6 C43.3,478.6 43.7,478.6 44.0,478.6 C44.3,478.6 44.7,478.6 45.0,478.6 C45.3,478.6 45.7,478.6 46.0,478.6 C46.3,478.6 46.7,478.6 47.0,478.6 C47.3,478.6 47.7,478.6 48.0,478.6 C48.3,478.6 48.7,478.6 49.0,478.6 C49.3,478.6 49.7,478.6 50.0,478.6 C50.3,478.6 50.7,478.6 51.0,478.6 C51.3,478.6 51.7,478.6 52.0,478.6 C52.3,478.6 52.7,478.6 53.0,478.6 C53.3,478.6 53.7,478.6 54.0,478.6 C54.3,478.6 54.7,478.6 55.0,478.6 C55.3,478.6 55.7,478.6 56.0,478.6 C56.3,478.6 56.7,478.6 57.0,478.6 C57.3,478.6 57.7,478.6 58.0,478.6 C58.3,478.6 58.7,478.6 59.0,478.6 C59.3,478.6 59.7,478.6 60.0,478.6 C60.3,478.6 60.7,478.6 61.0,478.6 C61.3,478.6 61.7,478.6 62.0,478.6 C62.3,478.6 62.7,478.6 63.0,478.6 C63.3,478.6 63.7,478.6 64.0,478.6 C64.3,478.6 64.7,478.6 65.0,478.6 C65.3,478.6 65.7,478.6 66.0,478.6 C66.3,478.6 66.7,478.6 67.0,478.6 C67.3,478.6 67.7,478.6 68.0,478.6 C68.3,478.6 68.7,478.6 69.0,478.6 C69.3,478.6 69.7,478.6 70.0,478.6 C70.3,478.6 70.7,478.6 71.0,478.6 C71.3,478.6 71.7,478.6 72.0,478.6 C72.3,478.6 72.7,478.6 73.0,478.6 C73.3,478.6 73.7,478.6 74.0,478.6 C74.3,478.6 74.7,478.6 75.0,478.6 C75.3,478.6 75.7,478.6 76.0,478.6 C76.3,478.6 76.7,478.6 77.0,478.6 C77.3,478.6 77.7,478.6 78.0,478.6 C78.3,478.6 78.7,478.6 79.0,478.6 C79.3,478.6 79.7,478.6 80.0,478.6 C80.3,478.6 80.7,478.6 81.0,478.6 C81.3,478.6 81.7,478.6 82.0,478.5 C82.3,478.5 82.7,478.5 83.0,478.5 C83.3,478.5 83.7,478.5 84.0,478.5 C84.3,478.5 84.7,478.5 85.0,478.5 C85.3,478.5 85.7,478.5 86.0,478.5 C86.3,478.5 86.7,478.5 87.0,478.5 C87.3,478.5 87.7,478.5 88.0,478.5 C88.3,478.5 88.7,478.5 89.0,478.5 C89.3,478.5 89.7,478.5 90.0,478.5 C90.3,478.5 90.7,478.5 91.0,478.5 C91.3,478.5 91.7,478.5 92.0,478.5 C92.3,478.5 92.7,478.5 93.0,478.5 C93.3,478.5 93.7,478.5 94.0,478.5 C94.3,478.5 94.7,478.5 95.0,478.5 C95.3,478.5 95.7,478.5 96.0,478.5 C96.3,478.5 96.7,478.5 97.0,478.5 C97.3,478.5 97.7,478.5 98.0,478.5 C98.3,478.5 98.7,478.5 99.0,478.5 C99.3,478.5 99.7,478.5 100.0,478.5 C100.3,478.5 100.7,478.5 101.0,478.5 C101.3,478.5 101.7,478.5 102.0,478.5 C102.3,478.5 102.7,478.5 103.0,478.5 C103.3,478.5 103.7,478.5 104.0,478.5 C104.3,478.5 104.7,478.5 105.0,478.5 C105.3,478.5 105.7,478.5 106.0,478.5 C106.3,478.5 106.7,478.5 107.0,478.5 C107.3,478.5 107.7,478.5 108.0,478.5 C108.3,478.5 108.7,478.5 109.0,478.5 C109.3,478.5 109.7,478.5 110.0,478.5 C110.3,478.5 110.7,478.5 111.0,478.5 C111.3,478.5 111.7,478.5 112.0,478.5 C112.3,478.5 112.7,478.5 113.0,478.5 C113.3,478.5 113.7,478.5 114.0,478.5 C114.3,478.5 114.7,478.5 115.0,478.5 C115.3,478.5 115.7,478.5 116.0,478.5 C116.3,478.5 116.7,478.5 117.0,478.5 C117.3,478.5 117.7,478.5 118.0,478.5 C118.3,478.5 118.7,478.5 119.0,478.5 C119.3,478.5 119.7,478.5 120.0,478.5 C120.3,478.5 120.7,478.5 121.0,478.5 C121.3,478.5 121.7,478.5 122.0,478.5 C122.3,478.5 122.7,478.5 123.0,478.5 C123.3,478.5 123.7,478.5 124.0,478.5 C124.3,478.5 124.7,478.5 125.0,478.5 C125.3,478.5 125.7,478.5 126.0,478.5 C126.3,478.5 126.7,478.5 127.0,478.5 C127.3,478.5 127.7,478.5 128.0,478.5 C128.3,478.5 128.7,478.5 129.0,478.5 C129.3,478.5 129.7,478.5 130.0,478.4 C130.3,478.4 130.7,478.4 131.0,478.4 C131.3,478.4 131.7,478.4 132.0,478.4 C132.3,478.4 132.7,478.4 133.0,478.4 C133.3,478.4 133.7,478.4 134.0,478.4 C134.3,478.4 134.7,478.4 135.0,478.4 C135.3,478.4 135.7,478.4 136.0,478.4 C136.3,478.4 136.7,478.4 137.0,478.4 C137.3,478.4 137.7,478.4 138.0,478.4 C138.3,478.4 138.7,478.4 139.0,478.4 C139.3,478.4 139.7,478.4 140.0,478.4 C140.3,478.4 140.7,478.4 141.0,478.4 C141.3,478.4 141.7,478.4 142.0,478.4 C142.3,478.4 142.7,478.4 143.0,478.4 C143.3,478.4 143.7,478.4 144.0,478.4 C144.3,478.4 144.7,478.4 145.0,478.4 C145.3,478.4 145.7,478.4 146.0,478.4 C146.3,478.4 146.7,478.4 147.0,478.4 C147.3,478.4 147.7,478.4 148.0,478.4 C148.3,478.4 148.7,478.4 149.0,478.4 C149.3,478.4 149.7,478.4 150.0,478.4 C150.3,478.4 150.7,478.4 151.0,478.4 C151.3,478.4 151.7,478.4 152.0,478.4 C152.3,478.4 152.7,478.4 153.0,478.4 C153.3,478.4 153.7,478.4 154.0,478.4 C154.3,478.4 154.7,478.4 155.0,478.4 C155.3,478.4 155.7,478.4 156.0,478.4 C156.3,478.4 156.7,478.4 157.0,478.4 C157.3,478.4 157.7,478.4 158.0,478.4 C158.3,478.4 158.7,478.4 159.0,478.4 C159.3,478.4 159.7,478.4 160.0,478.4 C160.3,478.4 160.7,478.4 161.0,478.4 C161.3,478.4 161.7,478.4 162.0,478.4 C162.3,478.4 162.7,478.4 163.0,478.4 C163.3,478.4 163.7,478.4 164.0,478.4 C164.3,478.4 164.7,478.4 165.0,478.4 C165.3,478.4 165.7,478.4 166.0,478.4 C166.3,478.4 166.7,478.4 167.0,478.4 C167.3,478.4 167.7,478.4 168.0,478.4 C168.3,478.4 168.7,478.4 169.0,478.4 C169.3,478.4 169.7,478.4 170.0,478.4 C170.3,478.4 170.7,478.3 171.0,478.3 C171.3,478.3 171.7,478.3 172.0,478.3 C172.3,478.3 172.7,478.3 173.0,478.3 C173.3,478.3 173.7,478.3 174.0,478.3 C174.3,478.3 174.7,478.3 175.0,478.3 C175.3,478.3 175.7,478.3 176.0,478.3 C176.3,478.3 176.7,478.3 177.0,478.3 C177.3,478.3 177.7,478.3 178.0,478.3 C178.3,478.3 178.7,478.3 179.0,478.3 C179.3,478.3 179.7,478.3 180.0,478.3 C180.3,478.3 180.7,478.3 181.0,478.3 C181.3,478.3 181.7,478.3 182.0,478.3 C182.3,478.3 182.7,478.3 183.0,478.3 C183.3,478.3 183.7,478.3 184.0,478.3 C184.3,478.3 184.7,478.3 185.0,478.3 C185.3,478.3 185.7,478.3 186.0,478.3 C186.3,478.3 186.7,478.3 187.0,478.3 C187.3,478.3 187.7,478.3 188.0,478.3 C188.3,478.3 188.7,478.3 189.0,478.3 C189.3,478.3 189.7,478.3 190.0,478.3 C190.3,478.3 190.7,478.3 191.0,478.3 C191.3,478.3 191.7,478.3 192.0,478.3 C192.3,478.3 192.7,478.3 193.0,478.3 C193.3,478.3 193.7,478.3 194.0,478.3 C194.3,478.3 194.7,478.3 195.0,478.3 C195.3,478.3 195.7,478.3 196.0,478.3 C196.3,478.3 196.7,478.3 197.0,478.3 C197.3,478.3 197.7,478.3 198.0,478.3 C198.3,478.3 198.7,478.3 199.0,478.3 C199.3,478.3 199.7,478.3 200.0,478.3 C200.3,478.3 200.7,478.3 201.0,478.3 C201.3,478.3 201.7,478.3 202.0,478.3 C202.3,478.3 202.7,478.3 203.0,478.3 C203.3,478.3 203.7,478.3 204.0,478.3 C204.3,478.3 204.7,478.3 205.0,478.2 C205.3,478.2 205.7,478.2 206.0,478.2 C206.3,478.2 206.7,478.2 207.0,478.2 C207.3,478.2 207.7,478.2 208.0,478.2 C208.3,478.2 208.7,478.2 209.0,478.2 C209.3,478.2 209.7,478.2 210.0,478.2 C210.3,478.2 210.7,478.2 211.0,478.2 C211.3,478.2 211.7,478.2 212.0,478.2 C212.3,478.2 212.7,478.2 213.0,478.2 C213.3,478.2 213.7,478.2 214.0,478.2 C214.3,478.2 214.7,478.2 215.0,478.2 C215.3,478.2 215.7,478.2 216.0,478.2 C216.3,478.2 216.7,478.2 217.0,478.2 C217.3,478.2 217.7,478.2 218.0,478.2 C218.3,478.2 218.7,478.2 219.0,478.2 C219.3,478.2 219.7,478.2 220.0,478.2 C220.3,478.2 220.7,478.2 221.0,478.2 C221.3,478.2 221.7,478.2 222.0,478.2 C222.3,478.2 222.7,478.2 223.0,478.2 C223.3,478.2 223.7,478.2 224.0,478.2 C224.3,478.2 224.7,478.2 225.0,478.2 C225.3,478.2 225.7,478.2 226.0,478.2 C226.3,478.2 226.7,478.2 227.0,478.2 C227.3,478.1 227.7,478.1 228.0,478.1 C228.3,478.1 228.7,478.1 229.0,478.1 C229.3,478.1 229.7,478.1 230.0,478.1 C230.3,478.1 230.7,478.1 231.0,478.1 C231.3,478.1 231.7,478.1 232.0,478.1 C232.3,478.1 232.7,478.1 233.0,478.1 C233.3,478.1 233.7,478.1 234.0,478.1 C234.3,478.1 234.7,478.1 235.0,478.1 C235.3,478.1 235.7,478.1 236.0,478.1 C236.3,478.1 236.7,478.1 237.0,478.1 C237.3,478.1 237.7,478.1 238.0,478.1 C238.3,478.1 238.7,478.1 239.0,478.1 C239.3,478.1 239.7,478.1 240.0,478.1 C240.3,478.1 240.7,478.1 241.0,478.1 C241.3,478.1 241.7,478.1 242.0,478.1 C242.3,478.1 242.7,478.1 243.0,478.1 C243.3,478.0 243.7,478.0 244.0,478.0 C244.3,478.0 244.7,478.0 245.0,478.0 C245.3,478.0 245.7,478.0 246.0,478.0 C246.3,478.0 246.7,478.0 247.0,478.0 C247.3,478.0 247.7,478.0 248.0,478.0 C248.3,478.0 248.7,478.0 249.0,478.0 C249.3,478.0 249.7,478.0 250.0,478.0 C250.3,478.0 250.7,478.0 251.0,478.0 C251.3,478.0 251.7,478.0 252.0,478.0 C252.3,478.0 252.7,478.0 253.0,478.0 C253.3,478.0 253.7,478.0 254.0,477.9 C254.3,477.9 254.7,477.9 255.0,477.9 C255.3,477.9 255.7,477.9 256.0,477.9 C256.3,477.9 256.7,477.9 257.0,477.9 C257.3,477.9 257.7,477.9 258.0,477.9 C258.3,477.8 258.7,477.8 259.0,477.8 C259.3,477.8 259.7,477.8 260.0,477.8 C260.3,477.8 260.7,477.8 261.0,477.8 C261.3,477.8 261.7,477.8 262.0,477.7 C262.3,477.7 262.7,477.7 263.0,477.7 C263.3,477.7 263.7,477.7 264.0,477.7 C264.3,477.7 264.7,477.7 265.0,477.6 C265.3,477.6 265.7,477.6 266.0,477.6 C266.3,477.6 266.7,477.6 267.0,477.6 C267.3,477.6 267.7,477.5 268.0,477.5 C268.3,477.5 268.7,477.5 269.0,477.5 C269.3,477.5 269.7,477.5 270.0,477.5 C270.3,477.4 270.7,477.4 271.0,477.4 C271.3,477.4 271.7,477.4 272.0,477.4 C272.3,477.4 272.7,477.4 273.0,477.3 C273.3,477.3 273.7,477.3 274.0,477.3 C274.3,477.3 274.7,477.3 275.0,477.3 C275.3,477.2 275.7,477.2 276.0,477.2 C276.3,477.2 276.7,477.2 277.0,477.2 C277.3,477.2 277.7,477.2 278.0,477.2 C278.3,477.1 278.7,477.1 279.0,477.1 C279.3,477.1 279.7,477.1 280.0,477.1 C280.3,477.1 280.7,477.1 281.0,477.0 C281.3,477.0 281.7,477.0 282.0,477.0 C282.3,477.0 282.7,477.0 283.0,477.0 C283.3,477.0 283.7,477.0 284.0,476.9 C284.3,476.9 284.7,476.9 285.0,476.9 C285.3,476.9 285.7,476.9 286.0,476.9 C286.3,476.9 286.7,476.9 287.0,476.9 C287.3,476.9 287.7,476.9 288.0,476.8 C288.3,476.8 288.7,476.8 289.0,476.8 C289.3,476.8 289.7,476.8 290.0,476.8 C290.3,476.8 290.7,476.8 291.0,476.8 C291.3,476.8 291.7,476.8 292.0,476.8 C292.3,476.8 292.7,476.8 293.0,476.8 C293.3,476.8 293.7,476.7 294.0,476.7 C294.3,476.7 294.7,476.7 295.0,476.7 C295.3,476.7 295.7,476.7 296.0,476.7 C296.3,476.7 296.7,476.7 297.0,476.7 C297.3,476.7 297.7,476.7 298.0,476.7 C298.3,476.7 298.7,476.7 299.0,476.7 C299.3,476.7 299.7,476.7 300.0,476.7 C300.3,476.7 300.7,476.7 301.0,476.7 C301.3,476.7 301.7,476.7 302.0,476.7 C302.3,476.7 302.7,476.7 303.0,476.7 C303.3,476.7 303.7,476.6 304.0,476.6 C304.3,476.6 304.7,476.6 305.0,476.6 C305.3,476.6 305.7,476.6 306.0,476.6 C306.3,476.6 306.7,476.6 307.0,476.6 C307.3,476.6 307.7,476.6 308.0,476.6 C308.3,476.6 308.7,476.6 309.0,476.5 C309.3,476.5 309.7,476.5 310.0,476.5 C310.3,476.5 310.7,476.5 311.0,476.4 C311.3,476.4 311.7,476.4 312.0,476.3 C312.3,476.2 312.7,476.2 313.0,476.1 C313.3,476.0 313.7,475.9 314.0,475.8 C314.3,475.7 314.7,475.5 315.0,475.4 C315.3,475.3 315.7,475.1 316.0,475.0 C316.3,474.8 316.7,474.7 317.0,474.5 C317.3,474.4 317.7,474.2 318.0,474.0 C318.3,473.8 318.7,473.6 319.0,473.4 C319.3,473.2 319.7,473.0 320.0,472.8 C320.3,472.5 320.7,472.3 321.0,472.0 C321.3,471.7 321.7,471.4 322.0,471.0 C322.3,470.7 322.7,470.4 323.0,470.0 C323.3,469.7 323.7,469.3 324.0,468.9 C324.3,468.5 324.7,468.1 325.0,467.8 C325.3,467.4 325.7,467.0 326.0,466.6 C326.3,466.2 326.7,465.8 327.0,465.4 C327.3,465.0 327.7,464.6 328.0,464.2 C328.3,463.8 328.7,463.4 329.0,463.0 C329.3,462.5 329.7,462.1 330.0,461.7 C330.3,461.2 330.7,460.8 331.0,460.3 C331.3,459.9 331.7,459.4 332.0,459.0 C332.3,458.6 332.7,458.1 333.0,457.7 C333.3,457.3 333.7,456.9 334.0,456.5 C334.3,456.1 334.7,455.7 335.0,455.4 C335.3,455.0 335.7,454.7 336.0,454.3 C336.3,454.0 336.7,453.7 337.0,453.3 C337.3,453.0 337.7,452.7 338.0,452.4 C338.3,452.1 338.7,451.8 339.0,451.5 C339.3,451.2 339.7,451.0 340.0,450.8 C340.3,450.5 340.7,450.3 341.0,450.1 C341.3,450.0 341.7,449.8 342.0,449.7 C342.3,449.5 342.7,449.4 343.0,449.3 C343.3,449.2 343.7,449.1 344.0,449.1 C344.3,449.1 344.7,449.0 345.0,449.0 C345.3,449.0 345.7,449.1 346.0,449.1 C346.3,449.2 346.7,449.3 347.0,449.3 C347.3,449.4 347.7,449.5 348.0,449.6 C348.3,449.7 348.7,449.8 349.0,450.0 C349.3,450.1 349.7,450.2 350.0,450.4 C350.3,450.5 350.7,450.7 351.0,450.9 C351.3,451.1 351.7,451.2 352.0,451.5 C352.3,451.7 352.7,451.9 353.0,452.2 C353.3,452.4 353.7,452.7 354.0,453.0 C354.3,453.2 354.7,453.5 355.0,453.8 C355.3,454.1 355.7,454.4 356.0,454.7 C356.3,455.0 356.7,455.3 357.0,455.6 C357.3,455.9 357.7,456.1 358.0,456.4 C358.3,456.7 358.7,457.0 359.0,457.3 C359.3,457.6 359.7,457.9 360.0,458.2 C360.3,458.5 360.7,458.8 361.0,459.1 C361.3,459.4 361.7,459.7 362.0,459.9 C362.3,460.2 362.7,460.4 363.0,460.6 C363.3,460.8 363.7,461.0 364.0,461.1 C364.3,461.3 364.7,461.4 365.0,461.6 C365.3,461.7 365.7,461.9 366.0,462.0 C366.3,462.1 366.7,462.2 367.0,462.3 C367.3,462.5 367.7,462.6 368.0,462.7 C368.3,462.8 368.7,462.9 369.0,462.9 C369.3,463.0 369.7,463.1 370.0,463.2 C370.3,463.2 370.7,463.3 371.0,463.4 C371.3,463.4 371.7,463.4 372.0,463.5 C372.3,463.5 372.7,463.6 373.0,463.6 C373.3,463.6 373.7,463.7 374.0,463.7 C374.3,463.7 374.7,463.7 375.0,463.8 C375.3,463.8 375.7,463.8 376.0,463.9 C376.3,463.9 376.7,463.9 377.0,463.9 C377.3,463.9 377.7,464.0 378.0,464.0 C378.3,464.0 378.7,464.0 379.0,464.0 C379.3,464.0 379.7,464.0 380.0,464.1 C380.3,464.1 380.7,464.1 381.0,464.1 C381.3,464.1 381.7,464.1 382.0,464.1 C382.3,464.1 382.7,464.1 383.0,464.1 C383.3,464.1 383.7,464.1 384.0,464.1 C384.3,464.1 384.7,464.1 385.0,464.1 C385.3,464.1 385.7,464.1 386.0,464.1 C386.3,464.1 386.7,464.1 387.0,464.1 C387.3,464.1 387.7,464.1 388.0,464.1 C388.3,464.1 388.7,464.1 389.0,464.1 C389.3,464.1 389.7,464.1 390.0,464.1 C390.3,464.1 390.7,464.1 391.0,464.1 C391.3,464.1 391.7,464.2 392.0,464.2 C392.3,464.2 392.7,464.2 393.0,464.3 C393.3,464.3 393.7,464.3 394.0,464.4 C394.3,464.4 394.7,464.5 395.0,464.5 C395.3,464.6 395.7,464.6 396.0,464.7 C396.3,464.8 396.7,464.8 397.0,464.9 C397.3,464.9 397.7,465.0 398.0,465.1 C398.3,465.1 398.7,465.2 399.0,465.2 C399.3,465.3 399.7,465.4 400.0,465.4 C400.3,465.5 400.7,465.6 401.0,465.7 C401.3,465.7 401.7,465.8 402.0,465.9 C402.3,466.0 402.7,466.1 403.0,466.2 C403.3,466.3 403.7,466.4 404.0,466.5 C404.3,466.6 404.7,466.7 405.0,466.9 C405.3,467.0 405.7,467.2 406.0,467.4 C406.3,467.5 406.7,467.7 407.0,467.9 C407.3,468.1 407.7,468.3 408.0,468.5 C408.3,468.7 408.7,468.8 409.0,469.0 C409.3,469.2 409.7,469.3 410.0,469.5 C410.3,469.6 410.7,469.8 411.0,469.9 C411.3,470.0 411.7,470.2 412.0,470.3 C412.3,470.4 412.7,470.6 413.0,470.7 C413.3,470.8 413.7,470.9 414.0,471.0 C414.3,471.2 414.7,471.3 415.0,471.4 C415.3,471.5 415.7,471.6 416.0,471.7 C416.3,471.8 416.7,471.9 417.0,472.0 C417.3,472.1 417.7,472.2 418.0,472.3 C418.3,472.3 418.7,472.4 419.0,472.5 C419.3,472.6 419.7,472.7 420.0,472.8 C420.3,472.8 420.7,472.9 421.0,473.0 C421.3,473.1 421.7,473.1 422.0,473.2 C422.3,473.3 422.7,473.4 423.0,473.4 C423.3,473.5 423.7,473.6 424.0,473.6 C424.3,473.7 424.7,473.7 425.0,473.8 C425.3,473.9 425.7,473.9 426.0,474.0 C426.3,474.1 426.7,474.1 427.0,474.2 C427.3,474.2 427.7,474.3 428.0,474.3 C428.3,474.4 428.7,474.5 429.0,474.5 C429.3,474.6 429.7,474.6 430.0,474.7 C430.3,474.7 430.7,474.8 431.0,474.8 C431.3,474.9 431.7,474.9 432.0,475.0 C432.3,475.0 432.7,475.1 433.0,475.1 C433.3,475.2 433.7,475.2 434.0,475.3 C434.3,475.3 434.7,475.4 435.0,475.4 C435.3,475.5 435.7,475.5 436.0,475.6 C436.3,475.6 436.7,475.7 437.0,475.7 C437.3,475.7 437.7,475.8 438.0,475.8 C438.3,475.9 438.7,475.9 439.0,476.0 C439.3,476.0 439.7,476.0 440.0,476.1 C440.3,476.1 440.7,476.1 441.0,476.2 C441.3,476.2 441.7,476.2 442.0,476.3 C442.3,476.3 442.7,476.3 443.0,476.3 C443.3,476.4 443.7,476.4 444.0,476.4 C444.3,476.5 444.7,476.5 445.0,476.5 C445.3,476.5 445.7,476.6 446.0,476.6 C446.3,476.6 446.7,476.6 447.0,476.7 C447.3,476.7 447.7,476.7 448.0,476.7 C448.3,476.8 448.7,476.8 449.0,476.8 C449.3,476.8 449.7,476.9 450.0,476.9 C450.3,476.9 450.7,476.9 451.0,476.9 C451.3,477.0 451.7,477.0 452.0,477.0 C452.3,477.0 452.7,477.0 453.0,477.0 C453.3,477.1 453.7,477.1 454.0,477.1 C454.3,477.1 454.7,477.1 455.0,477.1 C455.3,477.2 455.7,477.2 456.0,477.2 C456.3,477.2 456.7,477.2 457.0,477.2 C457.3,477.2 457.7,477.2 458.0,477.2 C458.3,477.3 458.7,477.3 459.0,477.3 C459.3,477.3 459.7,477.3 460.0,477.3 C460.3,477.3 460.7,477.3 461.0,477.3 C461.3,477.3 461.7,477.3 462.0,477.4 C462.3,477.4 462.7,477.4 463.0,477.4 C463.3,477.4 463.7,477.4 464.0,477.4 C464.3,477.4 464.7,477.4 465.0,477.4 C465.3,477.4 465.7,477.4 466.0,477.4 C466.3,477.5 466.7,477.5 467.0,477.5 C467.3,477.5 467.7,477.5 468.0,477.5 C468.3,477.5 468.7,477.5 469.0,477.5 C469.3,477.5 469.7,477.5 470.0,477.5 C470.3,477.5 470.7,477.5 471.0,477.5 C471.3,477.6 471.7,477.6 472.0,477.6 C472.3,477.6 472.7,477.6 473.0,477.6 C473.3,477.6 473.7,477.6 474.0,477.6 C474.3,477.6 474.7,477.6 475.0,477.6 C475.3,477.6 475.7,477.6 476.0,477.6 C476.3,477.6 476.7,477.6 477.0,477.6 C477.3,477.7 477.7,477.7 478.0,477.7 C478.3,477.7 478.7,477.7 479.0,477.7 C479.3,477.7 479.7,477.7 480.0,477.7 C480.3,477.7 480.7,477.7 481.0,477.7 C481.3,477.7 481.7,477.7 482.0,477.7 C482.3,477.7 482.7,477.7 483.0,477.8 C483.3,477.8 483.7,477.8 484.0,477.8 C484.3,477.8 484.7,477.8 485.0,477.8 C485.3,477.8 485.7,477.8 486.0,477.8 C486.3,477.8 486.7,477.8 487.0,477.8 C487.3,477.8 487.7,477.8 488.0,477.8 C488.3,477.8 488.7,477.8 489.0,477.9 C489.3,477.9 489.7,477.9 490.0,477.9 C490.3,477.9 490.7,477.9 491.0,477.9 C491.3,477.9 491.7,477.9 492.0,477.9 C492.3,477.9 492.7,477.9 493.0,477.9 C493.3,477.9 493.7,477.9 494.0,477.9 C494.3,477.9 494.7,477.9 495.0,478.0 C495.3,478.0 495.7,478.0 496.0,478.0 C496.3,478.0 496.7,478.0 497.0,478.0 C497.3,478.0 497.7,478.0 498.0,478.0 C498.3,478.0 498.7,478.0 499.0,478.0 C499.3,478.0 499.7,478.0 500.0,478.0 C500.3,478.0 500.7,478.0 501.0,478.0 C501.3,478.0 501.7,478.1 502.0,478.1 C502.3,478.1 502.7,478.1 503.0,478.1 C503.3,478.1 503.7,478.1 504.0,478.1 C504.3,478.1 504.7,478.1 505.0,478.1 C505.3,478.1 505.7,478.1 506.0,478.1 C506.3,478.1 506.7,478.1 507.0,478.1 C507.3,478.1 507.7,478.1 508.0,478.1 C508.3,478.1 508.7,478.2 509.0,478.2 C509.3,478.2 509.7,478.2 510.0,478.2 C510.3,478.2 510.7,478.2 511.0,478.2 C511.3,478.2 511.7,478.2 512.0,478.2 C512.3,478.2 512.7,478.2 513.0,478.2 C513.3,478.2 513.7,478.2 514.0,478.2 C514.3,478.2 514.7,478.2 515.0,478.2 C515.3,478.2 515.7,478.2 516.0,478.3 C516.3,478.3 516.7,478.3 517.0,478.3 C517.3,478.3 517.7,478.3 518.0,478.3 C518.3,478.3 518.7,478.3 519.0,478.3 C519.3,478.3 519.7,478.3 520.0,478.3 C520.3,478.3 520.7,478.3 521.0,478.3 C521.3,478.3 521.7,478.3 522.0,478.3 C522.3,478.3 522.7,478.3 523.0,478.3 C523.3,478.3 523.7,478.3 524.0,478.3 C524.3,478.4 524.7,478.4 525.0,478.4 C525.3,478.4 525.7,478.4 526.0,478.4 C526.3,478.4 526.7,478.4 527.0,478.4 C527.3,478.4 527.7,478.4 528.0,478.4 C528.3,478.4 528.7,478.4 529.0,478.4 C529.3,478.4 529.7,478.4 530.0,478.4 C530.3,478.4 530.7,478.4 531.0,478.4 C531.3,478.4 531.7,478.4 532.0,478.4 C532.3,478.4 532.7,478.4 533.0,478.5 C533.3,478.5 533.7,478.5 534.0,478.5 C534.3,478.5 534.7,478.5 535.0,478.5 C535.3,478.5 535.7,478.5 536.0,478.5 C536.3,478.5 536.7,478.5 537.0,478.5 C537.3,478.5 537.7,478.5 538.0,478.5 C538.3,478.5 538.7,478.5 539.0,478.5 C539.3,478.5 539.7,478.5 540.0,478.5 C540.3,478.5 540.7,478.5 541.0,478.5 C541.3,478.5 541.7,478.5 542.0,478.5 C542.3,478.5 542.7,478.6 543.0,478.6 C543.3,478.6 543.7,478.6 544.0,478.6 C544.3,478.6 544.7,478.6 545.0,478.6 C545.3,478.6 545.7,478.6 546.0,478.6 C546.3,478.6 546.7,478.6 547.0,478.6 C547.3,478.6 547.7,478.6 548.0,478.6 C548.3,478.6 548.7,478.6 549.0,478.6 C549.3,478.6 549.7,478.6 550.0,478.6 C550.3,478.6 550.7,478.6 551.0,478.6 C551.3,478.6 551.7,478.6 552.0,478.6 C552.3,478.6 552.7,478.6 553.0,478.6 C553.3,478.7 553.7,478.7 554.0,478.7 C554.3,478.7 554.7,478.7 555.0,478.7 C555.3,478.7 555.7,478.7 556.0,478.7 C556.3,478.7 556.7,478.7 557.0,478.7 C557.3,478.7 557.7,478.7 558.0,478.7 C558.3,478.7 558.8,478.7 559.0,478.7" stroke="#e6913a"/>
<path d="M41.0,478.2 C41.2,478.2 41.7,478.2 42.0,478.2 C42.3,478.2 42.7,478.2 43.0,478.2 C43.3,478.2 43.7,478.2 44.0,478.2 C44.3,478.2 44.7,478.2 45.0,478.2 C45.3,478.2 45.7,478.2 46.0,478.2 C46.3,478.2 46.7,478.2 47.0,478.2 C47.3,478.2 47.7,478.2 48.0,478.2 C48.3,478.2 48.7,478.2 49.0,478.2 C49.3,478.2 49.7,478.2 50.0,478.2 C50.3,478.2 50.7,478.2 51.0,478.2 C51.3,478.2 51.7,478.2 52.0,478.2 C52.3,478.2 52.7,478.2 53.0,478.2 C53.3,478.2 53.7,478.2 54.0,478.2 C54.3,478.2 54.7,478.2 55.0,478.2 C55.3,478.2 55.7,478.2 56.0,478.2 C56.3,478.2 56.7,478.2 57.0,478.2 C57.3,478.2 57.7,478.2 58.0,478.2 C58.3,478.2 58.7,478.2 59.0,478.2 C59.3,478.2 59.7,478.2 60.0,478.2 C60.3,478.2 60.7,478.2 61.0,478.2 C61.3,478.2 61.7,478.2 62.0,478.2 C62.3,478.2 62.7,478.2 63.0,478.2 C63.3,478.2 63.7,478.2 64.0,478.2 C64.3,478.2 64.7,478.2 65.0,478.2 C65.3,478.2 65.7,478.2 66.0,478.2 C66.3,478.2 66.7,478.2 67.0,478.2 C67.3,478.2 67.7,478.2 68.0,478.2 C68.3,478.2 68.7,478.2 69.0,478.2 C69.3,478.2 69.7,478.2 70.0,478.2 C70.3,478.2 70.7,478.2 71.0,478.2 C71.3,478.2 71.7,478.2 72.0,478.2 C72.3,478.2 72.7,478.2 73.0,478.2 C73.3,478.2 73.7,478.2 74.0,478.2 C74.3,478.2 74.7,478.2 75.0,478.2 C75.3,478.2 75.7,478.2 76.0,478.2 C76.3,478.2 76.7,478.2 77.0,478.2 C77.3,478.2 77.7,478.2 78.0,478.2 C78.3,478.2 78.7,478.2 79.0,478.2 C79.3,478.2 79.7,478.2 80.0,478.2 C80.3,478.2 80.7,478.2 81.0,478.2 C81.3,478.2 81.7,478.2 82.0,478.2 C82.3,478.2 82.7,478.2 83.0,478.2 C83.3,478.2 83.7,478.2 84.0,478.2 C84.3,478.2 84.7,478.2 85.0,478.2 C85.3,478.1 85.7,478.1 86.0,478.1 C86.3,478.1 86.7,478.1 87.0,478.1 C87.3,478.1 87.7,478.1 88.0,478.1 C88.3,478.1 88.7,478.1 89.0,478.1 C89.3,478.1 89.7,478.1 90.0,478.1 C90.3,478.1 90.7,478.1 91.0,478.1 C91.3,478.1 91.7,478.1 92.0,478.1 C92.3,478.1 92.7,478.1 93.0,478.1 C93.3,478.1 93.7,478.1 94.0,478.1 C94.3,478.1 94.7,478.1 95.0,478.1 C95.3,478.1 95.7,478.1 96.0,478.1 C96.3,478.1 96.7,478.1 97.0,478.1 C97.3,478.1 97.7,478.1 98.0,478.1 C98.3,478.1 98.7,478.1 99.0,478.1 C99.3,478.1 99.7,478.1 100.0,478.1 C100.3,478.1 100.7,478.1 101.0,478.1 C101.3,478.1 101.7,478.1 102.0,478.1 C102.3,478.1 102.7,478.1 103.0,478.1 C103.3,478.1 103.7,478.1 104.0,478.1 C104.3,478.1 104.7,478.1 105.0,478.1 C105.3,478.1 105.7,478.1 106.0,478.1 C106.3,478.1 106.7,478.1 107.0,478.1 C107.3,478.1 107.7,478.1 108.0,478.1 C108.3,478.1 108.7,478.1 109.0,478.1 C109.3,478.0 109.7,478.0 110.0,478.0 C110.3,478.0 110.7,478.0 111.0,478.0 C111.3,478.0 111.7,478.0 112.0,478.0 C112.3,478.0 112.7,478.0 113.0,478.0 C113.3,478.0 113.7,478.0 114.0,478.0 C114.3,478.0 114.7,478.0 115.0,478.0 C115.3,478.0 115.7,478.0 116.0,478.0 C116.3,478.0 116.7,478.0 117.0,478.0 C117.3,478.0 117.7,478.0 118.0,478.0 C118.3,478.0 118.7,478.0 119.0,478.0 C119.3,478.0 119.7,478.0 120.0,478.0 C120.3,478.0 120.7,478.0 121.0,478.0 C121.3,478.0 121.7,478.0 122.0,478.0 C122.3,478.0 122.7,478.0 123.0,478.0 C123.3,478.0 123.7,478.0 124.0,477.9 C124.3,477.9 124.7,477.9 125.0,477.9 C125.3,477.9 125.7,477.9 126.0,477.9 C126.3,477.9 126.7,477.9 127.0,477.9 C127.3,477.9 127.7,477.9 128.0,477.9 C128.3,477.9 128.7,477.9 129.0,477.9 C129.3,477.9 129.7,477.9 130.0,477.9 C130.3,477.9 130.7,477.9 131.0,477.9 C131.3,477.9 131.7,477.9 132.0,477.9 C132.3,477.9 132.7,477.9 133.0,477.9 C133.3,477.9 133.7,477.9 134.0,477.9 C134.3,477.9 134.7,477.9 135.0,477.9 C135.3,477.8 135.7,477.8 136.0,477.8 C136.3,477.8 136.7,477.8 137.0,477.8 C137.3,477.8 137.7,477.8 138.0,477.8 C138.3,477.8 138.7,477.8 139.0,477.8 C139.3,477.8 139.7,477.8 140.0,477.8 C140.3,477.8 140.7,477.8 141.0,477.7 C141.3,477.7 141.7,477.7 142.0,477.7 C142.3,477.6 142.7,477.6 143.0,477.5 C143.3,477.4 143.7,477.3 144.0,477.2 C144.3,477.0 144.7,476.8 145.0,476.6 C145.3,476.3 145.7,476.0 146.0,475.6 C146.3,475.2 146.7,474.7 147.0,474.2 C147.3,473.6 147.7,473.0 148.0,472.3 C148.3,471.5 148.7,470.7 149.0,469.8 C149.3,468.9 149.7,468.0 150.0,466.9 C150.3,465.9 150.7,464.7 151.0,463.6 C151.3,462.4 151.7,461.1 152.0,459.9 C152.3,458.6 152.7,457.3 153.0,456.0 C153.3,454.7 153.7,453.4 154.0,452.1 C154.3,450.7 154.7,449.4 155.0,448.0 C155.3,446.5 155.7,445.1 156.0,443.5 C156.3,441.9 156.7,440.2 157.0,438.5 C157.3,436.8 157.7,434.9 158.0,433.0 C158.3,431.1 158.7,429.1 159.0,427.1 C159.3,425.0 159.7,422.8 160.0,420.8 C160.3,418.7 160.7,416.6 161.0,414.8 C161.3,412.9 161.7,411.1 162.0,409.5 C162.3,407.9 162.7,406.5 163.0,405.0 C163.3,403.5 163.7,402.1 164.0,400.6 C164.3,399.1 164.7,397.5 165.0,395.9 C165.3,394.3 165.7,392.7 166.0,391.1 C166.3,389.5 166.7,387.9 167.0,386.5 C167.3,385.0 167.7,383.6 168.0,382.5 C168.3,381.3 168.7,380.2 169.0,379.3 C169.3,378.4 169.7,377.6 170.0,377.0 C170.3,376.4 170.7,375.9 171.0,375.5 C171.3,375.2 171.7,375.0 172.0,374.9 C172.3,374.8 172.7,374.9 173.0,375.1 C173.3,375.2 173.7,375.5 174.0,375.9 C174.3,376.3 174.7,376.8 175.0,377.5 C175.3,378.2 175.7,379.0 176.0,380.0 C176.3,381.0 176.7,382.2 177.0,383.5 C177.3,384.8 177.7,386.2 178.0,387.7 C178.3,389.1 178.7,390.7 179.0,392.2 C179.3,393.7 179.7,395.3 180.0,396.8 C180.3,398.4 180.7,399.9 181.0,401.5 C181.3,403.0 181.7,404.6 182.0,406.2 C182.3,407.7 182.7,409.2 183.0,410.7 C183.3,412.2 183.7,413.6 184.0,415.0 C184.3,416.4 184.7,417.7 185.0,419.0 C185.3,420.2 185.7,421.4 186.0,422.6 C186.3,423.7 186.7,424.8 187.0,425.9 C187.3,427.0 187.7,428.0 188.0,429.0 C188.3,430.0 188.7,431.0 189.0,432.0 C189.3,433.0 189.7,433.9 190.0,434.9 C190.3,435.8 190.7,436.7 191.0,437.6 C191.3,438.5 191.7,439.3 192.0,440.2 C192.3,441.0 192.7,441.8 193.0,442.6 C193.3,443.4 193.7,444.2 194.0,444.9 C194.3,445.7 194.7,446.4 195.0,447.1 C195.3,447.7 195.7,448.4 196.0,449.0 C196.3,449.5 196.7,450.1 197.0,450.6 C197.3,451.1 197.7,451.6 198.0,452.0 C198.3,452.5 198.7,452.9 199.0,453.3 C199.3,453.7 199.7,454.1 200.0,454.4 C200.3,454.8 200.7,455.2 201.0,455.5 C201.3,455.8 201.7,456.2 202.0,456.5 C202.3,456.8 202.7,457.1 203.0,457.3 C203.3,457.6 203.7,457.9 204.0,458.1 C204.3,458.4 204.7,458.6 205.0,458.8 C205.3,459.1 205.7,459.3 206.0,459.5 C206.3,459.7 206.7,459.9 207.0,460.1 C207.3,460.3 207.7,460.5 208.0,460.6 C208.3,460.8 208.7,461.0 209.0,461.2 C209.3,461.4 209.7,461.6 210.0,461.8 C210.3,462.0 210.7,462.1 211.0,462.3 C211.3,462.5 211.7,462.7 212.0,462.9 C212.3,463.0 212.7,463.2 213.0,463.4 C213.3,463.5 213.7,463.7 214.0,463.8 C214.3,464.0 214.7,464.1 215.0,464.2 C215.3,464.3 215.7,464.5 216.0,464.6 C216.3,464.7 216.7,464.8 217.0,464.9 C217.3,465.0 217.7,465.1 218.0,465.2 C218.3,465.3 218.7,465.4 219.0,465.5 C219.3,465.5 219.7,465.6 220.0,465.7 C220.3,465.8 220.7,465.9 221.0,466.0 C221.3,466.0 221.7,466.1 222.0,466.2 C222.3,466.3 222.7,466.3 223.0,466.4 C223.3,466.5 223.7,466.6 224.0,466.6 C224.3,466.7 224.7,466.7 225.0,466.8 C225.3,466.9 225.7,466.9 226.0,467.0 C226.3,467.0 226.7,467.1 227.0,467.1 C227.3,467.2 227.7,467.2 228.0,467.2 C228.3,467.3 228.7,467.3 229.0,467.4 C229.3,467.4 229.7,467.4 230.0,467.5 C230.3,467.5 230.7,467.6 231.0,467.6 C231.3,467.6 231.7,467.7 232.0,467.7 C232.3,467.7 232.7,467.8 233.0,467.8 C233.3,467.8 233.7,467.9 234.0,467.9 C234.3,467.9 234.7,468.0 235.0,468.0 C235.3,468.0 235.7,468.0 236.0,468.1 C236.3,468.1 236.7,468.1 237.0,468.1 C237.3,468.2 237.7,468.2 238.0,468.2 C238.3,468.2 238.7,468.2 239.0,468.2 C239.3,468.2 239.7,468.3 240.0,468.3 C240.3,468.3 240.7,468.3 241.0,468.3 C241.3,468.3 241.7,468.3 242.0,468.3 C242.3,468.3 242.7,468.3 243.0,468.3 C243.3,468.3 243.7,468.3 244.0,468.3 C244.3,468.3 244.7,468.3 245.0,468.3 C245.3,468.3 245.7,468.3 246.0,468.3 C246.3,468.3 246.7,468.3 247.0,468.3 C247.3,468.3 247.7,468.3 248.0,468.3 C248.3,468.3 248.7,468.3 249.0,468.3 C249.3,468.3 249.7,468.3 250.0,468.3 C250.3,468.3 250.7,468.3 251.0,468.3 C251.3,468.3 251.7,468.3 252.0,468.3 C252.3,468.3 252.7,468.3 253.0,468.3 C253.3,468.3 253.7,468.3 254.0,468.3 C254.3,468.2 254.7,468.2 255.0,468.2 C255.3,468.2 255.7,468.1 256.0,468.1 C256.3,468.1 256.7,468.0 257.0,468.0 C257.3,467.9 257.7,467.9 258.0,467.8 C258.3,467.8 258.7,467.7 259.0,467.7 C259.3,467.6 259.7,467.6 260.0,467.5 C260.3,467.4 260.7,467.4 261.0,467.3 C261.3,467.3 261.7,467.2 262.0,467.1 C262.3,467.1 262.7,467.0 263.0,466.9 C263.3,466.9 263.7,466.8 264.0,466.8 C264.3,466.7 264.7,466.7 265.0,466.6 C265.3,466.5 265.7,466.5 266.0,466.4 C266.3,466.4 266.7,466.3 267.0,466.3 C267.3,466.2 267.7,466.2 268.0,466.1 C268.3,466.1 268.7,466.1 269.0,466.0 C269.3,466.0 269.7,465.9 270.0,465.9 C270.3,465.8 270.7,465.8 271.0,465.7 C271.3,465.7 271.7,465.6 272.0,465.6 C272.3,465.5 272.7,465.5 273.0,465.4 C273.3,465.4 273.7,465.3 274.0,465.3 C274.3,465.3 274.7,465.2 275.0,465.2 C275.3,465.1 275.7,465.1 276.0,465.0 C276.3,465.0 276.7,464.9 277.0,464.9 C277.3,464.8 277.7,464.8 278.0,464.7 C278.3,464.7 278.7,464.6 279.0,464.6 C279.3,464.5 279.7,464.5 280.0,464.4 C280.3,464.3 280.7,464.3 281.0,464.2 C281.3,464.2 281.7,464.1 282.0,464.1 C282.3,464.0 282.7,464.0 283.0,463.9 C283.3,463.9 283.7,463.8 284.0,463.7 C284.3,463.7 284.7,463.6 285.0,463.6 C285.3,463.5 285.7,463.5 286.0,463.4 C286.3,463.3 286.7,463.3 287.0,463.2 C287.3,463.2 287.7,463.1 288.0,463.0 C288.3,463.0 288.7,462.9 289.0,462.9 C289.3,462.8 289.7,462.7 290.0,462.7 C290.3,462.6 290.7,462.6 291.0,462.5 C291.3,462.5 291.7,462.4 292.0,462.3 C292.3,462.3 292.7,462.2 293.0,462.2 C293.3,462.1 293.7,462.0 294.0,462.0 C294.3,461.9 294.7,461.9 295.0,461.8 C295.3,461.7 295.7,461.7 296.0,461.6 C296.3,461.6 296.7,461.5 297.0,461.4 C297.3,461.4 297.7,461.3 298.0,461.2 C298.3,461.2 298.7,461.1 299.0,461.0 C299.3,460.9 299.7,460.9 300.0,460.8 C300.3,460.7 300.7,460.6 301.0,460.6 C301.3,460.5 301.7,460.4 302.0,460.3 C302.3,460.2 302.7,460.1 303.0,460.0 C303.3,459.9 303.7,459.8 304.0,459.7 C304.3,459.6 304.7,459.5 305.0,459.3 C305.3,459.2 305.7,459.1 306.0,458.9 C306.3,458.8 306.7,458.6 307.0,458.4 C307.3,458.3 307.7,458.1 308.0,457.9 C308.3,457.7 308.7,457.5 309.0,457.3 C309.3,457.1 309.7,456.8 310.0,456.6 C310.3,456.3 310.7,456.1 311.0,455.8 C311.3,455.5 311.7,455.2 312.0,454.9 C312.3,454.6 312.7,454.2 313.0,453.8 C313.3,453.4 313.7,453.0 314.0,452.6 C314.3,452.1 314.7,451.6 315.0,451.0 C315.3,450.4 315.7,449.8 316.0,449.1 C316.3,448.4 316.7,447.6 317.0,446.7 C317.3,445.9 317.7,445.0 318.0,444.0 C318.3,443.1 318.7,442.1 319.0,441.1 C319.3,440.1 319.7,439.0 320.0,437.9 C320.3,436.8 320.7,435.7 321.0,434.6 C321.3,433.4 321.7,432.3 322.0,431.1 C322.3,430.0 322.7,428.8 323.0,427.7 C323.3,426.5 323.7,425.4 324.0,424.2 C324.3,422.9 324.7,421.7 325.0,420.4 C325.3,419.0 325.7,417.6 326.0,416.1 C326.3,414.5 326.7,412.9 327.0,411.3 C327.3,409.6 327.7,407.8 328.0,405.9 C328.3,404.1 328.7,402.1 329.0,400.2 C329.3,398.2 329.7,396.2 330.0,394.2 C330.3,392.3 330.7,390.4 331.0,388.5 C331.3,386.7 331.7,385.0 332.0,383.3 C332.3,381.6 332.7,380.0 333.0,378.3 C333.3,376.6 333.7,374.9 334.0,373.2 C334.3,371.5 334.7,369.7 335.0,368.1 C335.3,366.4 335.7,364.7 336.0,363.0 C336.3,361.3 336.7,359.7 337.0,358.1 C337.3,356.5 337.7,354.9 338.0,353.5 C338.3,352.1 338.7,350.7 339.0,349.5 C339.3,348.3 339.7,347.3 340.0,346.4 C340.3,345.5 340.7,344.7 341.0,344.0 C341.3,343.3 341.7,342.8 342.0,342.4 C342.3,341.9 342.7,341.5 343.0,341.3 C343.3,341.0 343.7,340.8 344.0,340.7 C344.3,340.6 344.7,340.7 345.0,340.8 C345.3,340.9 345.7,341.1 346.0,341.4 C346.3,341.8 346.7,342.2 347.0,342.8 C347.3,343.3 347.7,344.0 348.0,344.8 C348.3,345.5 348.7,346.5 349.0,347.4 C349.3,348.4 349.7,349.6 350.0,350.7 C350.3,351.8 350.7,353.1 351.0,354.3 C351.3,355.6 351.7,356.9 352.0,358.2 C352.3,359.5 352.7,360.8 353.0,362.2 C353.3,363.6 353.7,365.0 354.0,366.5 C354.3,367.9 354.7,369.4 355.0,370.9 C355.3,372.4 355.7,374.0 356.0,375.5 C356.3,377.0 356.7,378.5 357.0,380.0 C357.3,381.4 357.7,382.9 358.0,384.2 C358.3,385.6 358.7,386.9 359.0,388.1 C359.3,389.4 359.7,390.6 360.0,391.8 C360.3,392.9 360.7,394.1 361.0,395.2 C361.3,396.4 361.7,397.5 362.0,398.6 C362.3,399.8 362.7,400.9 363.0,402.0 C363.3,403.2 363.7,404.3 364.0,405.4 C364.3,406.5 364.7,407.6 365.0,408.6 C365.3,409.7 365.7,410.7 366.0,411.7 C366.3,412.7 366.7,413.6 367.0,414.6 C367.3,415.5 367.7,416.4 368.0,417.3 C368.3,418.2 368.7,419.1 369.0,420.0 C369.3,420.8 369.7,421.7 370.0,422.4 C370.3,423.2 370.7,423.9 371.0,424.6 C371.3,425.3 371.7,425.9 372.0,426.4 C372.3,427.0 372.7,427.5 373.0,428.0 C373.3,428.4 373.7,428.9 374.0,429.3 C374.3,429.7 374.7,430.1 375.0,430.4 C375.3,430.8 375.7,431.1 376.0,431.4 C376.3,431.7 376.7,432.0 377.0,432.3 C377.3,432.5 377.7,432.8 378.0,433.0 C378.3,433.2 378.7,433.5 379.0,433.7 C379.3,433.9 379.7,434.1 380.0,434.3 C380.3,434.5 380.7,434.7 381.0,434.9 C381.3,435.1 381.7,435.3 382.0,435.5 C382.3,435.6 382.7,435.8 383.0,436.0 C383.3,436.2 383.7,436.3 384.0,436.5 C384.3,436.7 384.7,436.8 385.0,437.0 C385.3,437.1 385.7,437.3 386.0,437.5 C386.3,437.6 386.7,437.8 387.0,437.9 C387.3,438.1 387.7,438.3 388.0,438.4 C388.3,438.6 388.7,438.8 389.0,439.0 C389.3,439.2 389.7,439.4 390.0,439.6 C390.3,439.9 390.7,440.1 391.0,440.3 C391.3,440.5 391.7,440.8 392.0,441.0 C392.3,441.3 392.7,441.5 393.0,441.8 C393.3,442.0 393.7,442.2 394.0,442.5 C394.3,442.7 394.7,443.0 395.0,443.2 C395.3,443.4 395.7,443.7 396.0,443.9 C396.3,444.1 396.7,444.4 397.0,444.6 C397.3,444.9 397.7,445.1 398.0,445.3 C398.3,445.6 398.7,445.8 399.0,446.1 C399.3,446.4 399.7,446.6 400.0,446.9 C400.3,447.2 400.7,447.4 401.0,447.7 C401.3,448.0 401.7,448.3 402.0,448.7 C402.3,449.0 402.7,449.3 403.0,449.6 C403.3,450.0 403.7,450.3 404.0,450.6 C404.3,451.0 404.7,451.3 405.0,451.7 C405.3,452.0 405.7,452.4 406.0,452.7 C406.3,453.1 406.7,453.4 407.0,453.7 C407.3,454.1 407.7,454.4 408.0,454.8 C408.3,455.1 408.7,455.5 409.0,455.8 C409.3,456.1 409.7,456.5 410.0,456.8 C410.3,457.1 410.7,457.5 411.0,457.8 C411.3,458.1 411.7,458.4 412.0,458.7 C412.3,459.1 412.7,459.4 413.0,459.7 C413.3,460.0 413.7,460.3 414.0,460.6 C414.3,460.9 414.7,461.2 415.0,461.4 C415.3,461.7 415.7,462.0 416.0,462.3 C416.3,462.6 416.7,462.8 417.0,463.1 C417.3,463.3 417.7,463.6 418.0,463.8 C418.3,464.1 418.7,464.3 419.0,464.5 C419.3,464.8 419.7,465.0 420.0,465.2 C420.3,465.4 420.7,465.7 421.0,465.9 C421.3,466.1 421.7,466.3 422.0,466.4 C422.3,466.6 422.7,466.8 423.0,467.0 C423.3,467.1 423.7,467.3 424.0,467.4 C424.3,467.6 424.7,467.7 425.0,467.9 C425.3,468.0 425.7,468.1 426.0,468.3 C426.3,468.4 426.7,468.5 427.0,468.6 C427.3,468.8 427.7,468.9 428.0,469.0 C428.3,469.1 428.7,469.2 429.0,469.3 C429.3,469.4 429.7,469.5 430.0,469.6 C430.3,469.7 430.7,469.8 431.0,469.9 C431.3,470.0 431.7,470.1 432.0,470.2 C432.3,470.3 432.7,470.4 433.0,470.5 C433.3,470.5 433.7,470.6 434.0,470.7 C434.3,470.8 434.7,470.9 435.0,470.9 C435.3,471.0 435.7,471.1 436.0,471.1 C436.3,471.2 436.7,471.3 437.0,471.3 C437.3,471.4 437.7,471.5 438.0,471.5 C438.3,471.6 438.7,471.7 439.0,471.7 C439.3,471.8 439.7,471.8 440.0,471.9 C440.3,471.9 440.7,472.0 441.0,472.0 C441.3,472.1 441.7,472.1 442.0,472.2 C442.3,472.2 442.7,472.3 443.0,472.3 C443.3,472.4 443.7,472.4 444.0,472.4 C444.3,472.5 444.7,472.5 445.0,472.6 C445.3,472.6 445.7,472.7 446.0,472.7 C446.3,472.7 446.7,472.8 447.0,472.8 C447.3,472.8 447.7,472.9 448.0,472.9 C448.3,473.0 448.7,473.0 449.0,473.0 C449.3,473.1 449.7,473.1 450.0,473.1 C450.3,473.2 450.7,473.2 451.0,473.2 C451.3,473.3 451.7,473.3 452.0,473.3 C452.3,473.3 452.7,473.4 453.0,473.4 C453.3,473.4 453.7,473.5 454.0,473.5 C454.3,473.5 454.7,473.6 455.0,473.6 C455.3,473.6 455.7,473.6 456.0,473.7 C456.3,473.7 456.7,473.7 457.0,473.7 C457.3,473.8 457.7,473.8 458.0,473.8 C458.3,473.8 458.7,473.9 459.0,473.9 C459.3,473.9 459.7,473.9 460.0,473.9 C460.3,474.0 460.7,474.0 461.0,474.0 C461.3,474.0 461.7,474.1 462.0,474.1 C462.3,474.1 462.7,474.1 463.0,474.1 C463.3,474.2 463.7,474.2 464.0,474.2 C464.3,474.2 464.7,474.2 465.0,474.3 C465.3,474.3 465.7,474.3 466.0,474.3 C466.3,474.3 466.7,474.3 467.0,474.4 C467.3,474.4 467.7,474.4 468.0,474.4 C468.3,474.4 468.7,474.4 469.0,474.5 C469.3,474.5 469.7,474.5 470.0,474.5 C470.3,474.5 470.7,474.5 471.0,474.6 C471.3,474.6 471.7,474.6 472.0,474.6 C472.3,474.6 472.7,474.6 473.0,474.6 C473.3,474.7 473.7,474.7 474.0,474.7 C474.3,474.7 474.7,474.7 475.0,474.7 C475.3,474.7 475.7,474.8 476.0,474.8 C476.3,474.8 476.7,474.8 477.0,474.8 C477.3,474.8 477.7,474.8 478.0,474.8 C478.3,474.8 478.7,474.9 479.0,474.9 C479.3,474.9 479.7,474.9 480.0,474.9 C480.3,474.9 480.7,474.9 481.0,474.9 C481.3,474.9 481.7,474.9 482.0,475.0 C482.3,475.0 482.7,475.0 483.0,475.0 C483.3,475.0 483.7,475.0 484.0,475.0 C484.3,475.0 484.7,475.0 485.0,475.0 C485.3,475.0 485.7,475.0 486.0,475.0 C486.3,475.1 486.7,475.1 487.0,475.1 C487.3,475.1 487.7,475.1 488.0,475.1 C488.3,475.1 488.7,475.1 489.0,475.1 C489.3,475.1 489.7,475.1 490.0,475.1 C490.3,475.1 490.7,475.1 491.0,475.2 C491.3,475.2 491.7,475.2 492.0,475.2 C492.3,475.2 492.7,475.2 493.0,475.2 C493.3,475.2 493.7,475.2 494.0,475.2 C494.3,475.2 494.7,475.2 495.0,475.2 C495.3,475.2 495.7,475.2 496.0,475.2 C496.3,475.3 496.7,475.3 497.0,475.3 C497.3,475.3 497.7,475.3 498.0,475.3 C498.3,475.3 498.7,475.3 499.0,475.3 C499.3,475.3 499.7,475.3 500.0,475.3 C500.3,475.3 500.7,475.3 501.0,475.3 C501.3,475.3 501.7,475.3 502.0,475.3 C502.3,475.4 502.7,475.4 503.0,475.4 C503.3,475.4 503.7,475.4 504.0,475.4 C504.3,475.4 504.7,475.4 505.0,475.4 C505.3,475.4 505.7,475.4 506.0,475.4 C506.3,475.4 506.7,475.4 507.0,475.4 C507.3,475.4 507.7,475.4 508.0,475.4 C508.3,475.4 508.7,475.4 509.0,475.5 C509.3,475.5 509.7,475.5 510.0,475.5 C510.3,475.5 510.7,475.5 511.0,475.5 C511.3,475.5 511.7,475.5 512.0,475.5 C512.3,475.5 512.7,475.5 513.0,475.5 C513.3,475.5 513.7,475.5 514.0,475.5 C514.3,475.5 514.7,475.5 515.0,475.5 C515.3,475.5 515.7,475.5 516.0,475.5 C516.3,475.6 516.7,475.6 517.0,475.6 C517.3,475.6 517.7,475.6 518.0,475.6 C518.3,475.6 518.7,475.6 519.0,475.6 C519.3,475.6 519.7,475.6 520.0,475.6 C520.3,475.6 520.7,475.6 521.0,475.6 C521.3,475.6 521.7,475.6 522.0,475.6 C522.3,475.6 522.7,475.6 523.0,475.6 C523.3,475.6 523.7,475.6 524.0,475.7 C524.3,475.7 524.7,475.7 525.0,475.7 C525.3,475.7 525.7,475.7 526.0,475.7 C526.3,475.7 526.7,475.7 527.0,475.7 C527.3,475.7 527.7,475.7 528.0,475.7 C528.3,475.7 528.7,475.7 529.0,475.7 C529.3,475.7 529.7,475.7 530.0,475.7 C530.3,475.7 530.7,475.7 531.0,475.7 C531.3,475.7 531.7,475.7 532.0,475.7 C532.3,475.8 532.7,475.8 533.0,475.8 C533.3,475.8 533.7,475.8 534.0,475.8 C534.3,475.8 534.7,475.8 535.0,475.8 C535.3,475.8 535.7,475.8 536.0,475.8 C536.3,475.8 536.7,475.8 537.0,475.8 C537.3,475.8 537.7,475.8 538.0,475.8 C538.3,475.8 538.7,475.8 539.0,475.8 C539.3,475.8 539.7,475.8 540.0,475.8 C540.3,475.8 540.7,475.8 541.0,475.8 C541.3,475.8 541.7,475.9 542.0,475.9 C542.3,475.9 542.7,475.9 543.0,475.9 C543.3,475.9 543.7,475.9 544.0,475.9 C544.3,475.9 544.7,475.9 545.0,475.9 C545.3,475.9 545.7,475.9 546.0,475.9 C546.3,475.9 546.7,475.9 547.0,475.9 C547.3,475.9 547.7,475.9 548.0,475.9 C548.3,475.9 548.7,475.9 549.0,475.9 C549.3,475.9 549.7,475.9 550.0,475.9 C550.3,475.9 550.7,475.9 551.0,475.9 C551.3,475.9 551.7,475.9 552.0,475.9 C552.3,476.0 552.7,476.0 553.0,476.0 C553.3,476.0 553.7,476.0 554.0,476.0 C554.3,476.0 554.7,476.0 555.0,476.0 C555.3,476.0 555.7,476.0 556.0,476.0 C556.3,476.0 556.7,476.0 557.0,476.0 C557.3,476.0 557.7,476.0 558.0,476.0 C558.3,476.0 558.8,476.0 559.0,476.0" stroke="#3f7258"/>
<path d="M41.0,479.4 C41.2,479.4 41.7,479.4 42.0,479.4 C42.3,479.4 42.7,479.4 43.0,479.4 C43.3,479.4 43.7,479.4 44.0,479.4 C44.3,479.4 44.7,479.4 45.0,479.4 C45.3,479.4 45.7,479.4 46.0,479.4 C46.3,479.4 46.7,479.4 47.0,479.4 C47.3,479.4 47.7,479.4 48.0,479.4 C48.3,479.4 48.7,479.4 49.0,479.4 C49.3,479.4 49.7,479.4 50.0,479.4 C50.3,479.4 50.7,479.4 51.0,479.4 C51.3,479.4 51.7,479.4 52.0,479.4 C52.3,479.4 52.7,479.4 53.0,479.4 C53.3,479.4 53.7,479.4 54.0,479.4 C54.3,479.4 54.7,479.4 55.0,479.4 C55.3,479.4 55.7,479.4 56.0,479.4 C56.3,479.4 56.7,479.4 57.0,479.4 C57.3,479.4 57.7,479.4 58.0,479.4 C58.3,479.4 58.7,479.4 59.0,479.4 C59.3,479.4 59.7,479.4 60.0,479.4 C60.3,479.4 60.7,479.4 61.0,479.4 C61.3,479.4 61.7,479.4 62.0,479.4 C62.3,479.4 62.7,479.4 63.0,479.4 C63.3,479.4 63.7,479.4 64.0,479.4 C64.3,479.4 64.7,479.4 65.0,479.4 C65.3,479.4 65.7,479.4 66.0,479.4 C66.3,479.4 66.7,479.4 67.0,479.4 C67.3,479.4 67.7,479.4 68.0,479.4 C68.3,479.4 68.7,479.4 69.0,479.4 C69.3,479.4 69.7,479.4 70.0,479.4 C70.3,479.4 70.7,479.4 71.0,479.4 C71.3,479.4 71.7,479.4 72.0,479.4 C72.3,479.4 72.7,479.4 73.0,479.4 C73.3,479.4 73.7,479.4 74.0,479.4 C74.3,479.4 74.7,479.4 75.0,479.4 C75.3,479.4 75.7,479.4 76.0,479.4 C76.3,479.4 76.7,479.4 77.0,479.4 C77.3,479.4 77.7,479.4 78.0,479.4 C78.3,479.4 78.7,479.4 79.0,479.4 C79.3,479.4 79.7,479.3 80.0,479.3 C80.3,479.3 80.7,479.3 81.0,479.3 C81.3,479.3 81.7,479.3 82.0,479.3 C82.3,479.3 82.7,479.3 83.0,479.3 C83.3,479.3 83.7,479.3 84.0,479.3 C84.3,479.3 84.7,479.3 85.0,479.3 C85.3,479.3 85.7,479.3 86.0,479.3 C86.3,479.3 86.7,479.3 87.0,479.3 C87.3,479.3 87.7,479.3 88.0,479.3 C88.3,479.3 88.7,479.3 89.0,479.3 C89.3,479.3 89.7,479.3 90.0,479.3 C90.3,479.3 90.7,479.3 91.0,479.3 C91.3,479.3 91.7,479.3 92.0,479.3 C92.3,479.3 92.7,479.3 93.0,479.3 C93.3,479.3 93.7,479.3 94.0,479.3 C94.3,479.3 94.7,479.3 95.0,479.3 C95.3,479.3 95.7,479.3 96.0,479.3 C96.3,479.3 96.7,479.3 97.0,479.3 C97.3,479.3 97.7,479.3 98.0,479.3 C98.3,479.3 98.7,479.3 99.0,479.3 C99.3,479.3 99.7,479.3 100.0,479.3 C100.3,479.3 100.7,479.3 101.0,479.3 C101.3,479.3 101.7,479.3 102.0,479.3 C102.3,479.3 102.7,479.3 103.0,479.3 C103.3,479.3 103.7,479.3 104.0,479.3 C104.3,479.3 104.7,479.3 105.0,479.2 C105.3,479.2 105.7,479.2 106.0,479.2 C106.3,479.2 106.7,479.2 107.0,479.2 C107.3,479.2 107.7,479.2 108.0,479.2 C108.3,479.2 108.7,479.2 109.0,479.2 C109.3,479.2 109.7,479.2 110.0,479.2 C110.3,479.2 110.7,479.2 111.0,479.2 C111.3,479.2 111.7,479.2 112.0,479.2 C112.3,479.2 112.7,479.2 113.0,479.2 C113.3,479.2 113.7,479.2 114.0,479.2 C114.3,479.2 114.7,479.2 115.0,479.2 C115.3,479.2 115.7,479.2 116.0,479.2 C116.3,479.2 116.7,479.2 117.0,479.2 C117.3,479.2 117.7,479.2 118.0,479.2 C118.3,479.2 118.7,479.2 119.0,479.2 C119.3,479.2 119.7,479.2 120.0,479.2 C120.3,479.2 120.7,479.2 121.0,479.2 C121.3,479.2 121.7,479.1 122.0,479.1 C122.3,479.1 122.7,479.1 123.0,479.1 C123.3,479.1 123.7,479.1 124.0,479.1 C124.3,479.1 124.7,479.1 125.0,479.1 C125.3,479.1 125.7,479.1 126.0,479.1 C126.3,479.1 126.7,479.1 127.0,479.1 C127.3,479.1 127.7,479.1 128.0,479.1 C128.3,479.1 128.7,479.1 129.0,479.1 C129.3,479.1 129.7,479.1 130.0,479.1 C130.3,479.1 130.7,479.1 131.0,479.1 C131.3,479.1 131.7,479.1 132.0,479.1 C132.3,479.1 132.7,479.1 133.0,479.1 C133.3,479.1 133.7,479.1 134.0,479.1 C134.3,479.1 134.7,479.0 135.0,479.0 C135.3,479.0 135.7,479.0 136.0,479.0 C136.3,479.0 136.7,479.0 137.0,479.0 C137.3,479.0 137.7,479.0 138.0,479.0 C138.3,479.0 138.7,479.0 139.0,479.0 C139.3,479.0 139.7,479.0 140.0,479.0 C140.3,479.0 140.7,479.0 141.0,479.0 C141.3,479.0 141.7,479.0 142.0,479.0 C142.3,479.0 142.7,478.9 143.0,478.9 C143.3,478.9 143.7,478.9 144.0,478.9 C144.3,478.9 144.7,478.9 145.0,478.9 C145.3,478.9 145.7,478.8 146.0,478.8 C146.3,478.8 146.7,478.8 147.0,478.8 C147.3,478.8 147.7,478.8 148.0,478.7 C148.3,478.7 148.7,478.7 149.0,478.7 C149.3,478.7 149.7,478.6 150.0,478.6 C150.3,478.6 150.7,478.6 151.0,478.6 C151.3,478.5 151.7,478.5 152.0,478.5 C152.3,478.5 152.7,478.5 153.0,478.4 C153.3,478.4 153.7,478.4 154.0,478.4 C154.3,478.4 154.7,478.3 155.0,478.3 C155.3,478.3 155.7,478.3 156.0,478.3 C156.3,478.2 156.7,478.2 157.0,478.2 C157.3,478.2 157.7,478.1 158.0,478.1 C158.3,478.1 158.7,478.1 159.0,478.1 C159.3,478.0 159.7,478.0 160.0,478.0 C160.3,478.0 160.7,478.0 161.0,477.9 C161.3,477.9 161.7,477.9 162.0,477.9 C162.3,477.8 162.7,477.8 163.0,477.8 C163.3,477.8 163.7,477.7 164.0,477.7 C164.3,477.7 164.7,477.7 165.0,477.6 C165.3,477.6 165.7,477.6 166.0,477.6 C166.3,477.5 166.7,477.5 167.0,477.5 C167.3,477.5 167.7,477.4 168.0,477.4 C168.3,477.4 168.7,477.4 169.0,477.3 C169.3,477.3 169.7,477.3 170.0,477.2 C170.3,477.2 170.7,477.2 171.0,477.2 C171.3,477.1 171.7,477.1 172.0,477.1 C172.3,477.0 172.7,477.0 173.0,477.0 C173.3,477.0 173.7,476.9 174.0,476.9 C174.3,476.9 174.7,476.9 175.0,476.8 C175.3,476.8 175.7,476.8 176.0,476.8 C176.3,476.7 176.7,476.7 177.0,476.7 C177.3,476.7 177.7,476.6 178.0,476.6 C178.3,476.6 178.7,476.6 179.0,476.6 C179.3,476.5 179.7,476.5 180.0,476.5 C180.3,476.5 180.7,476.5 181.0,476.4 C181.3,476.4 181.7,476.4 182.0,476.4 C182.3,476.4 182.7,476.3 183.0,476.3 C183.3,476.3 183.7,476.3 184.0,476.3 C184.3,476.2 184.7,476.2 185.0,476.2 C185.3,476.2 185.7,476.2 186.0,476.1 C186.3,476.1 186.7,476.1 187.0,476.1 C187.3,476.1 187.7,476.0 188.0,476.0 C188.3,476.0 188.7,476.0 189.0,476.0 C189.3,475.9 189.7,475.9 190.0,475.9 C190.3,475.9 190.7,475.9 191.0,475.9 C191.3,475.8 191.7,475.8 192.0,475.8 C192.3,475.8 192.7,475.8 193.0,475.8 C193.3,475.8 193.7,475.7 194.0,475.7 C194.3,475.7 194.7,475.7 195.0,475.7 C195.3,475.7 195.7,475.7 196.0,475.7 C196.3,475.7 196.7,475.6 197.0,475.6 C197.3,475.6 197.7,475.6 198.0,475.6 C198.3,475.6 198.7,475.6 199.0,475.6 C199.3,475.6 199.7,475.6 200.0,475.6 C200.3,475.6 200.7,475.6 201.0,475.6 C201.3,475.6 201.7,475.6 202.0,475.6 C202.3,475.6 202.7,475.6 203.0,475.6 C203.3,475.6 203.7,475.7 204.0,475.7 C204.3,475.7 204.7,475.7 205.0,475.7 C205.3,475.7 205.7,475.7 206.0,475.7 C206.3,475.7 206.7,475.7 207.0,475.7 C207.3,475.7 207.7,475.7 208.0,475.8 C208.3,475.8 208.7,475.8 209.0,475.8 C209.3,475.8 209.7,475.8 210.0,475.8 C210.3,475.8 210.7,475.8 211.0,475.8 C211.3,475.8 211.7,475.8 212.0,475.8 C212.3,475.8 212.7,475.7 213.0,475.7 C213.3,475.7 213.7,475.7 214.0,475.7 C214.3,475.6 214.7,475.6 215.0,475.6 C215.3,475.5 215.7,475.5 216.0,475.5 C216.3,475.4 216.7,475.4 217.0,475.3 C217.3,475.3 217.7,475.3 218.0,475.2 C218.3,475.2 218.7,475.1 219.0,475.1 C219.3,475.0 219.7,475.0 220.0,474.9 C220.3,474.8 220.7,474.8 221.0,474.7 C221.3,474.6 221.7,474.6 222.0,474.5 C222.3,474.4 222.7,474.3 223.0,474.2 C223.3,474.1 223.7,474.1 224.0,474.0 C224.3,473.9 224.7,473.8 225.0,473.7 C225.3,473.6 225.7,473.5 226.0,473.4 C226.3,473.3 226.7,473.2 227.0,473.0 C227.3,472.9 227.7,472.8 228.0,472.7 C228.3,472.6 228.7,472.5 229.0,472.4 C229.3,472.3 229.7,472.2 230.0,472.1 C230.3,471.9 230.7,471.8 231.0,471.7 C231.3,471.6 231.7,471.4 232.0,471.3 C232.3,471.2 232.7,471.1 233.0,470.9 C233.3,470.8 233.7,470.6 234.0,470.5 C234.3,470.4 234.7,470.2 235.0,470.1 C235.3,469.9 235.7,469.8 236.0,469.6 C236.3,469.5 236.7,469.3 237.0,469.2 C237.3,469.0 237.7,468.9 238.0,468.7 C238.3,468.5 238.7,468.4 239.0,468.2 C239.3,468.0 239.7,467.8 240.0,467.7 C240.3,467.5 240.7,467.3 241.0,467.1 C241.3,466.9 241.7,466.7 242.0,466.5 C242.3,466.4 242.7,466.2 243.0,466.0 C243.3,465.8 243.7,465.6 244.0,465.3 C244.3,465.1 244.7,464.9 245.0,464.7 C245.3,464.5 245.7,464.3 246.0,464.1 C246.3,463.8 246.7,463.6 247.0,463.4 C247.3,463.2 247.7,462.9 248.0,462.7 C248.3,462.4 248.7,462.2 249.0,461.9 C249.3,461.7 249.7,461.4 250.0,461.2 C250.3,460.9 250.7,460.6 251.0,460.3 C251.3,460.1 251.7,459.8 252.0,459.5 C252.3,459.2 252.7,458.9 253.0,458.7 C253.3,458.4 253.7,458.1 254.0,457.8 C254.3,457.5 254.7,457.3 255.0,457.0 C255.3,456.7 255.7,456.4 256.0,456.2 C256.3,455.9 256.7,455.6 257.0,455.4 C257.3,455.1 257.7,454.9 258.0,454.6 C258.3,454.3 258.7,454.1 259.0,453.8 C259.3,453.6 259.7,453.3 260.0,453.1 C260.3,452.8 260.7,452.6 261.0,452.3 C261.3,452.0 261.7,451.8 262.0,451.5 C262.3,451.3 262.7,451.0 263.0,450.8 C263.3,450.5 263.7,450.3 264.0,450.0 C264.3,449.8 264.7,449.5 265.0,449.3 C265.3,449.0 265.7,448.8 266.0,448.6 C266.3,448.3 266.7,448.1 267.0,447.8 C267.3,447.6 267.7,447.3 268.0,447.1 C268.3,446.8 268.7,446.6 269.0,446.3 C269.3,446.1 269.7,445.8 270.0,445.6 C270.3,445.3 270.7,445.1 271.0,444.8 C271.3,444.6 271.7,444.3 272.0,444.1 C272.3,443.8 272.7,443.6 273.0,443.3 C273.3,443.1 273.7,442.8 274.0,442.6 C274.3,442.3 274.7,442.1 275.0,441.8 C275.3,441.6 275.7,441.3 276.0,441.1 C276.3,440.8 276.7,440.6 277.0,440.3 C277.3,440.1 277.7,439.8 278.0,439.6 C278.3,439.3 278.7,439.1 279.0,438.8 C279.3,438.6 279.7,438.3 280.0,438.1 C280.3,437.8 280.7,437.6 281.0,437.3 C281.3,437.0 281.7,436.8 282.0,436.5 C282.3,436.2 282.7,436.0 283.0,435.7 C283.3,435.4 283.7,435.2 284.0,434.9 C284.3,434.6 284.7,434.4 285.0,434.1 C285.3,433.8 285.7,433.6 286.0,433.3 C286.3,433.0 286.7,432.8 287.0,432.5 C287.3,432.2 287.7,432.0 288.0,431.7 C288.3,431.4 288.7,431.1 289.0,430.8 C289.3,430.5 289.7,430.2 290.0,429.9 C290.3,429.6 290.7,429.3 291.0,429.0 C291.3,428.7 291.7,428.3 292.0,428.0 C292.3,427.7 292.7,427.3 293.0,427.0 C293.3,426.6 293.7,426.2 294.0,425.9 C294.3,425.5 294.7,425.2 295.0,424.8 C295.3,424.4 295.7,424.0 296.0,423.6 C296.3,423.2 296.7,422.8 297.0,422.4 C297.3,422.0 297.7,421.6 298.0,421.1 C298.3,420.7 298.7,420.2 299.0,419.7 C299.3,419.2 299.7,418.7 300.0,418.2 C300.3,417.7 300.7,417.2 301.0,416.6 C301.3,416.1 301.7,415.6 302.0,415.0 C302.3,414.5 302.7,413.9 303.0,413.3 C303.3,412.8 303.7,412.2 304.0,411.6 C304.3,411.1 304.7,410.5 305.0,409.9 C305.3,409.4 305.7,408.8 306.0,408.2 C306.3,407.7 306.7,407.1 307.0,406.5 C307.3,405.9 307.7,405.3 308.0,404.7 C308.3,404.1 308.7,403.4 309.0,402.8 C309.3,402.1 309.7,401.4 310.0,400.7 C310.3,400.0 310.7,399.2 311.0,398.5 C311.3,397.7 311.7,396.9 312.0,396.1 C312.3,395.2 312.7,394.4 313.0,393.5 C313.3,392.6 313.7,391.7 314.0,390.8 C314.3,389.8 314.7,388.8 315.0,387.8 C315.3,386.8 315.7,385.7 316.0,384.6 C316.3,383.4 316.7,382.2 317.0,381.0 C317.3,379.8 317.7,378.6 318.0,377.3 C318.3,376.1 318.7,374.9 319.0,373.7 C319.3,372.5 319.7,371.4 320.0,370.2 C320.3,369.0 320.7,367.9 321.0,366.7 C321.3,365.5 321.7,364.3 322.0,363.0 C322.3,361.8 322.7,360.5 323.0,359.2 C323.3,357.9 323.7,356.6 324.0,355.2 C324.3,353.8 324.7,352.3 325.0,350.9 C325.3,349.4 325.7,347.9 326.0,346.3 C326.3,344.8 326.7,343.2 327.0,341.7 C327.3,340.1 327.7,338.5 328.0,337.0 C328.3,335.4 328.7,333.8 329.0,332.3 C329.3,330.8 329.7,329.2 330.0,327.7 C330.3,326.2 330.7,324.7 331.0,323.2 C331.3,321.7 331.7,320.1 332.0,318.6 C332.3,317.1 332.7,315.6 333.0,314.2 C333.3,312.7 333.7,311.2 334.0,309.9 C334.3,308.5 334.7,307.2 335.0,306.0 C335.3,304.7 335.7,303.6 336.0,302.6 C336.3,301.5 336.7,300.6 337.0,299.7 C337.3,298.9 337.7,298.1 338.0,297.4 C338.3,296.8 338.7,296.2 339.0,295.7 C339.3,295.2 339.7,294.7 340.0,294.4 C340.3,294.1 340.7,293.8 341.0,293.6 C341.3,293.4 341.7,293.3 342.0,293.3 C342.3,293.2 342.7,293.3 343.0,293.5 C343.3,293.7 343.7,293.9 344.0,294.3 C344.3,294.7 344.7,295.1 345.0,295.7 C345.3,296.3 345.7,297.0 346.0,297.8 C346.3,298.5 346.7,299.4 347.0,300.4 C347.3,301.3 347.7,302.3 348.0,303.4 C348.3,304.4 348.7,305.5 349.0,306.7 C349.3,307.9 349.7,309.1 350.0,310.5 C350.3,311.9 350.7,313.3 351.0,314.8 C351.3,316.3 351.7,317.9 352.0,319.6 C352.3,321.2 352.7,322.8 353.0,324.5 C353.3,326.2 353.7,327.9 354.0,329.6 C354.3,331.3 354.7,333.0 355.0,334.7 C355.3,336.4 355.7,338.0 356.0,339.6 C356.3,341.2 356.7,342.8 357.0,344.3 C357.3,345.8 357.7,347.3 358.0,348.7 C358.3,350.2 358.7,351.7 359.0,353.2 C359.3,354.7 359.7,356.3 360.0,357.9 C360.3,359.5 360.7,361.2 361.0,363.0 C361.3,364.7 361.7,366.5 362.0,368.2 C362.3,370.0 362.7,371.7 363.0,373.4 C363.3,375.1 363.7,376.7 364.0,378.3 C364.3,379.8 364.7,381.3 365.0,382.7 C365.3,384.1 365.7,385.5 366.0,386.8 C366.3,388.1 366.7,389.4 367.0,390.6 C367.3,391.8 367.7,393.0 368.0,394.2 C368.3,395.3 368.7,396.5 369.0,397.7 C369.3,398.8 369.7,400.0 370.0,401.1 C370.3,402.3 370.7,403.5 371.0,404.6 C371.3,405.7 371.7,406.8 372.0,407.8 C372.3,408.8 372.7,409.7 373.0,410.6 C373.3,411.4 373.7,412.1 374.0,412.9 C374.3,413.6 374.7,414.2 375.0,414.9 C375.3,415.6 375.7,416.2 376.0,416.9 C376.3,417.6 376.7,418.3 377.0,418.9 C377.3,419.6 377.7,420.3 378.0,421.0 C378.3,421.7 378.7,422.4 379.0,423.0 C379.3,423.7 379.7,424.3 380.0,424.9 C380.3,425.5 380.7,426.1 381.0,426.7 C381.3,427.3 381.7,427.8 382.0,428.4 C382.3,428.9 382.7,429.5 383.0,430.0 C383.3,430.5 383.7,431.0 384.0,431.5 C384.3,432.0 384.7,432.5 385.0,433.0 C385.3,433.5 385.7,434.0 386.0,434.4 C386.3,434.9 386.7,435.3 387.0,435.7 C387.3,436.2 387.7,436.6 388.0,437.0 C388.3,437.4 388.7,437.8 389.0,438.2 C389.3,438.5 389.7,438.9 390.0,439.2 C390.3,439.6 390.7,439.9 391.0,440.3 C391.3,440.6 391.7,440.9 392.0,441.3 C392.3,441.6 392.7,441.9 393.0,442.2 C393.3,442.6 393.7,442.9 394.0,443.2 C394.3,443.5 394.7,443.9 395.0,444.2 C395.3,444.5 395.7,444.8 396.0,445.2 C396.3,445.5 396.7,445.8 397.0,446.1 C397.3,446.5 397.7,446.8 398.0,447.1 C398.3,447.4 398.7,447.7 399.0,448.1 C399.3,448.4 399.7,448.7 400.0,449.0 C400.3,449.3 400.7,449.6 401.0,449.9 C401.3,450.1 401.7,450.4 402.0,450.7 C402.3,451.0 402.7,451.3 403.0,451.6 C403.3,451.8 403.7,452.1 404.0,452.4 C404.3,452.7 404.7,453.0 405.0,453.3 C405.3,453.6 405.7,453.9 406.0,454.2 C406.3,454.5 406.7,454.9 407.0,455.2 C407.3,455.5 407.7,455.9 408.0,456.2 C408.3,456.6 408.7,456.9 409.0,457.3 C409.3,457.6 409.7,458.0 410.0,458.3 C410.3,458.6 410.7,459.0 411.0,459.3 C411.3,459.6 411.7,459.9 412.0,460.2 C412.3,460.5 412.7,460.8 413.0,461.1 C413.3,461.4 413.7,461.7 414.0,462.0 C414.3,462.3 414.7,462.6 415.0,462.9 C415.3,463.2 415.7,463.4 416.0,463.7 C416.3,464.0 416.7,464.2 417.0,464.5 C417.3,464.7 417.7,465.0 418.0,465.2 C418.3,465.5 418.7,465.7 419.0,465.9 C419.3,466.1 419.7,466.4 420.0,466.6 C420.3,466.8 420.7,467.0 421.0,467.2 C421.3,467.4 421.7,467.6 422.0,467.8 C422.3,467.9 422.7,468.1 423.0,468.2 C423.3,468.4 423.7,468.5 424.0,468.7 C424.3,468.8 424.7,469.0 425.0,469.1 C425.3,469.2 425.7,469.3 426.0,469.4 C426.3,469.6 426.7,469.7 427.0,469.8 C427.3,469.9 427.7,470.0 428.0,470.1 C428.3,470.2 428.7,470.3 429.0,470.4 C429.3,470.5 429.7,470.6 430.0,470.7 C430.3,470.8 430.7,470.9 431.0,471.0 C431.3,471.1 431.7,471.2 432.0,471.2 C432.3,471.3 432.7,471.4 433.0,471.5 C433.3,471.6 433.7,471.7 434.0,471.7 C434.3,471.8 434.7,471.9 435.0,472.0 C435.3,472.0 435.7,472.1 436.0,472.2 C436.3,472.2 436.7,472.3 437.0,472.3 C437.3,472.4 437.7,472.4 438.0,472.5 C438.3,472.6 438.7,472.6 439.0,472.7 C439.3,472.7 439.7,472.7 440.0,472.8 C440.3,472.8 440.7,472.9 441.0,472.9 C441.3,473.0 441.7,473.0 442.0,473.0 C442.3,473.1 442.7,473.1 443.0,473.2 C443.3,473.2 443.7,473.2 444.0,473.3 C444.3,473.3 444.7,473.3 445.0,473.4 C445.3,473.4 445.7,473.4 446.0,473.5 C446.3,473.5 446.7,473.5 447.0,473.6 C447.3,473.6 447.7,473.6 448.0,473.7 C448.3,473.7 448.7,473.7 449.0,473.8 C449.3,473.8 449.7,473.8 450.0,473.9 C450.3,473.9 450.7,473.9 451.0,474.0 C451.3,474.0 451.7,474.0 452.0,474.0 C452.3,474.1 452.7,474.1 453.0,474.1 C453.3,474.2 453.7,474.2 454.0,474.2 C454.3,474.2 454.7,474.3 455.0,474.3 C455.3,474.3 455.7,474.3 456.0,474.4 C456.3,474.4 456.7,474.4 457.0,474.4 C457.3,474.5 457.7,474.5 458.0,474.5 C458.3,474.5 458.7,474.6 459.0,474.6 C459.3,474.6 459.7,474.6 460.0,474.6 C460.3,474.7 460.7,474.7 461.0,474.7 C461.3,474.7 461.7,474.8 462.0,474.8 C462.3,474.8 462.7,474.8 463.0,474.8 C463.3,474.9 463.7,474.9 464.0,474.9 C464.3,474.9 464.7,474.9 465.0,475.0 C465.3,475.0 465.7,475.0 466.0,475.0 C466.3,475.0 466.7,475.0 467.0,475.1 C467.3,475.1 467.7,475.1 468.0,475.1 C468.3,475.1 468.7,475.1 469.0,475.1 C469.3,475.2 469.7,475.2 470.0,475.2 C470.3,475.2 470.7,475.2 471.0,475.2 C471.3,475.2 471.7,475.3 472.0,475.3 C472.3,475.3 472.7,475.3 473.0,475.3 C473.3,475.3 473.7,475.3 474.0,475.3 C474.3,475.3 474.7,475.4 475.0,475.4 C475.3,475.4 475.7,475.4 476.0,475.4 C476.3,475.4 476.7,475.4 477.0,475.4 C477.3,475.4 477.7,475.4 478.0,475.4 C478.3,475.5 478.7,475.5 479.0,475.5 C479.3,475.5 479.7,475.5 480.0,475.5 C480.3,475.5 480.7,475.5 481.0,475.5 C481.3,475.5 481.7,475.5 482.0,475.5 C482.3,475.6 482.7,475.6 483.0,475.6 C483.3,475.6 483.7,475.6 484.0,475.6 C484.3,475.6 484.7,475.6 485.0,475.6 C485.3,475.6 485.7,475.6 486.0,475.6 C486.3,475.6 486.7,475.7 487.0,475.7 C487.3,475.7 487.7,475.7 488.0,475.7 C488.3,475.7 488.7,475.7 489.0,475.7 C489.3,475.7 489.7,475.7 490.0,475.7 C490.3,475.7 490.7,475.7 491.0,475.7 C491.3,475.7 491.7,475.8 492.0,475.8 C492.3,475.8 492.7,475.8 493.0,475.8 C493.3,475.8 493.7,475.8 494.0,475.8 C494.3,475.8 494.7,475.8 495.0,475.8 C495.3,475.8 495.7,475.8 496.0,475.8 C496.3,475.8 496.7,475.8 497.0,475.9 C497.3,475.9 497.7,475.9 498.0,475.9 C498.3,475.9 498.7,475.9 499.0,475.9 C499.3,475.9 499.7,475.9 500.0,475.9 C500.3,475.9 500.7,475.9 501.0,475.9 C501.3,475.9 501.7,475.9 502.0,475.9 C502.3,475.9 502.7,476.0 503.0,476.0 C503.3,476.0 503.7,476.0 504.0,476.0 C504.3,476.0 504.7,476.0 505.0,476.0 C505.3,476.0 505.7,476.0 506.0,476.0 C506.3,476.0 506.7,476.0 507.0,476.0 C507.3,476.0 507.7,476.0 508.0,476.0 C508.3,476.0 508.7,476.0 509.0,476.0 C509.3,476.1 509.7,476.1 510.0,476.1 C510.3,476.1 510.7,476.1 511.0,476.1 C511.3,476.1 511.7,476.1 512.0,476.1 C512.3,476.1 512.7,476.1 513.0,476.1 C513.3,476.1 513.7,476.1 514.0,476.1 C514.3,476.1 514.7,476.1 515.0,476.1 C515.3,476.1 515.7,476.1 516.0,476.1 C516.3,476.2 516.7,476.2 517.0,476.2 C517.3,476.2 517.7,476.2 518.0,476.2 C518.3,476.2 518.7,476.2 519.0,476.2 C519.3,476.2 519.7,476.2 520.0,476.2 C520.3,476.2 520.7,476.2 521.0,476.2 C521.3,476.2 521.7,476.2 522.0,476.2 C522.3,476.2 522.7,476.2 523.0,476.2 C523.3,476.2 523.7,476.2 524.0,476.3 C524.3,476.3 524.7,476.3 525.0,476.3 C525.3,476.3 525.7,476.3 526.0,476.3 C526.3,476.3 526.7,476.3 527.0,476.3 C527.3,476.3 527.7,476.3 528.0,476.3 C528.3,476.3 528.7,476.3 529.0,476.3 C529.3,476.3 529.7,476.3 530.0,476.3 C530.3,476.3 530.7,476.3 531.0,476.3 C531.3,476.3 531.7,476.3 532.0,476.3 C532.3,476.4 532.7,476.4 533.0,476.4 C533.3,476.4 533.7,476.4 534.0,476.4 C534.3,476.4 534.7,476.4 535.0,476.4 C535.3,476.4 535.7,476.4 536.0,476.4 C536.3,476.4 536.7,476.4 537.0,476.4 C537.3,476.4 537.7,476.4 538.0,476.4 C538.3,476.4 538.7,476.4 539.0,476.4 C539.3,476.4 539.7,476.4 540.0,476.4 C540.3,476.4 540.7,476.4 541.0,476.4 C541.3,476.4 541.7,476.5 542.0,476.5 C542.3,476.5 542.7,476.5 543.0,476.5 C543.3,476.5 543.7,476.5 544.0,476.5 C544.3,476.5 544.7,476.5 545.0,476.5 C545.3,476.5 545.7,476.5 546.0,476.5 C546.3,476.5 546.7,476.5 547.0,476.5 C547.3,476.5 547.7,476.5 548.0,476.5 C548.3,476.5 548.7,476.5 549.0,476.5 C549.3,476.5 549.7,476.5 550.0,476.5 C550.3,476.5 550.7,476.5 551.0,476.5 C551.3,476.5 551.7,476.5 552.0,476.5 C552.3,476.6 552.7,476.6 553.0,476.6 C553.3,476.6 553.7,476.6 554.0,476.6 C554.3,476.6 554.7,476.6 555.0,476.6 C555.3,476.6 555.7,476.6 556.0,476.6 C556.3,476.6 556.7,476.6 557.0,476.6 C557.3,476.6 557.7,476.6 558.0,476.6 C558.3,476.6 558.8,476.6 559.0,476.6" stroke="#2b2d82"/>
</g>
<g stroke="#8e8e8e" stroke-width="1.7" stroke-dasharray="4.8 2.85"><line x1="173.0" y1="122.4" x2="173.0" y2="492.5" stroke-dashoffset="0.00"/><line x1="343.9" y1="64.3" x2="343.9" y2="492.5" stroke-dashoffset="1.75"/><line x1="394.0" y1="122.3" x2="394.0" y2="492.5" stroke-dashoffset="2.15"/><line x1="441.2" y1="186.3" x2="441.2" y2="492.5" stroke-dashoffset="2.65"/></g>
<g fill="none" stroke="#111" stroke-width="2.4" stroke-linecap="butt">
<rect x="41.4" y="4.3" width="519.5" height="252.4"/><line x1="41.4" y1="256.7" x2="41.4" y2="261.5"/><line x1="145.3" y1="256.7" x2="145.3" y2="259.7"/><line x1="249.7" y1="256.7" x2="249.7" y2="259.7"/><line x1="353.0" y1="256.7" x2="353.0" y2="259.7"/><line x1="456.6" y1="256.7" x2="456.6" y2="259.7"/><line x1="560.9" y1="256.7" x2="560.9" y2="259.7"/>
<rect x="40.6" y="274.6" width="519.0" height="218.1"/><line x1="559.6" y1="492.7" x2="561.6" y2="492.7"/><line x1="40.6" y1="492.7" x2="40.6" y2="498.0"/><line x1="144.3" y1="492.7" x2="144.3" y2="495.8"/><line x1="247.7" y1="492.7" x2="247.7" y2="495.8"/><line x1="351.5" y1="492.7" x2="351.5" y2="495.8"/><line x1="455.4" y1="492.7" x2="455.4" y2="495.8"/><line x1="559.6" y1="492.7" x2="559.6" y2="495.8"/>
</g>
<g stroke-width="2.2">
<line x1="47.3" y1="356.9" x2="87.8" y2="356.9" stroke="#c0303a"/>
<line x1="47.3" y1="377.9" x2="87.8" y2="377.9" stroke="#e6913a"/>
<line x1="47.3" y1="400.0" x2="87.8" y2="400.0" stroke="#3f7258"/>
<line x1="47.3" y1="419.6" x2="87.8" y2="419.6" stroke="#2b2d82"/>
</g>
<text class="b" x="50.6" y="34.6" font-size="28">A</text>
<text class="b" x="51.2" y="301.8" font-size="28">B</text>
<g font-size="20.3" class="r">
<text transform="translate(345.6,27.3) scale(1.065,1)" text-anchor="middle">PMND</text>
<text transform="translate(345.4,52.4) scale(1.04,1)" text-anchor="middle">trimer bR</text>
<text transform="translate(173.2,94.2) scale(1.065,1)" text-anchor="middle">bR/PM</text>
<text transform="translate(173.2,119.2) scale(1.04,1)" text-anchor="middle">aggregate</text>
<text transform="translate(391.3,82.6) scale(1.065,1)">PMND</text>
<text transform="translate(391.8,108.2) scale(1.04,1)">monomer bR</text>
<text transform="translate(432.3,151.2) scale(1.065,1)">MSP</text>
<text transform="translate(432.6,176) scale(1.04,1)">aggregate</text>
</g>
<text class="b" transform="translate(53.2,341.5) scale(1.09,1)" font-size="16.3">NaCl conc.</text>
<g font-size="16.2" class="r">
<text transform="translate(90.2,362.9) scale(1.1,1)">0.07 M</text>
<g transform="translate(90.2,384.3) scale(1.1,1)"><path class="r" fill="#1a1a1a" d="M373,0 L285,0 L285,560 C255,531 215,503 170,476 C140,458 122,450 108,444 L108,529 C160,553 205,583 245,618 C285,652 313,685 330,716 L373,716 Z" transform="translate(0.00,0.00) scale(0.01620,-0.01620)" style="stroke-width:15.4"/><text x="9.01">.22 M</text></g>
<text transform="translate(90.2,405.7) scale(1.1,1)">2.35 M</text>
<text transform="translate(90.2,427) scale(1.1,1)">3.84 M</text>
</g>
<g font-size="21" text-anchor="middle" class="r">
<text x="41" y="521.2">5</text>
<text x="254.14" y="521.2">0</text>
<text x="464.84" y="521.2">5</text>
</g>
<path class="r" fill="#1a1a1a" d="M373,0 L285,0 L285,560 C255,531 215,503 170,476 C140,458 122,450 108,444 L108,529 C160,553 205,583 245,618 C285,652 313,685 330,716 L373,716 Z" transform="translate(236.62,521.20) scale(0.02100,-0.02100)" style="stroke-width:11.9"/><path class="r" fill="#1a1a1a" d="M373,0 L285,0 L285,560 C255,531 215,503 170,476 C140,458 122,450 108,444 L108,529 C160,553 205,583 245,618 C285,652 313,685 330,716 L373,716 Z" transform="translate(447.32,521.20) scale(0.02100,-0.02100)" style="stroke-width:11.9"/>
<text class="b" x="305" y="550.8" font-size="21.1" text-anchor="middle">Elution Volume / ml</text>
<text class="b" font-size="20.9" text-anchor="middle" transform="translate(19.2,141.6) rotate(-90)">280 nm Absorption</text>
<text class="b" font-size="21.2" text-anchor="middle" transform="translate(18.8,378.2) rotate(-90)">560 nm Absorption</text>
</svg>
</body></html>
